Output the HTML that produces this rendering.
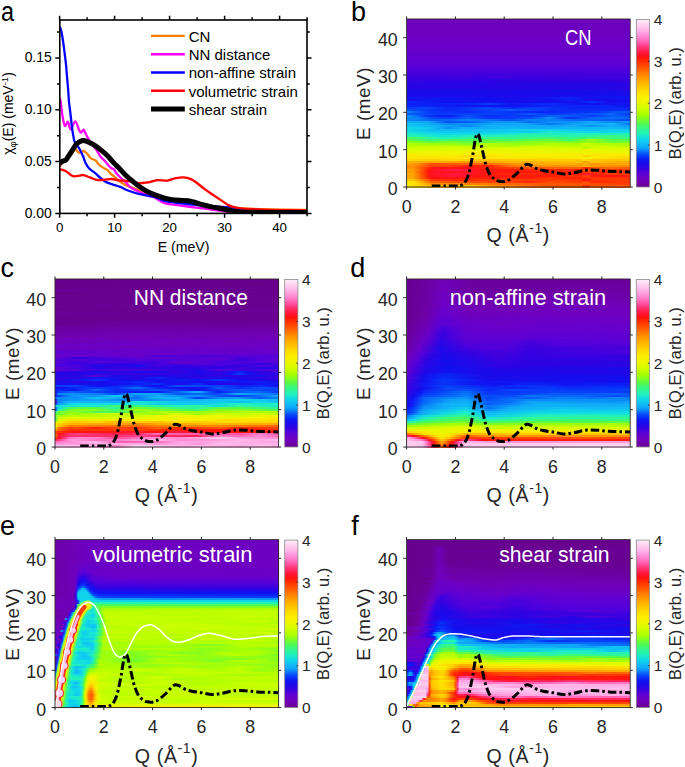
<!DOCTYPE html><html><head><meta charset="utf-8"><style>html,body{margin:0;padding:0;background:#fff;width:685px;height:767px;overflow:hidden}svg{display:block}text{font-family:"Liberation Sans",sans-serif}</style></head><body><svg width="685" height="767" viewBox="0 0 685 767" font-family='"Liberation Sans", sans-serif'><defs><linearGradient id="cbar" x1="0" y1="0" x2="0" y2="1"><stop offset="0.0000" stop-color="#ffecfa"/><stop offset="0.0125" stop-color="#ffe2f6"/><stop offset="0.0250" stop-color="#ffd8f3"/><stop offset="0.0375" stop-color="#ffceef"/><stop offset="0.0500" stop-color="#ffc1ec"/><stop offset="0.0625" stop-color="#ffb5e9"/><stop offset="0.0750" stop-color="#ffa7e4"/><stop offset="0.0875" stop-color="#ff99dc"/><stop offset="0.1000" stop-color="#ff8ad4"/><stop offset="0.1125" stop-color="#ff7cc9"/><stop offset="0.1250" stop-color="#ff6cbc"/><stop offset="0.1375" stop-color="#ff5bab"/><stop offset="0.1500" stop-color="#ff4a96"/><stop offset="0.1625" stop-color="#ff3a7e"/><stop offset="0.1750" stop-color="#ff2c67"/><stop offset="0.1875" stop-color="#ff2151"/><stop offset="0.2000" stop-color="#ff173c"/><stop offset="0.2125" stop-color="#ff1426"/><stop offset="0.2250" stop-color="#ff1010"/><stop offset="0.2375" stop-color="#ff1f09"/><stop offset="0.2500" stop-color="#ff2d01"/><stop offset="0.2625" stop-color="#ff3b00"/><stop offset="0.2750" stop-color="#ff4800"/><stop offset="0.2875" stop-color="#ff5600"/><stop offset="0.3000" stop-color="#ff6400"/><stop offset="0.3125" stop-color="#ff7300"/><stop offset="0.3250" stop-color="#ff8000"/><stop offset="0.3375" stop-color="#ff8d00"/><stop offset="0.3500" stop-color="#ff9a00"/><stop offset="0.3625" stop-color="#ffa600"/><stop offset="0.3750" stop-color="#ffb200"/><stop offset="0.3875" stop-color="#ffbc00"/><stop offset="0.4000" stop-color="#ffc600"/><stop offset="0.4125" stop-color="#ffd000"/><stop offset="0.4250" stop-color="#ffda00"/><stop offset="0.4375" stop-color="#fee200"/><stop offset="0.4500" stop-color="#fbe900"/><stop offset="0.4625" stop-color="#f9ef00"/><stop offset="0.4750" stop-color="#f4f200"/><stop offset="0.4875" stop-color="#eef500"/><stop offset="0.5000" stop-color="#e9f700"/><stop offset="0.5125" stop-color="#dffa00"/><stop offset="0.5250" stop-color="#d5fd00"/><stop offset="0.5375" stop-color="#c9ff00"/><stop offset="0.5500" stop-color="#bdff00"/><stop offset="0.5625" stop-color="#b0ff00"/><stop offset="0.5750" stop-color="#9cff0d"/><stop offset="0.5875" stop-color="#88ff1b"/><stop offset="0.6000" stop-color="#74fd2c"/><stop offset="0.6125" stop-color="#60fa40"/><stop offset="0.6250" stop-color="#4ef855"/><stop offset="0.6375" stop-color="#41f86e"/><stop offset="0.6500" stop-color="#35f886"/><stop offset="0.6625" stop-color="#2cf69c"/><stop offset="0.6750" stop-color="#25f3b0"/><stop offset="0.6875" stop-color="#1feec3"/><stop offset="0.7000" stop-color="#18e4d4"/><stop offset="0.7125" stop-color="#11dae5"/><stop offset="0.7250" stop-color="#10ceed"/><stop offset="0.7375" stop-color="#10c2f3"/><stop offset="0.7500" stop-color="#10b6f8"/><stop offset="0.7625" stop-color="#10aaf8"/><stop offset="0.7750" stop-color="#0c94f8"/><stop offset="0.7875" stop-color="#0879f8"/><stop offset="0.8000" stop-color="#0857f8"/><stop offset="0.8125" stop-color="#0840f8"/><stop offset="0.8250" stop-color="#092cf7"/><stop offset="0.8375" stop-color="#0e18f2"/><stop offset="0.8500" stop-color="#150eee"/><stop offset="0.8625" stop-color="#1d0aea"/><stop offset="0.8750" stop-color="#2706e6"/><stop offset="0.8875" stop-color="#3302e2"/><stop offset="0.9000" stop-color="#4300dd"/><stop offset="0.9125" stop-color="#5400d9"/><stop offset="0.9250" stop-color="#5f00d2"/><stop offset="0.9375" stop-color="#6800ca"/><stop offset="0.9500" stop-color="#6d00c1"/><stop offset="0.9625" stop-color="#7000b8"/><stop offset="0.9750" stop-color="#6e00ab"/><stop offset="0.9875" stop-color="#6b009d"/><stop offset="1.0000" stop-color="#68008c"/></linearGradient></defs><defs><clipPath id="clipa"><rect x="59.8" y="20.0" width="247.2" height="193.4"/></clipPath></defs><g clip-path="url(#clipa)" fill="none" stroke-linejoin="round" stroke-linecap="round"><path d="M60.10,165.70C60.72,164.97 62.57,162.67 63.80,161.30C65.03,159.93 66.40,158.48 67.50,157.50C68.60,156.52 69.40,156.40 70.40,155.40C71.40,154.40 72.63,152.52 73.50,151.50C74.37,150.48 74.67,149.08 75.60,149.30C76.53,149.52 77.78,152.52 79.10,152.80C80.42,153.08 82.18,150.87 83.50,151.00C84.82,151.13 85.83,152.43 87.00,153.60C88.17,154.77 89.42,157.02 90.50,158.00C91.58,158.98 92.62,159.07 93.50,159.50C94.38,159.93 94.83,159.68 95.80,160.60C96.77,161.52 97.85,163.68 99.30,165.00C100.75,166.32 103.13,167.67 104.50,168.50C105.87,169.33 106.62,169.27 107.50,170.00C108.38,170.73 108.55,171.68 109.80,172.90C111.05,174.12 113.25,175.83 115.00,177.30C116.75,178.77 118.47,180.38 120.30,181.70C122.13,183.02 123.98,184.18 126.00,185.20C128.02,186.22 130.12,186.95 132.40,187.80C134.68,188.65 137.03,189.37 139.70,190.30C142.37,191.23 145.85,192.38 148.40,193.40C150.95,194.42 151.40,195.22 155.00,196.40C158.60,197.58 164.17,199.32 170.00,200.50C175.83,201.68 183.33,202.62 190.00,203.50C196.67,204.38 203.33,205.13 210.00,205.80C216.67,206.47 223.33,207.00 230.00,207.50C236.67,208.00 241.67,208.45 250.00,208.80C258.33,209.15 270.67,209.40 280.00,209.60C289.33,209.80 301.67,209.93 306.00,210.00" stroke="#ff7f00" stroke-width="2.3"/><path d="M60.10,98.80C60.25,99.67 60.63,101.37 61.00,104.00C61.37,106.63 61.67,110.97 62.30,114.60C62.93,118.23 63.85,124.60 64.80,125.80C65.75,127.00 67.03,121.20 68.00,121.80C68.97,122.40 69.38,129.47 70.60,129.40C71.82,129.33 73.88,121.30 75.30,121.40C76.72,121.50 78.17,128.13 79.10,130.00C80.03,131.87 80.18,132.63 80.90,132.60C81.62,132.57 82.82,130.08 83.40,129.80C83.98,129.52 83.65,129.55 84.40,130.90C85.15,132.25 86.58,135.57 87.90,137.90C89.22,140.23 90.85,142.87 92.30,144.90C93.75,146.93 95.28,148.20 96.60,150.10C97.92,152.00 98.88,154.55 100.20,156.30C101.52,158.05 103.05,159.00 104.50,160.60C105.95,162.20 107.73,164.58 108.90,165.90C110.07,167.22 110.70,167.98 111.50,168.50C112.30,169.02 112.82,168.12 113.70,169.00C114.58,169.88 115.42,172.13 116.80,173.80C118.18,175.47 120.47,177.55 122.00,179.00C123.53,180.45 124.52,181.07 126.00,182.50C127.48,183.93 128.62,186.02 130.90,187.60C133.18,189.18 136.78,190.67 139.70,192.00C142.62,193.33 145.85,194.63 148.40,195.60C150.95,196.57 152.30,196.53 155.00,197.80C157.70,199.07 160.57,201.93 164.60,203.20C168.63,204.47 174.33,204.72 179.20,205.40C184.07,206.08 188.93,206.70 193.80,207.30C198.67,207.90 203.53,208.35 208.40,209.00C213.27,209.65 219.35,210.65 223.00,211.20C226.65,211.75 225.80,212.07 230.30,212.30C234.80,212.53 237.38,212.53 250.00,212.60C262.62,212.67 296.67,212.68 306.00,212.70" stroke="#ff00ff" stroke-width="2.3"/><path d="M60.20,27.70C60.42,28.42 60.98,29.48 61.50,32.00C62.02,34.52 62.78,39.30 63.30,42.80C63.82,46.30 64.17,49.52 64.60,53.00C65.03,56.48 65.53,60.20 65.90,63.70C66.27,67.20 66.50,70.53 66.80,74.00C67.10,77.47 67.43,81.33 67.70,84.50C67.97,87.67 68.18,90.08 68.40,93.00C68.62,95.92 68.63,98.33 69.00,102.00C69.37,105.67 70.15,111.17 70.60,115.00C71.05,118.83 71.33,122.00 71.70,125.00C72.07,128.00 72.28,130.12 72.80,133.00C73.32,135.88 73.75,139.73 74.80,142.30C75.85,144.87 77.72,146.07 79.10,148.40C80.48,150.73 82.00,153.82 83.10,156.30C84.20,158.78 84.68,161.27 85.70,163.30C86.72,165.33 87.67,166.90 89.20,168.50C90.73,170.10 93.07,171.37 94.90,172.90C96.73,174.43 98.45,176.23 100.20,177.70C101.95,179.17 103.37,180.60 105.40,181.70C107.43,182.80 109.92,183.43 112.40,184.30C114.88,185.17 117.70,185.87 120.30,186.90C122.90,187.93 124.77,189.28 128.00,190.50C131.23,191.72 135.20,193.10 139.70,194.20C144.20,195.30 150.85,195.97 155.00,197.10C159.15,198.23 160.57,199.98 164.60,201.00C168.63,202.02 174.33,202.58 179.20,203.20C184.07,203.82 188.93,204.22 193.80,204.70C198.67,205.18 203.53,205.73 208.40,206.10C213.27,206.47 219.10,206.65 223.00,206.90C226.90,207.15 228.88,207.20 231.80,207.60C234.72,208.00 237.47,208.93 240.50,209.30C243.53,209.67 244.25,209.52 250.00,209.80C255.75,210.08 265.67,210.70 275.00,211.00C284.33,211.30 300.83,211.50 306.00,211.60" stroke="#0000ff" stroke-width="2.3"/><path d="M60.10,169.30C61.08,169.62 64.17,170.22 66.00,171.20C67.83,172.18 69.63,174.33 71.10,175.20C72.57,176.07 73.40,176.33 74.80,176.40C76.20,176.47 78.05,175.82 79.50,175.60C80.95,175.38 81.67,174.75 83.50,175.10C85.33,175.45 88.32,176.90 90.50,177.70C92.68,178.50 94.40,179.53 96.60,179.90C98.80,180.27 101.22,180.05 103.70,179.90C106.18,179.75 109.03,178.92 111.50,179.00C113.97,179.08 116.08,180.10 118.50,180.40C120.92,180.70 123.93,180.62 126.00,180.80C128.07,180.98 128.62,181.10 130.90,181.50C133.18,181.90 137.02,183.03 139.70,183.20C142.38,183.37 145.28,182.70 147.00,182.50C148.72,182.30 148.28,182.40 150.00,182.00C151.72,181.60 154.38,180.33 157.30,180.10C160.22,179.87 164.58,180.88 167.50,180.60C170.42,180.32 172.12,178.93 174.80,178.40C177.48,177.87 180.92,177.28 183.60,177.40C186.28,177.52 188.72,178.20 190.90,179.10C193.08,180.00 194.52,181.22 196.70,182.80C198.88,184.38 201.57,186.78 204.00,188.60C206.43,190.42 208.62,191.87 211.30,193.70C213.98,195.53 217.18,197.65 220.10,199.60C223.02,201.55 226.13,204.07 228.80,205.40C231.47,206.73 233.67,207.07 236.10,207.60C238.53,208.13 241.08,208.37 243.40,208.60C245.72,208.83 245.57,208.80 250.00,209.00C254.43,209.20 260.67,209.58 270.00,209.80C279.33,210.02 300.00,210.22 306.00,210.30" stroke="#ff0000" stroke-width="2.3"/><path d="M60.20,162.80C60.75,162.47 62.53,161.30 63.50,160.80C64.47,160.30 64.70,161.28 66.00,159.80C67.30,158.32 69.55,154.53 71.30,151.90C73.05,149.27 74.62,145.90 76.50,144.00C78.38,142.10 80.70,140.87 82.60,140.50C84.50,140.13 86.00,141.07 87.90,141.80C89.80,142.53 91.82,143.52 94.00,144.90C96.18,146.28 98.80,148.35 101.00,150.10C103.20,151.85 105.15,153.35 107.20,155.40C109.25,157.45 111.27,160.22 113.30,162.40C115.33,164.58 117.28,166.32 119.40,168.50C121.52,170.68 123.83,173.42 126.00,175.50C128.17,177.58 130.12,179.12 132.40,181.00C134.68,182.88 137.27,185.07 139.70,186.80C142.13,188.53 144.45,190.05 147.00,191.40C149.55,192.75 152.07,193.78 155.00,194.90C157.93,196.02 161.78,197.32 164.60,198.10C167.42,198.88 169.47,199.23 171.90,199.60C174.33,199.97 176.52,200.12 179.20,200.30C181.88,200.48 185.57,200.42 188.00,200.70C190.43,200.98 191.62,201.38 193.80,202.00C195.98,202.62 198.67,203.72 201.10,204.40C203.53,205.08 205.97,205.57 208.40,206.10C210.83,206.63 213.27,207.12 215.70,207.60C218.13,208.08 220.57,208.52 223.00,209.00C225.43,209.48 227.87,210.05 230.30,210.50C232.73,210.95 234.32,211.40 237.60,211.70C240.88,212.00 238.60,212.18 250.00,212.30C261.40,212.42 296.67,212.38 306.00,212.40" stroke="#000000" stroke-width="5.0"/></g><rect x="59.8" y="20.0" width="247.2" height="193.4" fill="none" stroke="#000" stroke-width="1.6"/><path d="M59.6,213.4v4.3M59.6,20.0v-4.3M87.1,213.4v2.8M87.1,20.0v-2.8M114.6,213.4v4.3M114.6,20.0v-4.3M142.1,213.4v2.8M142.1,20.0v-2.8M169.6,213.4v4.3M169.6,20.0v-4.3M197.1,213.4v2.8M197.1,20.0v-2.8M224.6,213.4v4.3M224.6,20.0v-4.3M252.1,213.4v2.8M252.1,20.0v-2.8M279.6,213.4v4.3M279.6,20.0v-4.3M307.1,213.4v2.8M307.1,20.0v-2.8M59.8,213.4h-4.5M307.0,213.4h4.5M59.8,187.5h-2.8M307.0,187.5h2.8M59.8,161.6h-4.5M307.0,161.6h4.5M59.8,135.7h-2.8M307.0,135.7h2.8M59.8,109.8h-4.5M307.0,109.8h4.5M59.8,83.9h-2.8M307.0,83.9h2.8M59.8,58.0h-4.5M307.0,58.0h4.5M59.8,32.1h-2.8M307.0,32.1h2.8" stroke="#000" stroke-width="1.5" fill="none"/><text x="51.7" y="217.8" text-anchor="end" font-size="13.9">0.00</text><text x="51.7" y="166.0" text-anchor="end" font-size="13.9">0.05</text><text x="51.7" y="114.2" text-anchor="end" font-size="13.9">0.10</text><text x="51.7" y="62.4" text-anchor="end" font-size="13.9">0.15</text><text x="59.6" y="232.4" text-anchor="middle" font-size="13.3">0</text><text x="114.6" y="232.4" text-anchor="middle" font-size="13.3">10</text><text x="169.6" y="232.4" text-anchor="middle" font-size="13.3">20</text><text x="224.6" y="232.4" text-anchor="middle" font-size="13.3">30</text><text x="279.6" y="232.4" text-anchor="middle" font-size="13.3">40</text><text x="183.6" y="251.5" text-anchor="middle" font-size="14.1">E (meV)</text><text transform="translate(13.4,113.5) rotate(-90)" text-anchor="middle" font-size="14">&#967;<tspan font-size="9.5" dy="3">&#966;</tspan><tspan dy="-3">(E) (meV</tspan><tspan font-size="9.5" dy="-5">-1</tspan><tspan dy="5">)</tspan></text><path d="M151,35.9H184.8" stroke="#ff7f00" stroke-width="2.4"/><text x="188.7" y="41.6" font-size="15.0">CN</text><path d="M151,54.2H184.8" stroke="#ff00ff" stroke-width="2.4"/><text x="188.7" y="59.9" font-size="15.0">NN distance</text><path d="M151,72.5H184.8" stroke="#0000ff" stroke-width="2.4"/><text x="188.7" y="78.2" font-size="15.0">non-affine strain</text><path d="M151,90.8H184.8" stroke="#ff0000" stroke-width="2.4"/><text x="188.7" y="96.5" font-size="15.0">volumetric strain</text><path d="M151,109.1H184.8" stroke="#000000" stroke-width="5.0"/><text x="188.7" y="114.8" font-size="15.0">shear strain</text><defs><linearGradient id="gb24"><stop offset="0.004" stop-color="#5400d9"/><stop offset="0.621" stop-color="#5300d9"/><stop offset="0.996" stop-color="#5300d9"/></linearGradient><linearGradient id="gb27"><stop offset="0.004" stop-color="#4500dd"/><stop offset="0.496" stop-color="#4200de"/><stop offset="0.996" stop-color="#4300dd"/></linearGradient><linearGradient id="gb28"><stop offset="0.004" stop-color="#4000de"/><stop offset="0.969" stop-color="#4100de"/><stop offset="0.996" stop-color="#4400dd"/></linearGradient><linearGradient id="gb29"><stop offset="0.004" stop-color="#3900e0"/><stop offset="0.772" stop-color="#3c00df"/><stop offset="0.996" stop-color="#3e00de"/></linearGradient><linearGradient id="gb30"><stop offset="0.004" stop-color="#3501e1"/><stop offset="0.388" stop-color="#2e03e3"/><stop offset="0.701" stop-color="#3501e1"/><stop offset="0.996" stop-color="#3501e1"/></linearGradient><linearGradient id="gb31"><stop offset="0.004" stop-color="#2d04e4"/><stop offset="0.897" stop-color="#2e03e3"/><stop offset="0.996" stop-color="#3003e3"/></linearGradient><linearGradient id="gb32"><stop offset="0.004" stop-color="#2b04e4"/><stop offset="0.254" stop-color="#2506e6"/><stop offset="0.540" stop-color="#2706e6"/><stop offset="0.844" stop-color="#2706e6"/><stop offset="0.951" stop-color="#2506e6"/><stop offset="0.996" stop-color="#2d04e4"/></linearGradient><linearGradient id="gb33"><stop offset="0.004" stop-color="#2805e5"/><stop offset="0.138" stop-color="#2c04e4"/><stop offset="0.219" stop-color="#2e03e3"/><stop offset="0.433" stop-color="#2a05e5"/><stop offset="0.933" stop-color="#2407e7"/><stop offset="0.996" stop-color="#2b04e4"/></linearGradient><linearGradient id="gb34"><stop offset="0.004" stop-color="#2805e5"/><stop offset="0.638" stop-color="#2207e7"/><stop offset="0.915" stop-color="#2506e6"/><stop offset="0.996" stop-color="#2e03e3"/></linearGradient><linearGradient id="gb35"><stop offset="0.004" stop-color="#1e09e9"/><stop offset="0.371" stop-color="#1d09e9"/><stop offset="0.496" stop-color="#2207e7"/><stop offset="0.719" stop-color="#1a0beb"/><stop offset="0.996" stop-color="#2706e6"/></linearGradient><linearGradient id="gb36"><stop offset="0.004" stop-color="#1d0aea"/><stop offset="0.165" stop-color="#190cec"/><stop offset="0.888" stop-color="#170ded"/><stop offset="0.996" stop-color="#170ded"/></linearGradient><linearGradient id="gb37"><stop offset="0.004" stop-color="#170ded"/><stop offset="0.254" stop-color="#170cec"/><stop offset="0.629" stop-color="#1d09e9"/><stop offset="0.871" stop-color="#190beb"/><stop offset="0.996" stop-color="#1c0aea"/></linearGradient><linearGradient id="gb38"><stop offset="0.004" stop-color="#1c0aea"/><stop offset="0.603" stop-color="#1a0beb"/><stop offset="0.879" stop-color="#1012f0"/><stop offset="0.996" stop-color="#120fef"/></linearGradient><linearGradient id="gb39"><stop offset="0.004" stop-color="#0f15f1"/><stop offset="0.326" stop-color="#140eee"/><stop offset="0.522" stop-color="#1a0beb"/><stop offset="0.737" stop-color="#0c21f4"/><stop offset="0.808" stop-color="#160ded"/><stop offset="0.996" stop-color="#0f16f1"/></linearGradient><linearGradient id="gb40"><stop offset="0.004" stop-color="#160ded"/><stop offset="0.103" stop-color="#0e17f2"/><stop offset="0.237" stop-color="#120fef"/><stop offset="0.656" stop-color="#130eee"/><stop offset="0.737" stop-color="#0c1ff4"/><stop offset="0.817" stop-color="#190beb"/><stop offset="0.996" stop-color="#140eee"/></linearGradient><linearGradient id="gb41"><stop offset="0.004" stop-color="#092af7"/><stop offset="0.156" stop-color="#0f13f1"/><stop offset="0.379" stop-color="#1012f0"/><stop offset="0.487" stop-color="#180cec"/><stop offset="0.656" stop-color="#120fef"/><stop offset="0.754" stop-color="#130fef"/><stop offset="0.826" stop-color="#082ef8"/><stop offset="0.897" stop-color="#150eee"/><stop offset="0.996" stop-color="#170ded"/></linearGradient><linearGradient id="gb42"><stop offset="0.004" stop-color="#0c1ef4"/><stop offset="0.246" stop-color="#0c1ff4"/><stop offset="0.299" stop-color="#0b26f5"/><stop offset="0.371" stop-color="#083cf8"/><stop offset="0.469" stop-color="#0e16f2"/><stop offset="0.638" stop-color="#0a2af6"/><stop offset="0.790" stop-color="#120fef"/><stop offset="0.996" stop-color="#0f16f1"/></linearGradient><linearGradient id="gb43"><stop offset="0.004" stop-color="#0a26f6"/><stop offset="0.219" stop-color="#0e19f2"/><stop offset="0.317" stop-color="#0f13f1"/><stop offset="0.388" stop-color="#0f14f1"/><stop offset="0.513" stop-color="#0f14f1"/><stop offset="0.638" stop-color="#0b26f5"/><stop offset="0.888" stop-color="#0b24f5"/><stop offset="0.996" stop-color="#1012f0"/></linearGradient><linearGradient id="gb44"><stop offset="0.004" stop-color="#0839f8"/><stop offset="0.094" stop-color="#0847f8"/><stop offset="0.192" stop-color="#0a26f6"/><stop offset="0.362" stop-color="#0844f8"/><stop offset="0.469" stop-color="#092af7"/><stop offset="0.567" stop-color="#0840f8"/><stop offset="0.754" stop-color="#0b22f5"/><stop offset="0.915" stop-color="#0a27f6"/><stop offset="0.996" stop-color="#0b23f5"/></linearGradient><linearGradient id="gb45"><stop offset="0.004" stop-color="#0851f8"/><stop offset="0.183" stop-color="#0b24f5"/><stop offset="0.415" stop-color="#084df8"/><stop offset="0.469" stop-color="#0859f8"/><stop offset="0.656" stop-color="#082ff8"/><stop offset="0.826" stop-color="#0a2af6"/><stop offset="0.978" stop-color="#092df7"/><stop offset="0.996" stop-color="#082ff8"/></linearGradient><linearGradient id="gb46"><stop offset="0.004" stop-color="#0983f8"/><stop offset="0.103" stop-color="#0838f8"/><stop offset="0.290" stop-color="#092bf7"/><stop offset="0.388" stop-color="#083ff8"/><stop offset="0.594" stop-color="#0b24f5"/><stop offset="0.844" stop-color="#0836f8"/><stop offset="0.951" stop-color="#0854f8"/><stop offset="0.996" stop-color="#0859f8"/></linearGradient><linearGradient id="gb47"><stop offset="0.004" stop-color="#085cf8"/><stop offset="0.067" stop-color="#084bf8"/><stop offset="0.156" stop-color="#0839f8"/><stop offset="0.335" stop-color="#0844f8"/><stop offset="0.469" stop-color="#083bf8"/><stop offset="0.549" stop-color="#0857f8"/><stop offset="0.647" stop-color="#0837f8"/><stop offset="0.862" stop-color="#0855f8"/><stop offset="0.915" stop-color="#0867f8"/><stop offset="0.996" stop-color="#083bf8"/></linearGradient><linearGradient id="gb48"><stop offset="0.004" stop-color="#0c94f8"/><stop offset="0.040" stop-color="#0874f8"/><stop offset="0.085" stop-color="#083df8"/><stop offset="0.147" stop-color="#0c1ff4"/><stop offset="0.192" stop-color="#0d1cf3"/><stop offset="0.272" stop-color="#0852f8"/><stop offset="0.371" stop-color="#092ef7"/><stop offset="0.478" stop-color="#083cf8"/><stop offset="0.558" stop-color="#0835f8"/><stop offset="0.647" stop-color="#0866f8"/><stop offset="0.746" stop-color="#0857f8"/><stop offset="0.826" stop-color="#083bf8"/><stop offset="0.924" stop-color="#085ef8"/><stop offset="0.996" stop-color="#084cf8"/></linearGradient><linearGradient id="gb49"><stop offset="0.004" stop-color="#0b8ef8"/><stop offset="0.049" stop-color="#0881f8"/><stop offset="0.121" stop-color="#0848f8"/><stop offset="0.192" stop-color="#083df8"/><stop offset="0.272" stop-color="#0860f8"/><stop offset="0.371" stop-color="#0832f8"/><stop offset="0.558" stop-color="#084df8"/><stop offset="0.638" stop-color="#0b91f8"/><stop offset="0.710" stop-color="#0842f8"/><stop offset="0.737" stop-color="#0835f8"/><stop offset="0.844" stop-color="#086af8"/><stop offset="0.942" stop-color="#086df8"/><stop offset="0.996" stop-color="#0862f8"/></linearGradient><linearGradient id="gb50"><stop offset="0.004" stop-color="#0986f8"/><stop offset="0.049" stop-color="#0882f8"/><stop offset="0.121" stop-color="#085ef8"/><stop offset="0.201" stop-color="#0868f8"/><stop offset="0.281" stop-color="#0986f8"/><stop offset="0.388" stop-color="#086ef8"/><stop offset="0.460" stop-color="#0850f8"/><stop offset="0.558" stop-color="#0882f8"/><stop offset="0.665" stop-color="#087df8"/><stop offset="0.772" stop-color="#0865f8"/><stop offset="0.924" stop-color="#085ef8"/><stop offset="0.996" stop-color="#0841f8"/></linearGradient><linearGradient id="gb51"><stop offset="0.004" stop-color="#10aaf8"/><stop offset="0.094" stop-color="#10a9f8"/><stop offset="0.183" stop-color="#0853f8"/><stop offset="0.281" stop-color="#085df8"/><stop offset="0.379" stop-color="#0b91f8"/><stop offset="0.469" stop-color="#0c96f8"/><stop offset="0.549" stop-color="#086ef8"/><stop offset="0.647" stop-color="#0b90f8"/><stop offset="0.746" stop-color="#0a8cf8"/><stop offset="0.826" stop-color="#10a7f8"/><stop offset="0.924" stop-color="#0986f8"/><stop offset="0.996" stop-color="#0d9af8"/></linearGradient><linearGradient id="gb52"><stop offset="0.004" stop-color="#10c5f1"/><stop offset="0.103" stop-color="#10acf8"/><stop offset="0.192" stop-color="#0987f8"/><stop offset="0.406" stop-color="#0fa5f8"/><stop offset="0.531" stop-color="#10a9f8"/><stop offset="0.638" stop-color="#0874f8"/><stop offset="0.746" stop-color="#0fa2f8"/><stop offset="0.924" stop-color="#10b2f8"/><stop offset="0.978" stop-color="#0987f8"/><stop offset="0.996" stop-color="#0870f8"/></linearGradient><linearGradient id="gb53"><stop offset="0.004" stop-color="#10c4f2"/><stop offset="0.094" stop-color="#10baf7"/><stop offset="0.228" stop-color="#0d99f8"/><stop offset="0.272" stop-color="#0984f8"/><stop offset="0.362" stop-color="#10b3f8"/><stop offset="0.603" stop-color="#10aaf8"/><stop offset="0.656" stop-color="#0fa5f8"/><stop offset="0.746" stop-color="#10aef8"/><stop offset="0.826" stop-color="#0b90f8"/><stop offset="0.915" stop-color="#10aef8"/><stop offset="0.996" stop-color="#0e9ef8"/></linearGradient><linearGradient id="gb54"><stop offset="0.004" stop-color="#11dae5"/><stop offset="0.094" stop-color="#10ceed"/><stop offset="0.174" stop-color="#0c96f8"/><stop offset="0.183" stop-color="#0b8df8"/><stop offset="0.254" stop-color="#10b2f8"/><stop offset="0.353" stop-color="#10acf8"/><stop offset="0.478" stop-color="#10b9f8"/><stop offset="0.576" stop-color="#10acf8"/><stop offset="0.871" stop-color="#10bcf6"/><stop offset="0.996" stop-color="#10b0f8"/></linearGradient><linearGradient id="gb55"><stop offset="0.004" stop-color="#11d9e6"/><stop offset="0.129" stop-color="#10b7f8"/><stop offset="0.406" stop-color="#10c8f0"/><stop offset="0.567" stop-color="#10d6e9"/><stop offset="0.701" stop-color="#10d0ec"/><stop offset="0.835" stop-color="#10bff5"/><stop offset="0.942" stop-color="#10d1ec"/><stop offset="0.996" stop-color="#10ccee"/></linearGradient><linearGradient id="gb56"><stop offset="0.004" stop-color="#13dddf"/><stop offset="0.138" stop-color="#10c9f0"/><stop offset="0.326" stop-color="#10c7f0"/><stop offset="0.406" stop-color="#10ccee"/><stop offset="0.487" stop-color="#10d2eb"/><stop offset="0.558" stop-color="#10ccee"/><stop offset="0.647" stop-color="#1ce9cb"/><stop offset="0.808" stop-color="#10d7e9"/><stop offset="0.996" stop-color="#10d8e7"/></linearGradient><linearGradient id="gb57"><stop offset="0.004" stop-color="#1eedc4"/><stop offset="0.076" stop-color="#17e3d5"/><stop offset="0.147" stop-color="#10d9e7"/><stop offset="0.326" stop-color="#13dce2"/><stop offset="0.478" stop-color="#1ae7d0"/><stop offset="0.558" stop-color="#24f2b4"/><stop offset="0.665" stop-color="#1eecc6"/><stop offset="0.844" stop-color="#21f1bc"/><stop offset="0.924" stop-color="#1cebc9"/><stop offset="0.996" stop-color="#25f3b0"/></linearGradient><linearGradient id="gb58"><stop offset="0.004" stop-color="#24f2b4"/><stop offset="0.049" stop-color="#23f2b6"/><stop offset="0.147" stop-color="#18e4d4"/><stop offset="0.210" stop-color="#1ae7cf"/><stop offset="0.290" stop-color="#22f1ba"/><stop offset="0.388" stop-color="#23f1b8"/><stop offset="0.496" stop-color="#29f4a6"/><stop offset="0.665" stop-color="#29f5a4"/><stop offset="0.746" stop-color="#26f3ae"/><stop offset="0.915" stop-color="#3af87d"/><stop offset="0.996" stop-color="#29f4a5"/></linearGradient><linearGradient id="gb59"><stop offset="0.004" stop-color="#4bf85a"/><stop offset="0.049" stop-color="#3ff873"/><stop offset="0.129" stop-color="#26f3ae"/><stop offset="0.192" stop-color="#21f1bd"/><stop offset="0.290" stop-color="#30f890"/><stop offset="0.379" stop-color="#36f884"/><stop offset="0.478" stop-color="#30f890"/><stop offset="0.647" stop-color="#42f86b"/><stop offset="0.737" stop-color="#34f888"/><stop offset="0.835" stop-color="#43f86a"/><stop offset="0.996" stop-color="#37f883"/></linearGradient><linearGradient id="gb60"><stop offset="0.004" stop-color="#5efa42"/><stop offset="0.058" stop-color="#47f863"/><stop offset="0.103" stop-color="#37f883"/><stop offset="0.201" stop-color="#44f869"/><stop offset="0.299" stop-color="#47f861"/><stop offset="0.371" stop-color="#56f94a"/><stop offset="0.469" stop-color="#47f862"/><stop offset="0.638" stop-color="#6afc36"/><stop offset="0.728" stop-color="#3ef873"/><stop offset="0.772" stop-color="#65fb3b"/><stop offset="0.817" stop-color="#9cff0e"/><stop offset="0.853" stop-color="#87ff1b"/><stop offset="0.915" stop-color="#55f94b"/><stop offset="0.996" stop-color="#54f94c"/></linearGradient><linearGradient id="gb61"><stop offset="0.004" stop-color="#8aff19"/><stop offset="0.103" stop-color="#62fb3e"/><stop offset="0.192" stop-color="#76fe2a"/><stop offset="0.317" stop-color="#61fa3f"/><stop offset="0.415" stop-color="#71fd2f"/><stop offset="0.567" stop-color="#8dff17"/><stop offset="0.746" stop-color="#7eff22"/><stop offset="0.826" stop-color="#95ff12"/><stop offset="0.924" stop-color="#69fc37"/><stop offset="0.996" stop-color="#75fd2b"/></linearGradient><linearGradient id="gb62"><stop offset="0.004" stop-color="#afff01"/><stop offset="0.138" stop-color="#9bff0e"/><stop offset="0.201" stop-color="#97ff11"/><stop offset="0.272" stop-color="#7bfe25"/><stop offset="0.353" stop-color="#b6ff00"/><stop offset="0.406" stop-color="#b0ff00"/><stop offset="0.496" stop-color="#93ff13"/><stop offset="0.558" stop-color="#91ff14"/><stop offset="0.647" stop-color="#b5ff00"/><stop offset="0.754" stop-color="#aaff04"/><stop offset="0.781" stop-color="#aeff01"/><stop offset="0.790" stop-color="#d0fe00"/><stop offset="0.817" stop-color="#d2fd00"/><stop offset="0.826" stop-color="#b2ff00"/><stop offset="0.978" stop-color="#abff03"/><stop offset="0.996" stop-color="#acff03"/></linearGradient><linearGradient id="gb63"><stop offset="0.004" stop-color="#b7ff00"/><stop offset="0.165" stop-color="#bdff00"/><stop offset="0.379" stop-color="#b6ff00"/><stop offset="0.460" stop-color="#a4ff08"/><stop offset="0.567" stop-color="#c9ff00"/><stop offset="0.692" stop-color="#bcff00"/><stop offset="0.746" stop-color="#b8ff00"/><stop offset="0.844" stop-color="#cbff00"/><stop offset="0.996" stop-color="#b8ff00"/></linearGradient><linearGradient id="gb64"><stop offset="0.004" stop-color="#cefe00"/><stop offset="0.424" stop-color="#dafc00"/><stop offset="0.781" stop-color="#d4fd00"/><stop offset="0.790" stop-color="#b6ff00"/><stop offset="0.817" stop-color="#b7ff00"/><stop offset="0.826" stop-color="#d4fd00"/><stop offset="0.942" stop-color="#d3fd00"/><stop offset="0.996" stop-color="#defb00"/></linearGradient><linearGradient id="gb65"><stop offset="0.004" stop-color="#dbfb00"/><stop offset="0.531" stop-color="#e6f800"/><stop offset="0.781" stop-color="#e3f900"/><stop offset="0.790" stop-color="#f4f200"/><stop offset="0.817" stop-color="#f4f200"/><stop offset="0.826" stop-color="#e3f900"/><stop offset="0.942" stop-color="#e1fa00"/><stop offset="0.996" stop-color="#eaf700"/></linearGradient><linearGradient id="gb66"><stop offset="0.004" stop-color="#eaf700"/><stop offset="0.219" stop-color="#eef500"/><stop offset="0.299" stop-color="#f4f200"/><stop offset="0.442" stop-color="#ecf600"/><stop offset="0.996" stop-color="#e9f700"/></linearGradient><linearGradient id="gb67"><stop offset="0.004" stop-color="#f9ed00"/><stop offset="0.112" stop-color="#ebf700"/><stop offset="0.219" stop-color="#f3f300"/><stop offset="0.326" stop-color="#f5f100"/><stop offset="0.674" stop-color="#f6f100"/><stop offset="0.781" stop-color="#fce700"/><stop offset="0.799" stop-color="#f4f200"/><stop offset="0.844" stop-color="#faeb00"/><stop offset="0.969" stop-color="#f4f200"/><stop offset="0.996" stop-color="#f7f100"/></linearGradient><linearGradient id="gb68"><stop offset="0.004" stop-color="#fce600"/><stop offset="0.201" stop-color="#faeb00"/><stop offset="0.290" stop-color="#ffd700"/><stop offset="0.504" stop-color="#f8f000"/><stop offset="0.710" stop-color="#f7f100"/><stop offset="0.781" stop-color="#f9ee00"/><stop offset="0.790" stop-color="#ffd700"/><stop offset="0.817" stop-color="#ffd200"/><stop offset="0.826" stop-color="#fbe900"/><stop offset="0.996" stop-color="#fee300"/></linearGradient><linearGradient id="gb69"><stop offset="0.004" stop-color="#fde400"/><stop offset="0.513" stop-color="#fce700"/><stop offset="0.621" stop-color="#ffde00"/><stop offset="0.817" stop-color="#f9ee00"/><stop offset="0.996" stop-color="#ffd500"/></linearGradient><linearGradient id="gb70"><stop offset="0.004" stop-color="#ffda00"/><stop offset="0.112" stop-color="#ffcb00"/><stop offset="0.201" stop-color="#ffd900"/><stop offset="0.371" stop-color="#ffc100"/><stop offset="0.594" stop-color="#ffd100"/><stop offset="0.781" stop-color="#ffc800"/><stop offset="0.790" stop-color="#ffdb00"/><stop offset="0.817" stop-color="#ffdb00"/><stop offset="0.826" stop-color="#ffc800"/><stop offset="0.942" stop-color="#ffc100"/><stop offset="0.996" stop-color="#ffcc00"/></linearGradient><linearGradient id="gb71"><stop offset="0.004" stop-color="#ffb500"/><stop offset="0.281" stop-color="#ff9a00"/><stop offset="0.478" stop-color="#ffb800"/><stop offset="0.567" stop-color="#ffb200"/><stop offset="0.754" stop-color="#ffc400"/><stop offset="0.781" stop-color="#ffc400"/><stop offset="0.790" stop-color="#ffa300"/><stop offset="0.817" stop-color="#ffa300"/><stop offset="0.826" stop-color="#ffc300"/><stop offset="0.987" stop-color="#ffad00"/><stop offset="0.996" stop-color="#ffaa00"/></linearGradient><linearGradient id="gb72"><stop offset="0.004" stop-color="#ffa600"/><stop offset="0.040" stop-color="#ff9700"/><stop offset="0.112" stop-color="#ff4f00"/><stop offset="0.362" stop-color="#ff6d00"/><stop offset="0.496" stop-color="#ff9300"/><stop offset="0.594" stop-color="#ffab00"/><stop offset="0.746" stop-color="#ffae00"/><stop offset="0.781" stop-color="#ffa200"/><stop offset="0.790" stop-color="#ffb000"/><stop offset="0.817" stop-color="#ffa700"/><stop offset="0.826" stop-color="#ff9500"/><stop offset="0.969" stop-color="#ffa700"/><stop offset="0.996" stop-color="#ffa700"/></linearGradient><linearGradient id="gb73"><stop offset="0.004" stop-color="#ff8d00"/><stop offset="0.031" stop-color="#ff9300"/><stop offset="0.112" stop-color="#ff3f00"/><stop offset="0.192" stop-color="#ff4400"/><stop offset="0.290" stop-color="#ff1c0a"/><stop offset="0.371" stop-color="#ff2506"/><stop offset="0.469" stop-color="#ff7500"/><stop offset="0.576" stop-color="#ff9300"/><stop offset="0.665" stop-color="#ff9000"/><stop offset="0.781" stop-color="#ff9a00"/><stop offset="0.790" stop-color="#ffac00"/><stop offset="0.817" stop-color="#ffab00"/><stop offset="0.826" stop-color="#ff9800"/><stop offset="0.996" stop-color="#ff8c00"/></linearGradient><linearGradient id="gb74"><stop offset="0.004" stop-color="#ff8f00"/><stop offset="0.031" stop-color="#ff8f00"/><stop offset="0.103" stop-color="#ff2207"/><stop offset="0.121" stop-color="#ff160d"/><stop offset="0.272" stop-color="#ff1117"/><stop offset="0.415" stop-color="#ff3100"/><stop offset="0.531" stop-color="#ff4d00"/><stop offset="0.656" stop-color="#ff6200"/><stop offset="0.763" stop-color="#ff6400"/><stop offset="0.781" stop-color="#ff6100"/><stop offset="0.790" stop-color="#ff3600"/><stop offset="0.817" stop-color="#ff3100"/><stop offset="0.826" stop-color="#ff5a00"/><stop offset="0.924" stop-color="#ff6c00"/><stop offset="0.996" stop-color="#ff5900"/></linearGradient><linearGradient id="gb75"><stop offset="0.004" stop-color="#ffa800"/><stop offset="0.031" stop-color="#ffa000"/><stop offset="0.094" stop-color="#ff2505"/><stop offset="0.103" stop-color="#ff130e"/><stop offset="0.112" stop-color="#ff1320"/><stop offset="0.228" stop-color="#ff1e4c"/><stop offset="0.281" stop-color="#ff1738"/><stop offset="0.335" stop-color="#ff130e"/><stop offset="0.397" stop-color="#ff1b0b"/><stop offset="0.478" stop-color="#ff1a0b"/><stop offset="0.585" stop-color="#ff2d01"/><stop offset="0.763" stop-color="#ff2406"/><stop offset="0.781" stop-color="#ff2705"/><stop offset="0.790" stop-color="#ff4000"/><stop offset="0.817" stop-color="#ff4400"/><stop offset="0.826" stop-color="#ff2d01"/><stop offset="0.996" stop-color="#ff4500"/></linearGradient><linearGradient id="gb76"><stop offset="0.004" stop-color="#ff9b00"/><stop offset="0.031" stop-color="#ff9500"/><stop offset="0.094" stop-color="#ff2008"/><stop offset="0.103" stop-color="#ff1011"/><stop offset="0.112" stop-color="#ff1323"/><stop offset="0.210" stop-color="#ff1320"/><stop offset="0.567" stop-color="#ff1b0b"/><stop offset="0.781" stop-color="#ff2b02"/><stop offset="0.790" stop-color="#ff3a00"/><stop offset="0.817" stop-color="#ff3b00"/><stop offset="0.835" stop-color="#ff2903"/><stop offset="0.924" stop-color="#ff1f08"/><stop offset="0.996" stop-color="#ff4300"/></linearGradient><linearGradient id="gb77"><stop offset="0.004" stop-color="#ffaf00"/><stop offset="0.031" stop-color="#ffa300"/><stop offset="0.085" stop-color="#ff3300"/><stop offset="0.103" stop-color="#ff1114"/><stop offset="0.112" stop-color="#ff1428"/><stop offset="0.237" stop-color="#ff183e"/><stop offset="0.299" stop-color="#ff1426"/><stop offset="0.362" stop-color="#ff170c"/><stop offset="0.478" stop-color="#ff2c02"/><stop offset="0.585" stop-color="#ff2605"/><stop offset="0.683" stop-color="#ff2107"/><stop offset="0.781" stop-color="#ff1d0a"/><stop offset="0.790" stop-color="#ff173c"/><stop offset="0.817" stop-color="#ff1738"/><stop offset="0.826" stop-color="#ff2207"/><stop offset="0.933" stop-color="#ff3900"/><stop offset="0.996" stop-color="#ff3500"/></linearGradient><linearGradient id="gb78"><stop offset="0.004" stop-color="#ffa700"/><stop offset="0.031" stop-color="#ff9f00"/><stop offset="0.094" stop-color="#ff2705"/><stop offset="0.103" stop-color="#ff150e"/><stop offset="0.121" stop-color="#ff121f"/><stop offset="0.210" stop-color="#ff173d"/><stop offset="0.299" stop-color="#ff120f"/><stop offset="0.522" stop-color="#ff1b0a"/><stop offset="0.656" stop-color="#ff1b0a"/><stop offset="0.737" stop-color="#ff3500"/><stop offset="0.781" stop-color="#ff2804"/><stop offset="0.790" stop-color="#ff4200"/><stop offset="0.817" stop-color="#ff3b00"/><stop offset="0.826" stop-color="#ff1b0a"/><stop offset="0.933" stop-color="#ff130f"/><stop offset="0.996" stop-color="#ff2207"/></linearGradient><linearGradient id="gb79"><stop offset="0.004" stop-color="#ffad00"/><stop offset="0.031" stop-color="#ffa500"/><stop offset="0.094" stop-color="#ff2e01"/><stop offset="0.112" stop-color="#ff1010"/><stop offset="0.219" stop-color="#ff1110"/><stop offset="0.299" stop-color="#ff2108"/><stop offset="0.388" stop-color="#ff1c0a"/><stop offset="0.478" stop-color="#ff2804"/><stop offset="0.558" stop-color="#ff1f09"/><stop offset="0.647" stop-color="#ff3600"/><stop offset="0.746" stop-color="#ff1f09"/><stop offset="0.781" stop-color="#ff2406"/><stop offset="0.808" stop-color="#ff3200"/><stop offset="0.871" stop-color="#ff3400"/><stop offset="0.960" stop-color="#ff3500"/><stop offset="0.996" stop-color="#ff3000"/></linearGradient><linearGradient id="gb80"><stop offset="0.004" stop-color="#ffc700"/><stop offset="0.031" stop-color="#ffc400"/><stop offset="0.094" stop-color="#ff5f00"/><stop offset="0.112" stop-color="#ff3c00"/><stop offset="0.219" stop-color="#ff2804"/><stop offset="0.406" stop-color="#ff3c00"/><stop offset="0.585" stop-color="#ff3900"/><stop offset="0.692" stop-color="#ff3a00"/><stop offset="0.781" stop-color="#ff3400"/><stop offset="0.790" stop-color="#ff1117"/><stop offset="0.817" stop-color="#ff1119"/><stop offset="0.826" stop-color="#ff3300"/><stop offset="0.996" stop-color="#ff3a00"/></linearGradient><linearGradient id="gb81"><stop offset="0.004" stop-color="#faeb00"/><stop offset="0.040" stop-color="#ffdc00"/><stop offset="0.112" stop-color="#ff6200"/><stop offset="0.210" stop-color="#ff4f00"/><stop offset="0.469" stop-color="#ff3e00"/><stop offset="0.558" stop-color="#ff2904"/><stop offset="0.647" stop-color="#ff4d00"/><stop offset="0.772" stop-color="#ff3500"/><stop offset="0.781" stop-color="#ff3200"/><stop offset="0.790" stop-color="#ff4f00"/><stop offset="0.817" stop-color="#ff4500"/><stop offset="0.826" stop-color="#ff2406"/><stop offset="0.960" stop-color="#ff3600"/><stop offset="0.996" stop-color="#ff3600"/></linearGradient><linearGradient id="gb82"><stop offset="0.004" stop-color="#fbe900"/><stop offset="0.040" stop-color="#ffdf00"/><stop offset="0.112" stop-color="#ff9000"/><stop offset="0.246" stop-color="#ff8900"/><stop offset="0.594" stop-color="#ff5600"/><stop offset="0.799" stop-color="#ff5300"/><stop offset="0.951" stop-color="#ff3e00"/><stop offset="0.996" stop-color="#ff3f00"/></linearGradient><linearGradient id="gb83"><stop offset="0.004" stop-color="#fbe900"/><stop offset="0.058" stop-color="#ffd600"/><stop offset="0.121" stop-color="#ffb200"/><stop offset="0.290" stop-color="#ffc000"/><stop offset="0.397" stop-color="#ff9200"/><stop offset="0.576" stop-color="#ff6700"/><stop offset="0.656" stop-color="#ff5500"/><stop offset="0.781" stop-color="#ff5800"/><stop offset="0.790" stop-color="#ff3400"/><stop offset="0.817" stop-color="#ff3400"/><stop offset="0.826" stop-color="#ff5800"/><stop offset="0.996" stop-color="#ff5500"/></linearGradient><clipPath id="clb"><rect x="406.6" y="19.0" width="223.6" height="168.0"/></clipPath></defs><g shape-rendering="crispEdges"><rect x="406.6" y="19.00" width="223.6" height="2.60" fill="#6e00be"/><rect x="406.6" y="21.00" width="223.6" height="2.60" fill="#6e00be"/><rect x="406.6" y="23.00" width="223.6" height="2.60" fill="#6d00bf"/><rect x="406.6" y="25.00" width="223.6" height="2.60" fill="#6d00c0"/><rect x="406.6" y="27.00" width="223.6" height="2.60" fill="#6d00c0"/><rect x="406.6" y="29.00" width="223.6" height="2.60" fill="#6d00c1"/><rect x="406.6" y="31.00" width="223.6" height="2.60" fill="#6d00c1"/><rect x="406.6" y="33.00" width="223.6" height="2.60" fill="#6c00c2"/><rect x="406.6" y="35.00" width="223.6" height="2.60" fill="#6c00c3"/><rect x="406.6" y="37.00" width="223.6" height="2.60" fill="#6c00c4"/><rect x="406.6" y="39.00" width="223.6" height="2.60" fill="#6b00c5"/><rect x="406.6" y="41.00" width="223.6" height="2.60" fill="#6b00c6"/><rect x="406.6" y="43.00" width="223.6" height="2.60" fill="#6a00c7"/><rect x="406.6" y="45.00" width="223.6" height="2.60" fill="#6a00c8"/><rect x="406.6" y="47.00" width="223.6" height="2.60" fill="#6800ca"/><rect x="406.6" y="49.00" width="223.6" height="2.60" fill="#6700ca"/><rect x="406.6" y="51.00" width="223.6" height="2.60" fill="#6600cc"/><rect x="406.6" y="53.00" width="223.6" height="2.60" fill="#6500cc"/><rect x="406.6" y="55.00" width="223.6" height="2.60" fill="#6300ce"/><rect x="406.6" y="57.00" width="223.6" height="2.60" fill="#6100d0"/><rect x="406.6" y="59.00" width="223.6" height="2.60" fill="#6100d0"/><rect x="406.6" y="61.00" width="223.6" height="2.60" fill="#5e00d3"/><rect x="406.6" y="63.00" width="223.6" height="2.60" fill="#5b00d5"/><rect x="406.6" y="65.00" width="223.6" height="2.60" fill="#5a00d6"/><rect x="406.6" y="67.00" width="223.6" height="2.60" fill="url(#gb24)"/><rect x="406.6" y="69.00" width="223.6" height="2.60" fill="#4f00da"/><rect x="406.6" y="71.00" width="223.6" height="2.60" fill="#4a00dc"/><rect x="406.6" y="73.00" width="223.6" height="2.60" fill="url(#gb27)"/><rect x="406.6" y="75.00" width="223.6" height="2.60" fill="url(#gb28)"/><rect x="406.6" y="77.00" width="223.6" height="2.60" fill="url(#gb29)"/><rect x="406.6" y="79.00" width="223.6" height="2.60" fill="url(#gb30)"/><rect x="406.6" y="81.00" width="223.6" height="2.60" fill="url(#gb31)"/><rect x="406.6" y="83.00" width="223.6" height="2.60" fill="url(#gb32)"/><rect x="406.6" y="85.00" width="223.6" height="2.60" fill="url(#gb33)"/><rect x="406.6" y="87.00" width="223.6" height="2.60" fill="url(#gb34)"/><rect x="406.6" y="89.00" width="223.6" height="2.60" fill="url(#gb35)"/><rect x="406.6" y="91.00" width="223.6" height="2.60" fill="url(#gb36)"/><rect x="406.6" y="93.00" width="223.6" height="2.60" fill="url(#gb37)"/><rect x="406.6" y="95.00" width="223.6" height="2.60" fill="url(#gb38)"/><rect x="406.6" y="97.00" width="223.6" height="2.60" fill="url(#gb39)"/><rect x="406.6" y="99.00" width="223.6" height="2.60" fill="url(#gb40)"/><rect x="406.6" y="101.00" width="223.6" height="2.60" fill="url(#gb41)"/><rect x="406.6" y="103.00" width="223.6" height="2.60" fill="url(#gb42)"/><rect x="406.6" y="105.00" width="223.6" height="2.60" fill="url(#gb43)"/><rect x="406.6" y="107.00" width="223.6" height="2.60" fill="url(#gb44)"/><rect x="406.6" y="109.00" width="223.6" height="2.60" fill="url(#gb45)"/><rect x="406.6" y="111.00" width="223.6" height="2.60" fill="url(#gb46)"/><rect x="406.6" y="113.00" width="223.6" height="2.60" fill="url(#gb47)"/><rect x="406.6" y="115.00" width="223.6" height="2.60" fill="url(#gb48)"/><rect x="406.6" y="117.00" width="223.6" height="2.60" fill="url(#gb49)"/><rect x="406.6" y="119.00" width="223.6" height="2.60" fill="url(#gb50)"/><rect x="406.6" y="121.00" width="223.6" height="2.60" fill="url(#gb51)"/><rect x="406.6" y="123.00" width="223.6" height="2.60" fill="url(#gb52)"/><rect x="406.6" y="125.00" width="223.6" height="2.60" fill="url(#gb53)"/><rect x="406.6" y="127.00" width="223.6" height="2.60" fill="url(#gb54)"/><rect x="406.6" y="129.00" width="223.6" height="2.60" fill="url(#gb55)"/><rect x="406.6" y="131.00" width="223.6" height="2.60" fill="url(#gb56)"/><rect x="406.6" y="133.00" width="223.6" height="2.60" fill="url(#gb57)"/><rect x="406.6" y="135.00" width="223.6" height="2.60" fill="url(#gb58)"/><rect x="406.6" y="137.00" width="223.6" height="2.60" fill="url(#gb59)"/><rect x="406.6" y="139.00" width="223.6" height="2.60" fill="url(#gb60)"/><rect x="406.6" y="141.00" width="223.6" height="2.60" fill="url(#gb61)"/><rect x="406.6" y="143.00" width="223.6" height="2.60" fill="url(#gb62)"/><rect x="406.6" y="145.00" width="223.6" height="2.60" fill="url(#gb63)"/><rect x="406.6" y="147.00" width="223.6" height="2.60" fill="url(#gb64)"/><rect x="406.6" y="149.00" width="223.6" height="2.60" fill="url(#gb65)"/><rect x="406.6" y="151.00" width="223.6" height="2.60" fill="url(#gb66)"/><rect x="406.6" y="153.00" width="223.6" height="2.60" fill="url(#gb67)"/><rect x="406.6" y="155.00" width="223.6" height="2.60" fill="url(#gb68)"/><rect x="406.6" y="157.00" width="223.6" height="2.60" fill="url(#gb69)"/><rect x="406.6" y="159.00" width="223.6" height="2.60" fill="url(#gb70)"/><rect x="406.6" y="161.00" width="223.6" height="2.60" fill="url(#gb71)"/><rect x="406.6" y="163.00" width="223.6" height="2.60" fill="url(#gb72)"/><rect x="406.6" y="165.00" width="223.6" height="2.60" fill="url(#gb73)"/><rect x="406.6" y="167.00" width="223.6" height="2.60" fill="url(#gb74)"/><rect x="406.6" y="169.00" width="223.6" height="2.60" fill="url(#gb75)"/><rect x="406.6" y="171.00" width="223.6" height="2.60" fill="url(#gb76)"/><rect x="406.6" y="173.00" width="223.6" height="2.60" fill="url(#gb77)"/><rect x="406.6" y="175.00" width="223.6" height="2.60" fill="url(#gb78)"/><rect x="406.6" y="177.00" width="223.6" height="2.60" fill="url(#gb79)"/><rect x="406.6" y="179.00" width="223.6" height="2.60" fill="url(#gb80)"/><rect x="406.6" y="181.00" width="223.6" height="2.60" fill="url(#gb81)"/><rect x="406.6" y="183.00" width="223.6" height="2.60" fill="url(#gb82)"/><rect x="406.6" y="185.00" width="223.6" height="2.60" fill="url(#gb83)"/></g><g clip-path="url(#clb)" fill="none"><path d="M431.73,185.99C434.05,185.99 441.49,186.01 445.64,185.99C449.79,185.97 454.18,185.96 456.62,185.88C459.06,185.80 459.18,185.82 460.28,185.51C461.38,185.20 462.35,184.68 463.21,184.01C464.06,183.35 464.67,182.69 465.40,181.51C466.14,180.33 466.91,178.74 467.60,176.92C468.29,175.10 468.94,173.04 469.55,170.61C470.16,168.18 470.69,165.15 471.26,162.36C471.83,159.57 472.48,156.59 472.97,153.85C473.46,151.11 473.78,148.43 474.19,145.93C474.59,143.43 475.00,140.71 475.41,138.84C475.81,136.97 476.26,135.57 476.63,134.73C476.99,133.89 477.28,133.80 477.60,133.80C477.93,133.80 478.21,133.89 478.58,134.73C478.95,135.57 479.31,136.91 479.80,138.84C480.29,140.77 480.94,143.81 481.51,146.31C482.08,148.81 482.61,151.17 483.22,153.85C483.83,156.52 484.48,159.85 485.17,162.36C485.86,164.87 486.63,167.00 487.36,168.93C488.10,170.86 488.75,172.54 489.56,173.93C490.37,175.33 491.23,176.30 492.24,177.29C493.26,178.29 494.52,179.25 495.66,179.91C496.80,180.56 497.94,180.93 499.08,181.21C500.21,181.49 501.39,181.59 502.49,181.59C503.59,181.59 504.57,181.52 505.66,181.21C506.76,180.90 507.94,180.37 509.08,179.72C510.22,179.07 511.28,178.26 512.50,177.29C513.72,176.33 515.14,175.12 516.40,173.93C517.66,172.75 518.84,171.51 520.06,170.20C521.28,168.89 522.58,167.09 523.72,166.09C524.86,165.10 525.67,164.35 526.89,164.23C528.11,164.10 529.37,164.60 531.04,165.35C532.71,166.09 534.86,167.84 536.90,168.71C538.93,169.58 540.56,170.01 543.24,170.57C545.92,171.13 549.58,171.51 553.00,172.07C556.42,172.63 560.08,173.87 563.74,173.93C567.40,174.00 571.34,173.06 574.96,172.44C578.58,171.82 581.79,170.57 585.45,170.20C589.11,169.83 592.98,170.01 596.92,170.20C600.86,170.39 605.05,171.07 609.12,171.32C613.19,171.57 617.82,171.57 621.32,171.69C624.82,171.82 628.64,172.00 630.10,172.07" stroke="#000" stroke-width="3" stroke-dasharray="8.5 3 2.6 3"/></g><rect x="406.6" y="19.0" width="223.6" height="168.0" fill="none" stroke="#262626" stroke-width="0.9"/><path d="M406.6,187.0v2.6M406.6,19.0v-2.6M455.4,187.0v2.6M455.4,19.0v-2.6M504.2,187.0v2.6M504.2,19.0v-2.6M553.0,187.0v2.6M553.0,19.0v-2.6M601.8,187.0v2.6M601.8,19.0v-2.6M406.6,187.0h-3.4M630.2,187.0h2.6M406.6,149.7h-3.4M630.2,149.7h2.6M406.6,112.3h-3.4M630.2,112.3h2.6M406.6,75.0h-3.4M630.2,75.0h2.6M406.6,37.7h-3.4M630.2,37.7h2.6" stroke="#262626" stroke-width="1" fill="none"/><text x="397.7" y="195.0" text-anchor="end" font-size="17.8" fill="#262626">0</text><text x="397.7" y="157.7" text-anchor="end" font-size="17.8" fill="#262626">10</text><text x="397.7" y="120.3" text-anchor="end" font-size="17.8" fill="#262626">20</text><text x="397.7" y="83.0" text-anchor="end" font-size="17.8" fill="#262626">30</text><text x="397.7" y="45.7" text-anchor="end" font-size="17.8" fill="#262626">40</text><text x="406.6" y="212.7" text-anchor="middle" font-size="17.8" fill="#262626">0</text><text x="455.4" y="212.7" text-anchor="middle" font-size="17.8" fill="#262626">2</text><text x="504.2" y="212.7" text-anchor="middle" font-size="17.8" fill="#262626">4</text><text x="553.0" y="212.7" text-anchor="middle" font-size="17.8" fill="#262626">6</text><text x="601.8" y="212.7" text-anchor="middle" font-size="17.8" fill="#262626">8</text><text x="517.9" y="242.2" text-anchor="middle" font-size="19.6" fill="#262626" textLength="63" lengthAdjust="spacing">Q (&#197;<tspan font-size="14" dy="-9.5">-1</tspan><tspan dy="9.5">)</tspan></text><text transform="translate(370.4,103.8) rotate(-90)" text-anchor="middle" font-size="18.8" fill="#262626" textLength="72.5" lengthAdjust="spacing">E (meV)</text><rect x="636.3" y="19.5" width="13.2" height="167.5" fill="url(#cbar)" stroke="#8a8a8a" stroke-width="0.8"/><path d="M649.5,145.1h-1.6M649.5,103.2h-1.6M649.5,61.4h-1.6" stroke="#262626" stroke-width="0.9"/><text x="653.7" y="192.6" font-size="15.5" fill="#262626">0</text><text x="653.7" y="150.7" font-size="15.5" fill="#262626">1</text><text x="653.7" y="108.8" font-size="15.5" fill="#262626">2</text><text x="653.7" y="67.0" font-size="15.5" fill="#262626">3</text><text x="653.7" y="25.1" font-size="15.5" fill="#262626">4</text><text transform="translate(680.6,103.3) rotate(-90)" text-anchor="middle" font-size="16.4" fill="#262626">B(Q,E) (arb. u.)</text><text x="565.1" y="45.1" font-size="22" fill="#fff" textLength="26.5" lengthAdjust="spacingAndGlyphs">CN</text><defs><linearGradient id="gc0"><stop offset="0.004" stop-color="#68008d"/><stop offset="0.308" stop-color="#690093"/><stop offset="0.996" stop-color="#68008c"/></linearGradient><linearGradient id="gc2"><stop offset="0.004" stop-color="#690090"/><stop offset="0.415" stop-color="#69008f"/><stop offset="0.996" stop-color="#68008c"/></linearGradient><linearGradient id="gc3"><stop offset="0.004" stop-color="#68008c"/><stop offset="0.478" stop-color="#68008d"/><stop offset="0.996" stop-color="#68008c"/></linearGradient><linearGradient id="gc4"><stop offset="0.004" stop-color="#68008c"/><stop offset="0.888" stop-color="#6a0095"/><stop offset="0.996" stop-color="#690091"/></linearGradient><linearGradient id="gc5"><stop offset="0.004" stop-color="#6a0098"/><stop offset="0.237" stop-color="#69008f"/><stop offset="0.996" stop-color="#68008e"/></linearGradient><linearGradient id="gc7"><stop offset="0.004" stop-color="#68008c"/><stop offset="0.665" stop-color="#68008d"/><stop offset="0.996" stop-color="#68008e"/></linearGradient><linearGradient id="gc8"><stop offset="0.004" stop-color="#69008f"/><stop offset="0.129" stop-color="#690092"/><stop offset="0.237" stop-color="#690093"/><stop offset="0.996" stop-color="#68008c"/></linearGradient><linearGradient id="gc10"><stop offset="0.004" stop-color="#690092"/><stop offset="0.433" stop-color="#6a0094"/><stop offset="0.969" stop-color="#690090"/><stop offset="0.996" stop-color="#690091"/></linearGradient><linearGradient id="gc12"><stop offset="0.004" stop-color="#68008c"/><stop offset="0.210" stop-color="#6a0098"/><stop offset="0.335" stop-color="#690093"/><stop offset="0.772" stop-color="#6a0094"/><stop offset="0.996" stop-color="#68008c"/></linearGradient><linearGradient id="gc15"><stop offset="0.004" stop-color="#68008c"/><stop offset="0.237" stop-color="#68008d"/><stop offset="0.996" stop-color="#6a0097"/></linearGradient><linearGradient id="gc16"><stop offset="0.004" stop-color="#6a0094"/><stop offset="0.594" stop-color="#690092"/><stop offset="0.996" stop-color="#6a0096"/></linearGradient><linearGradient id="gc17"><stop offset="0.004" stop-color="#6b0099"/><stop offset="0.772" stop-color="#690092"/><stop offset="0.987" stop-color="#6a0094"/><stop offset="0.996" stop-color="#6a0095"/></linearGradient><linearGradient id="gc18"><stop offset="0.004" stop-color="#690090"/><stop offset="0.665" stop-color="#690091"/><stop offset="0.996" stop-color="#690092"/></linearGradient><linearGradient id="gc19"><stop offset="0.004" stop-color="#690091"/><stop offset="0.424" stop-color="#690091"/><stop offset="0.844" stop-color="#690093"/><stop offset="0.996" stop-color="#6a0096"/></linearGradient><linearGradient id="gc20"><stop offset="0.004" stop-color="#690090"/><stop offset="0.335" stop-color="#690092"/><stop offset="0.888" stop-color="#690093"/><stop offset="0.996" stop-color="#68008d"/></linearGradient><linearGradient id="gc21"><stop offset="0.004" stop-color="#6a0094"/><stop offset="0.397" stop-color="#6b009c"/><stop offset="0.496" stop-color="#690093"/><stop offset="0.996" stop-color="#6a0097"/></linearGradient><linearGradient id="gc22"><stop offset="0.004" stop-color="#690092"/><stop offset="0.397" stop-color="#6c00a0"/><stop offset="0.996" stop-color="#6b009a"/></linearGradient><linearGradient id="gc23"><stop offset="0.004" stop-color="#6a0098"/><stop offset="0.335" stop-color="#6c00a0"/><stop offset="0.594" stop-color="#6c00a0"/><stop offset="0.701" stop-color="#6c009f"/><stop offset="0.960" stop-color="#6c009e"/><stop offset="0.996" stop-color="#6c00a2"/></linearGradient><linearGradient id="gc24"><stop offset="0.004" stop-color="#6c00a3"/><stop offset="0.335" stop-color="#6d00a7"/><stop offset="0.996" stop-color="#6c00a1"/></linearGradient><linearGradient id="gc25"><stop offset="0.004" stop-color="#6d00a5"/><stop offset="0.728" stop-color="#6d00a9"/><stop offset="0.996" stop-color="#6d00a8"/></linearGradient><linearGradient id="gc26"><stop offset="0.004" stop-color="#6d00a9"/><stop offset="0.728" stop-color="#6e00ad"/><stop offset="0.996" stop-color="#6e00ad"/></linearGradient><linearGradient id="gc27"><stop offset="0.004" stop-color="#6d00a9"/><stop offset="0.272" stop-color="#6f00b5"/><stop offset="0.531" stop-color="#7000b6"/><stop offset="0.996" stop-color="#6f00b1"/></linearGradient><linearGradient id="gc28"><stop offset="0.004" stop-color="#6f00af"/><stop offset="0.719" stop-color="#6f00b3"/><stop offset="0.996" stop-color="#7000b6"/></linearGradient><linearGradient id="gc29"><stop offset="0.004" stop-color="#6e00ae"/><stop offset="0.165" stop-color="#7000b8"/><stop offset="0.996" stop-color="#6f00bc"/></linearGradient><linearGradient id="gc30"><stop offset="0.004" stop-color="#6e00bf"/><stop offset="0.138" stop-color="#6d00c1"/><stop offset="0.326" stop-color="#6f00bc"/><stop offset="0.701" stop-color="#6d00bf"/><stop offset="0.996" stop-color="#6f00ba"/></linearGradient><linearGradient id="gc31"><stop offset="0.004" stop-color="#6f00af"/><stop offset="0.281" stop-color="#6d00c0"/><stop offset="0.478" stop-color="#6e00be"/><stop offset="0.799" stop-color="#7000b8"/><stop offset="0.960" stop-color="#6c00c3"/><stop offset="0.996" stop-color="#6d00c0"/></linearGradient><linearGradient id="gc32"><stop offset="0.004" stop-color="#6d00c0"/><stop offset="0.335" stop-color="#6800ca"/><stop offset="0.442" stop-color="#6e00be"/><stop offset="0.862" stop-color="#6d00c1"/><stop offset="0.978" stop-color="#6b00c4"/><stop offset="0.996" stop-color="#6c00c3"/></linearGradient><linearGradient id="gc33"><stop offset="0.004" stop-color="#6b00c6"/><stop offset="0.165" stop-color="#6c00c3"/><stop offset="0.335" stop-color="#6e00bf"/><stop offset="0.567" stop-color="#6b00c4"/><stop offset="0.674" stop-color="#6b00c6"/><stop offset="0.835" stop-color="#6d00c1"/><stop offset="0.933" stop-color="#6a00c8"/><stop offset="0.996" stop-color="#6f00ba"/></linearGradient><linearGradient id="gc34"><stop offset="0.004" stop-color="#6c00c2"/><stop offset="0.165" stop-color="#6c00c2"/><stop offset="0.915" stop-color="#6c00c2"/><stop offset="0.996" stop-color="#6e00be"/></linearGradient><linearGradient id="gc35"><stop offset="0.004" stop-color="#6b00c5"/><stop offset="0.129" stop-color="#6400ce"/><stop offset="0.469" stop-color="#6300ce"/><stop offset="0.647" stop-color="#6400cd"/><stop offset="0.951" stop-color="#6300ce"/><stop offset="0.996" stop-color="#6a00c8"/></linearGradient><linearGradient id="gc36"><stop offset="0.004" stop-color="#5c00d4"/><stop offset="0.219" stop-color="#6a00c8"/><stop offset="0.522" stop-color="#6700cb"/><stop offset="0.978" stop-color="#6b00c6"/><stop offset="0.996" stop-color="#6a00c8"/></linearGradient><linearGradient id="gc37"><stop offset="0.004" stop-color="#6100d0"/><stop offset="0.522" stop-color="#6b00c4"/><stop offset="0.683" stop-color="#6400cd"/><stop offset="0.996" stop-color="#5e00d3"/></linearGradient><linearGradient id="gc38"><stop offset="0.004" stop-color="#6800ca"/><stop offset="0.272" stop-color="#5d00d3"/><stop offset="0.379" stop-color="#6600cb"/><stop offset="0.469" stop-color="#4800dc"/><stop offset="0.567" stop-color="#5600d8"/><stop offset="0.710" stop-color="#4900dc"/><stop offset="0.853" stop-color="#5c00d4"/><stop offset="0.996" stop-color="#5300d9"/></linearGradient><linearGradient id="gc39"><stop offset="0.004" stop-color="#6800c9"/><stop offset="0.094" stop-color="#3601e1"/><stop offset="0.335" stop-color="#5d00d4"/><stop offset="0.487" stop-color="#6100d0"/><stop offset="0.603" stop-color="#5200da"/><stop offset="0.746" stop-color="#6100d0"/><stop offset="0.835" stop-color="#4200de"/><stop offset="0.951" stop-color="#5600d8"/><stop offset="0.996" stop-color="#6000d1"/></linearGradient><linearGradient id="gc40"><stop offset="0.004" stop-color="#4200dd"/><stop offset="0.103" stop-color="#5500d9"/><stop offset="0.219" stop-color="#4000de"/><stop offset="0.308" stop-color="#4800dc"/><stop offset="0.379" stop-color="#5500d9"/><stop offset="0.478" stop-color="#4a00db"/><stop offset="0.629" stop-color="#5a00d7"/><stop offset="0.754" stop-color="#5a00d7"/><stop offset="0.826" stop-color="#3e00de"/><stop offset="0.951" stop-color="#5800d8"/><stop offset="0.996" stop-color="#5900d7"/></linearGradient><linearGradient id="gc41"><stop offset="0.004" stop-color="#6300ce"/><stop offset="0.094" stop-color="#3a00e0"/><stop offset="0.201" stop-color="#5800d8"/><stop offset="0.442" stop-color="#3f00de"/><stop offset="0.478" stop-color="#4b00db"/><stop offset="0.558" stop-color="#6800c9"/><stop offset="0.746" stop-color="#4500dd"/><stop offset="0.960" stop-color="#5600d8"/><stop offset="0.996" stop-color="#5300d9"/></linearGradient><linearGradient id="gc42"><stop offset="0.004" stop-color="#4900dc"/><stop offset="0.299" stop-color="#2e03e3"/><stop offset="0.585" stop-color="#4f00da"/><stop offset="0.683" stop-color="#5500d9"/><stop offset="0.853" stop-color="#4200de"/><stop offset="0.933" stop-color="#3601e1"/><stop offset="0.996" stop-color="#4500dd"/></linearGradient><linearGradient id="gc43"><stop offset="0.004" stop-color="#4f00da"/><stop offset="0.103" stop-color="#4e00db"/><stop offset="0.183" stop-color="#1f08e8"/><stop offset="0.281" stop-color="#3302e2"/><stop offset="0.371" stop-color="#1110f0"/><stop offset="0.460" stop-color="#4700dc"/><stop offset="0.558" stop-color="#2c04e4"/><stop offset="0.656" stop-color="#4000de"/><stop offset="0.835" stop-color="#2e03e3"/><stop offset="0.924" stop-color="#4a00dc"/><stop offset="0.996" stop-color="#3c00df"/></linearGradient><linearGradient id="gc44"><stop offset="0.004" stop-color="#5b00d6"/><stop offset="0.192" stop-color="#2905e5"/><stop offset="0.379" stop-color="#3a00df"/><stop offset="0.487" stop-color="#2b04e4"/><stop offset="0.683" stop-color="#3202e2"/><stop offset="0.763" stop-color="#3401e1"/><stop offset="0.826" stop-color="#4500dd"/><stop offset="0.933" stop-color="#2905e5"/><stop offset="0.996" stop-color="#2b04e4"/></linearGradient><linearGradient id="gc45"><stop offset="0.004" stop-color="#6000d1"/><stop offset="0.201" stop-color="#3c00df"/><stop offset="0.397" stop-color="#4600dc"/><stop offset="0.594" stop-color="#2307e7"/><stop offset="0.647" stop-color="#1c0aea"/><stop offset="0.737" stop-color="#5600d9"/><stop offset="0.835" stop-color="#3b00df"/><stop offset="0.996" stop-color="#5200da"/></linearGradient><linearGradient id="gc46"><stop offset="0.004" stop-color="#3601e1"/><stop offset="0.121" stop-color="#2706e6"/><stop offset="0.192" stop-color="#180cec"/><stop offset="0.281" stop-color="#3003e3"/><stop offset="0.388" stop-color="#160ded"/><stop offset="0.487" stop-color="#2207e7"/><stop offset="0.549" stop-color="#4000de"/><stop offset="0.647" stop-color="#1c0aea"/><stop offset="0.737" stop-color="#3202e2"/><stop offset="0.799" stop-color="#0f13f1"/><stop offset="0.826" stop-color="#0a28f6"/><stop offset="0.862" stop-color="#160ded"/><stop offset="0.933" stop-color="#3401e1"/><stop offset="0.996" stop-color="#3d00df"/></linearGradient><linearGradient id="gc47"><stop offset="0.004" stop-color="#2905e5"/><stop offset="0.121" stop-color="#2706e6"/><stop offset="0.237" stop-color="#2f03e3"/><stop offset="0.344" stop-color="#3d00df"/><stop offset="0.424" stop-color="#3a00e0"/><stop offset="0.638" stop-color="#2008e8"/><stop offset="0.737" stop-color="#3202e2"/><stop offset="0.790" stop-color="#0f14f1"/><stop offset="0.817" stop-color="#0839f8"/><stop offset="0.835" stop-color="#092ef7"/><stop offset="0.871" stop-color="#160ded"/><stop offset="0.924" stop-color="#3003e3"/><stop offset="0.996" stop-color="#2506e6"/></linearGradient><linearGradient id="gc48"><stop offset="0.004" stop-color="#2706e6"/><stop offset="0.103" stop-color="#2108e8"/><stop offset="0.183" stop-color="#5b00d6"/><stop offset="0.272" stop-color="#1a0beb"/><stop offset="0.424" stop-color="#2207e7"/><stop offset="0.513" stop-color="#2307e7"/><stop offset="0.781" stop-color="#2d04e4"/><stop offset="0.924" stop-color="#150eee"/><stop offset="0.996" stop-color="#3a00df"/></linearGradient><linearGradient id="gc49"><stop offset="0.004" stop-color="#3601e1"/><stop offset="0.103" stop-color="#2d04e4"/><stop offset="0.192" stop-color="#0e17f2"/><stop offset="0.317" stop-color="#1f09e9"/><stop offset="0.371" stop-color="#2f03e3"/><stop offset="0.442" stop-color="#0d1bf3"/><stop offset="0.460" stop-color="#0a28f6"/><stop offset="0.522" stop-color="#140eee"/><stop offset="0.647" stop-color="#2a05e5"/><stop offset="0.763" stop-color="#190beb"/><stop offset="0.978" stop-color="#3900e0"/><stop offset="0.996" stop-color="#4000de"/></linearGradient><linearGradient id="gc50"><stop offset="0.004" stop-color="#2d04e4"/><stop offset="0.129" stop-color="#0d1df3"/><stop offset="0.192" stop-color="#082ff8"/><stop offset="0.272" stop-color="#140eee"/><stop offset="0.487" stop-color="#160ded"/><stop offset="0.567" stop-color="#0d1df3"/><stop offset="0.647" stop-color="#0f14f1"/><stop offset="0.737" stop-color="#0834f8"/><stop offset="0.826" stop-color="#130fef"/><stop offset="0.951" stop-color="#2108e8"/><stop offset="0.996" stop-color="#1e09e9"/></linearGradient><linearGradient id="gc51"><stop offset="0.004" stop-color="#170cec"/><stop offset="0.103" stop-color="#2b04e4"/><stop offset="0.228" stop-color="#150eee"/><stop offset="0.317" stop-color="#0e19f2"/><stop offset="0.371" stop-color="#092af7"/><stop offset="0.460" stop-color="#150eee"/><stop offset="0.558" stop-color="#0f15f1"/><stop offset="0.665" stop-color="#1b0beb"/><stop offset="0.879" stop-color="#0e17f2"/><stop offset="0.924" stop-color="#0d1ef3"/><stop offset="0.996" stop-color="#1b0aea"/></linearGradient><linearGradient id="gc52"><stop offset="0.004" stop-color="#170cec"/><stop offset="0.263" stop-color="#170ded"/><stop offset="0.379" stop-color="#0d1df3"/><stop offset="0.460" stop-color="#0834f8"/><stop offset="0.513" stop-color="#130eee"/><stop offset="0.558" stop-color="#1c0aea"/><stop offset="0.603" stop-color="#0e18f2"/><stop offset="0.638" stop-color="#0835f8"/><stop offset="0.683" stop-color="#130fef"/><stop offset="0.754" stop-color="#2905e5"/><stop offset="0.835" stop-color="#2606e6"/><stop offset="0.942" stop-color="#0e17f2"/><stop offset="0.996" stop-color="#0e1af2"/></linearGradient><linearGradient id="gc53"><stop offset="0.004" stop-color="#083af8"/><stop offset="0.094" stop-color="#0840f8"/><stop offset="0.192" stop-color="#1010f0"/><stop offset="0.371" stop-color="#0839f8"/><stop offset="0.433" stop-color="#130eee"/><stop offset="0.478" stop-color="#120fef"/><stop offset="0.549" stop-color="#084ff8"/><stop offset="0.746" stop-color="#083ff8"/><stop offset="0.835" stop-color="#0c22f4"/><stop offset="0.924" stop-color="#0a2af6"/><stop offset="0.996" stop-color="#140eee"/></linearGradient><linearGradient id="gc54"><stop offset="0.004" stop-color="#1d0aea"/><stop offset="0.058" stop-color="#0d1cf3"/><stop offset="0.156" stop-color="#083bf8"/><stop offset="0.219" stop-color="#0838f8"/><stop offset="0.281" stop-color="#082ff8"/><stop offset="0.353" stop-color="#086af8"/><stop offset="0.371" stop-color="#0871f8"/><stop offset="0.424" stop-color="#083df8"/><stop offset="0.487" stop-color="#0d1df3"/><stop offset="0.621" stop-color="#170ded"/><stop offset="0.665" stop-color="#0e17f2"/><stop offset="0.728" stop-color="#0857f8"/><stop offset="0.826" stop-color="#0831f8"/><stop offset="0.924" stop-color="#0850f8"/><stop offset="0.996" stop-color="#0842f8"/></linearGradient><linearGradient id="gc55"><stop offset="0.004" stop-color="#0b23f5"/><stop offset="0.094" stop-color="#0e19f2"/><stop offset="0.174" stop-color="#0860f8"/><stop offset="0.183" stop-color="#086bf8"/><stop offset="0.246" stop-color="#0839f8"/><stop offset="0.281" stop-color="#0a29f6"/><stop offset="0.460" stop-color="#0852f8"/><stop offset="0.638" stop-color="#140eee"/><stop offset="0.808" stop-color="#0857f8"/><stop offset="0.835" stop-color="#085af8"/><stop offset="0.924" stop-color="#0840f8"/><stop offset="0.996" stop-color="#0848f8"/></linearGradient><linearGradient id="gc56"><stop offset="0.004" stop-color="#130fef"/><stop offset="0.013" stop-color="#083ef8"/><stop offset="0.076" stop-color="#0861f8"/><stop offset="0.299" stop-color="#0b24f5"/><stop offset="0.460" stop-color="#0e19f2"/><stop offset="0.540" stop-color="#085ff8"/><stop offset="0.621" stop-color="#10a8f8"/><stop offset="0.647" stop-color="#10a9f8"/><stop offset="0.701" stop-color="#0844f8"/><stop offset="0.728" stop-color="#0c20f4"/><stop offset="0.844" stop-color="#0860f8"/><stop offset="0.915" stop-color="#0869f8"/><stop offset="0.996" stop-color="#0837f8"/></linearGradient><linearGradient id="gc57"><stop offset="0.004" stop-color="#1c0aea"/><stop offset="0.013" stop-color="#0985f8"/><stop offset="0.076" stop-color="#0b8ef8"/><stop offset="0.192" stop-color="#087cf8"/><stop offset="0.272" stop-color="#0844f8"/><stop offset="0.308" stop-color="#086cf8"/><stop offset="0.362" stop-color="#10a9f8"/><stop offset="0.460" stop-color="#0fa4f8"/><stop offset="0.549" stop-color="#0851f8"/><stop offset="0.647" stop-color="#0869f8"/><stop offset="0.728" stop-color="#0844f8"/><stop offset="0.763" stop-color="#086cf8"/><stop offset="0.817" stop-color="#10a9f8"/><stop offset="0.996" stop-color="#086ff8"/></linearGradient><linearGradient id="gc58"><stop offset="0.004" stop-color="#0d1bf3"/><stop offset="0.013" stop-color="#083df8"/><stop offset="0.049" stop-color="#0871f8"/><stop offset="0.076" stop-color="#0b91f8"/><stop offset="0.121" stop-color="#0d99f8"/><stop offset="0.183" stop-color="#0c93f8"/><stop offset="0.254" stop-color="#10c1f4"/><stop offset="0.281" stop-color="#10c5f1"/><stop offset="0.335" stop-color="#0e9ff8"/><stop offset="0.362" stop-color="#087bf8"/><stop offset="0.460" stop-color="#10aef8"/><stop offset="0.567" stop-color="#0b90f8"/><stop offset="0.647" stop-color="#0c92f8"/><stop offset="0.746" stop-color="#084ef8"/><stop offset="0.826" stop-color="#083cf8"/><stop offset="0.915" stop-color="#086bf8"/><stop offset="0.996" stop-color="#10a7f8"/></linearGradient><linearGradient id="gc59"><stop offset="0.004" stop-color="#086ff8"/><stop offset="0.013" stop-color="#0b8ff8"/><stop offset="0.076" stop-color="#0b90f8"/><stop offset="0.094" stop-color="#0a89f8"/><stop offset="0.147" stop-color="#10b1f8"/><stop offset="0.192" stop-color="#10bef5"/><stop offset="0.299" stop-color="#0fa3f8"/><stop offset="0.362" stop-color="#086af8"/><stop offset="0.442" stop-color="#10aff8"/><stop offset="0.549" stop-color="#10b7f8"/><stop offset="0.585" stop-color="#0c93f8"/><stop offset="0.629" stop-color="#0846f8"/><stop offset="0.638" stop-color="#083bf8"/><stop offset="0.692" stop-color="#086cf8"/><stop offset="0.737" stop-color="#0c93f8"/><stop offset="0.826" stop-color="#0d9bf8"/><stop offset="0.915" stop-color="#085af8"/><stop offset="0.996" stop-color="#0983f8"/></linearGradient><linearGradient id="gc60"><stop offset="0.004" stop-color="#2d04e4"/><stop offset="0.013" stop-color="#0881f8"/><stop offset="0.076" stop-color="#0d98f8"/><stop offset="0.192" stop-color="#10a6f8"/><stop offset="0.308" stop-color="#0984f8"/><stop offset="0.388" stop-color="#0987f8"/><stop offset="0.549" stop-color="#10abf8"/><stop offset="0.763" stop-color="#10c8f0"/><stop offset="0.844" stop-color="#10d6e9"/><stop offset="0.996" stop-color="#10b9f8"/></linearGradient><linearGradient id="gc61"><stop offset="0.004" stop-color="#4b00db"/><stop offset="0.013" stop-color="#0984f8"/><stop offset="0.058" stop-color="#10b1f8"/><stop offset="0.174" stop-color="#10b4f8"/><stop offset="0.281" stop-color="#10b0f8"/><stop offset="0.353" stop-color="#14dfdd"/><stop offset="0.379" stop-color="#18e4d5"/><stop offset="0.576" stop-color="#10bef5"/><stop offset="0.746" stop-color="#10cdee"/><stop offset="0.826" stop-color="#10b8f8"/><stop offset="0.915" stop-color="#11dae5"/><stop offset="0.996" stop-color="#10bcf6"/></linearGradient><linearGradient id="gc62"><stop offset="0.004" stop-color="#082ff8"/><stop offset="0.013" stop-color="#0d98f8"/><stop offset="0.058" stop-color="#10ceed"/><stop offset="0.103" stop-color="#14dfdd"/><stop offset="0.272" stop-color="#11dae5"/><stop offset="0.371" stop-color="#19e5d3"/><stop offset="0.460" stop-color="#10cded"/><stop offset="0.656" stop-color="#10cbee"/><stop offset="0.826" stop-color="#22f1b9"/><stop offset="0.924" stop-color="#1ae7cf"/><stop offset="0.996" stop-color="#21f0be"/></linearGradient><linearGradient id="gc63"><stop offset="0.004" stop-color="#12dce2"/><stop offset="0.076" stop-color="#1ae7cf"/><stop offset="0.183" stop-color="#18e5d3"/><stop offset="0.272" stop-color="#44f867"/><stop offset="0.496" stop-color="#26f3ad"/><stop offset="0.558" stop-color="#21f1bc"/><stop offset="0.638" stop-color="#2ef795"/><stop offset="0.719" stop-color="#15e0db"/><stop offset="0.737" stop-color="#13dde0"/><stop offset="0.826" stop-color="#2bf5a0"/><stop offset="0.996" stop-color="#1debc8"/></linearGradient><linearGradient id="gc64"><stop offset="0.004" stop-color="#0868f8"/><stop offset="0.013" stop-color="#10d5e9"/><stop offset="0.049" stop-color="#2df798"/><stop offset="0.067" stop-color="#45f865"/><stop offset="0.103" stop-color="#52f84e"/><stop offset="0.183" stop-color="#56f94a"/><stop offset="0.272" stop-color="#28f4a9"/><stop offset="0.335" stop-color="#4ff851"/><stop offset="0.362" stop-color="#73fd2d"/><stop offset="0.513" stop-color="#41f86e"/><stop offset="0.638" stop-color="#28f4a7"/><stop offset="0.728" stop-color="#5af946"/><stop offset="0.844" stop-color="#50f851"/><stop offset="0.996" stop-color="#2cf69b"/></linearGradient><linearGradient id="gc65"><stop offset="0.004" stop-color="#0837f8"/><stop offset="0.013" stop-color="#20f0bf"/><stop offset="0.049" stop-color="#4bf85a"/><stop offset="0.067" stop-color="#72fd2e"/><stop offset="0.112" stop-color="#86ff1c"/><stop offset="0.183" stop-color="#8aff1a"/><stop offset="0.272" stop-color="#40f870"/><stop offset="0.326" stop-color="#77fe29"/><stop offset="0.362" stop-color="#a6ff07"/><stop offset="0.594" stop-color="#4bf859"/><stop offset="0.638" stop-color="#3ff871"/><stop offset="0.728" stop-color="#89ff1a"/><stop offset="0.844" stop-color="#7fff21"/><stop offset="0.996" stop-color="#46f863"/></linearGradient><linearGradient id="gc66"><stop offset="0.004" stop-color="#23f1b7"/><stop offset="0.013" stop-color="#6dfc33"/><stop offset="0.067" stop-color="#93ff13"/><stop offset="0.138" stop-color="#69fc37"/><stop offset="0.192" stop-color="#4cf859"/><stop offset="0.281" stop-color="#4af85c"/><stop offset="0.424" stop-color="#a1ff0a"/><stop offset="0.469" stop-color="#b1ff00"/><stop offset="0.567" stop-color="#9aff0e"/><stop offset="0.754" stop-color="#a5ff08"/><stop offset="0.844" stop-color="#b6ff00"/><stop offset="0.996" stop-color="#adff02"/></linearGradient><linearGradient id="gc67"><stop offset="0.004" stop-color="#5efa42"/><stop offset="0.067" stop-color="#98ff10"/><stop offset="0.112" stop-color="#9cff0d"/><stop offset="0.201" stop-color="#bdff00"/><stop offset="0.281" stop-color="#d0fe00"/><stop offset="0.424" stop-color="#a1ff0a"/><stop offset="0.460" stop-color="#9aff0f"/><stop offset="0.504" stop-color="#bfff00"/><stop offset="0.549" stop-color="#d8fc00"/><stop offset="0.621" stop-color="#a8ff06"/><stop offset="0.638" stop-color="#95ff12"/><stop offset="0.683" stop-color="#baff00"/><stop offset="0.737" stop-color="#d2fe00"/><stop offset="0.835" stop-color="#c3ff00"/><stop offset="0.924" stop-color="#d7fc00"/><stop offset="0.996" stop-color="#bcff00"/></linearGradient><linearGradient id="gc68"><stop offset="0.004" stop-color="#68fc38"/><stop offset="0.013" stop-color="#a3ff09"/><stop offset="0.067" stop-color="#bcff00"/><stop offset="0.129" stop-color="#b4ff00"/><stop offset="0.308" stop-color="#c8ff00"/><stop offset="0.379" stop-color="#cffe00"/><stop offset="0.469" stop-color="#ecf600"/><stop offset="0.665" stop-color="#e9f800"/><stop offset="0.754" stop-color="#eaf700"/><stop offset="0.826" stop-color="#cdff00"/><stop offset="0.924" stop-color="#eef500"/><stop offset="0.996" stop-color="#f2f300"/></linearGradient><linearGradient id="gc69"><stop offset="0.004" stop-color="#2df798"/><stop offset="0.013" stop-color="#c5ff00"/><stop offset="0.076" stop-color="#e7f800"/><stop offset="0.201" stop-color="#d5fd00"/><stop offset="0.317" stop-color="#e8f800"/><stop offset="0.469" stop-color="#e4f900"/><stop offset="0.585" stop-color="#f8f000"/><stop offset="0.719" stop-color="#e8f800"/><stop offset="0.853" stop-color="#f4f200"/><stop offset="0.942" stop-color="#f2f300"/><stop offset="0.996" stop-color="#fbe900"/></linearGradient><linearGradient id="gc70"><stop offset="0.004" stop-color="#4df856"/><stop offset="0.013" stop-color="#dbfb00"/><stop offset="0.067" stop-color="#fce600"/><stop offset="0.442" stop-color="#f6f100"/><stop offset="0.585" stop-color="#f7f000"/><stop offset="0.656" stop-color="#f4f200"/><stop offset="0.746" stop-color="#ffde00"/><stop offset="0.942" stop-color="#fee300"/><stop offset="0.996" stop-color="#ffda00"/></linearGradient><linearGradient id="gc71"><stop offset="0.004" stop-color="#c6ff00"/><stop offset="0.013" stop-color="#e1fa00"/><stop offset="0.058" stop-color="#ffd900"/><stop offset="0.094" stop-color="#ffc400"/><stop offset="0.192" stop-color="#ffd800"/><stop offset="0.281" stop-color="#ffb500"/><stop offset="0.379" stop-color="#ffcf00"/><stop offset="0.469" stop-color="#ffc300"/><stop offset="0.558" stop-color="#fee200"/><stop offset="0.647" stop-color="#ffcc00"/><stop offset="0.754" stop-color="#ffde00"/><stop offset="0.987" stop-color="#ffd600"/><stop offset="0.996" stop-color="#ffd600"/></linearGradient><linearGradient id="gc72"><stop offset="0.004" stop-color="#ffdd00"/><stop offset="0.067" stop-color="#ffb200"/><stop offset="0.112" stop-color="#ffb600"/><stop offset="0.201" stop-color="#ffa600"/><stop offset="0.281" stop-color="#ffb100"/><stop offset="0.371" stop-color="#ff8600"/><stop offset="0.469" stop-color="#ffad00"/><stop offset="0.567" stop-color="#ffaa00"/><stop offset="0.674" stop-color="#ffbc00"/><stop offset="0.853" stop-color="#ffae00"/><stop offset="0.960" stop-color="#ffae00"/><stop offset="0.996" stop-color="#ffa800"/></linearGradient><linearGradient id="gc73"><stop offset="0.004" stop-color="#e6f800"/><stop offset="0.013" stop-color="#ffc900"/><stop offset="0.067" stop-color="#ff7f00"/><stop offset="0.228" stop-color="#ff7400"/><stop offset="0.371" stop-color="#ff6900"/><stop offset="0.478" stop-color="#ff8400"/><stop offset="0.674" stop-color="#ff8400"/><stop offset="0.754" stop-color="#ff8900"/><stop offset="0.996" stop-color="#ff6300"/></linearGradient><linearGradient id="gc74"><stop offset="0.004" stop-color="#fde500"/><stop offset="0.013" stop-color="#ff7b00"/><stop offset="0.067" stop-color="#ff3e00"/><stop offset="0.094" stop-color="#ff4d00"/><stop offset="0.183" stop-color="#ff2207"/><stop offset="0.281" stop-color="#ff4a00"/><stop offset="0.371" stop-color="#ff3500"/><stop offset="0.460" stop-color="#ff6600"/><stop offset="0.549" stop-color="#ff2d02"/><stop offset="0.737" stop-color="#ff5700"/><stop offset="0.826" stop-color="#ff2207"/><stop offset="0.996" stop-color="#ff4300"/></linearGradient><linearGradient id="gc75"><stop offset="0.004" stop-color="#ff9f00"/><stop offset="0.013" stop-color="#ff6a00"/><stop offset="0.067" stop-color="#ff3000"/><stop offset="0.326" stop-color="#ff3d00"/><stop offset="0.388" stop-color="#ff3e00"/><stop offset="0.585" stop-color="#ff190b"/><stop offset="0.746" stop-color="#ff140e"/><stop offset="0.826" stop-color="#ff173b"/><stop offset="0.888" stop-color="#ff160d"/><stop offset="0.996" stop-color="#ff3300"/></linearGradient><linearGradient id="gc76"><stop offset="0.004" stop-color="#ff3b00"/><stop offset="0.085" stop-color="#ff1110"/><stop offset="0.201" stop-color="#ff1c0a"/><stop offset="0.281" stop-color="#ff121f"/><stop offset="0.371" stop-color="#ff1739"/><stop offset="0.433" stop-color="#ff140e"/><stop offset="0.469" stop-color="#ff180c"/><stop offset="0.522" stop-color="#ff1633"/><stop offset="0.549" stop-color="#ff1c48"/><stop offset="0.629" stop-color="#ff150d"/><stop offset="0.746" stop-color="#ff1118"/><stop offset="0.853" stop-color="#ff190b"/><stop offset="0.996" stop-color="#ff1119"/></linearGradient><linearGradient id="gc77"><stop offset="0.004" stop-color="#ff7000"/><stop offset="0.013" stop-color="#ff1d0a"/><stop offset="0.022" stop-color="#ff1012"/><stop offset="0.058" stop-color="#ff2b67"/><stop offset="0.067" stop-color="#ff377a"/><stop offset="0.103" stop-color="#ff3d84"/><stop offset="0.237" stop-color="#ff2559"/><stop offset="0.290" stop-color="#ff1d4b"/><stop offset="0.371" stop-color="#ff2962"/><stop offset="0.451" stop-color="#ff6ebe"/><stop offset="0.567" stop-color="#ff5bab"/><stop offset="0.683" stop-color="#ff63b3"/><stop offset="0.826" stop-color="#ff53a3"/><stop offset="0.915" stop-color="#ff7bc8"/><stop offset="0.996" stop-color="#ff64b4"/></linearGradient><linearGradient id="gc78"><stop offset="0.004" stop-color="#ff8300"/><stop offset="0.013" stop-color="#ff1531"/><stop offset="0.067" stop-color="#ff3071"/><stop offset="0.237" stop-color="#ff2d6b"/><stop offset="0.335" stop-color="#ff3b81"/><stop offset="0.371" stop-color="#ff448d"/><stop offset="0.469" stop-color="#ff2963"/><stop offset="0.638" stop-color="#ff2255"/><stop offset="0.710" stop-color="#ff71c1"/><stop offset="0.737" stop-color="#ff82ce"/><stop offset="0.826" stop-color="#ff6aba"/><stop offset="0.915" stop-color="#ff8ad4"/><stop offset="0.996" stop-color="#ff6aba"/></linearGradient><linearGradient id="gc79"><stop offset="0.004" stop-color="#ff4000"/><stop offset="0.013" stop-color="#ff1116"/><stop offset="0.040" stop-color="#ff3171"/><stop offset="0.058" stop-color="#ff5eae"/><stop offset="0.067" stop-color="#ff74c3"/><stop offset="0.103" stop-color="#ff86d0"/><stop offset="0.192" stop-color="#ff7ecb"/><stop offset="0.272" stop-color="#ff4590"/><stop offset="0.397" stop-color="#ff81cd"/><stop offset="0.469" stop-color="#ff96db"/><stop offset="0.558" stop-color="#ff8dd6"/><stop offset="0.737" stop-color="#ffcbef"/><stop offset="0.844" stop-color="#ff9fdf"/><stop offset="0.996" stop-color="#ff8bd4"/></linearGradient><linearGradient id="gc80"><stop offset="0.004" stop-color="#ff255a"/><stop offset="0.031" stop-color="#ff51a1"/><stop offset="0.058" stop-color="#ff87d1"/><stop offset="0.076" stop-color="#ff97dc"/><stop offset="0.112" stop-color="#ff91d8"/><stop offset="0.192" stop-color="#ff6ebe"/><stop offset="0.388" stop-color="#ff9cde"/><stop offset="0.460" stop-color="#ffb9ea"/><stop offset="0.558" stop-color="#ff89d3"/><stop offset="0.692" stop-color="#ff96db"/><stop offset="0.835" stop-color="#ffbaeb"/><stop offset="0.924" stop-color="#ffa9e4"/><stop offset="0.996" stop-color="#ffc2ec"/></linearGradient><linearGradient id="gc81"><stop offset="0.004" stop-color="#ff72c1"/><stop offset="0.147" stop-color="#ffaee7"/><stop offset="0.183" stop-color="#ffb8ea"/><stop offset="0.263" stop-color="#ff6dbd"/><stop offset="0.290" stop-color="#ff60b0"/><stop offset="0.460" stop-color="#ff6fbf"/><stop offset="0.558" stop-color="#ffa7e4"/><stop offset="0.656" stop-color="#ffa2e1"/><stop offset="0.754" stop-color="#ffb4e9"/><stop offset="0.996" stop-color="#ffa4e2"/></linearGradient><linearGradient id="gc82"><stop offset="0.004" stop-color="#ff9cde"/><stop offset="0.112" stop-color="#ff98dc"/><stop offset="0.201" stop-color="#fface6"/><stop offset="0.308" stop-color="#ffa7e4"/><stop offset="0.388" stop-color="#ffabe5"/><stop offset="0.469" stop-color="#ff9add"/><stop offset="0.567" stop-color="#ffa6e3"/><stop offset="0.647" stop-color="#ff98dc"/><stop offset="0.737" stop-color="#ffbbeb"/><stop offset="0.897" stop-color="#ffb1e8"/><stop offset="0.996" stop-color="#ffb3e9"/></linearGradient><linearGradient id="gc83"><stop offset="0.004" stop-color="#ffc1ec"/><stop offset="0.165" stop-color="#ffb6e9"/><stop offset="0.237" stop-color="#ff9bde"/><stop offset="0.272" stop-color="#ff89d2"/><stop offset="0.362" stop-color="#ffdbf4"/><stop offset="0.496" stop-color="#ffc3ed"/><stop offset="0.558" stop-color="#ffb3e9"/><stop offset="0.665" stop-color="#ffc0ec"/><stop offset="0.835" stop-color="#ffaae5"/><stop offset="0.924" stop-color="#ffc2ec"/><stop offset="0.996" stop-color="#ffade7"/></linearGradient><clipPath id="clc"><rect x="55.0" y="279.0" width="223.6" height="168.0"/></clipPath></defs><g shape-rendering="crispEdges"><rect x="55.0" y="279.00" width="223.6" height="2.60" fill="url(#gc0)"/><rect x="55.0" y="281.00" width="223.6" height="2.60" fill="#68008e"/><rect x="55.0" y="283.00" width="223.6" height="2.60" fill="url(#gc2)"/><rect x="55.0" y="285.00" width="223.6" height="2.60" fill="url(#gc3)"/><rect x="55.0" y="287.00" width="223.6" height="2.60" fill="url(#gc4)"/><rect x="55.0" y="289.00" width="223.6" height="2.60" fill="url(#gc5)"/><rect x="55.0" y="291.00" width="223.6" height="2.60" fill="#690090"/><rect x="55.0" y="293.00" width="223.6" height="2.60" fill="url(#gc7)"/><rect x="55.0" y="295.00" width="223.6" height="2.60" fill="url(#gc8)"/><rect x="55.0" y="297.00" width="223.6" height="2.60" fill="#69008f"/><rect x="55.0" y="299.00" width="223.6" height="2.60" fill="url(#gc10)"/><rect x="55.0" y="301.00" width="223.6" height="2.60" fill="#690090"/><rect x="55.0" y="303.00" width="223.6" height="2.60" fill="url(#gc12)"/><rect x="55.0" y="305.00" width="223.6" height="2.60" fill="#690090"/><rect x="55.0" y="307.00" width="223.6" height="2.60" fill="#690091"/><rect x="55.0" y="309.00" width="223.6" height="2.60" fill="url(#gc15)"/><rect x="55.0" y="311.00" width="223.6" height="2.60" fill="url(#gc16)"/><rect x="55.0" y="313.00" width="223.6" height="2.60" fill="url(#gc17)"/><rect x="55.0" y="315.00" width="223.6" height="2.60" fill="url(#gc18)"/><rect x="55.0" y="317.00" width="223.6" height="2.60" fill="url(#gc19)"/><rect x="55.0" y="319.00" width="223.6" height="2.60" fill="url(#gc20)"/><rect x="55.0" y="321.00" width="223.6" height="2.60" fill="url(#gc21)"/><rect x="55.0" y="323.00" width="223.6" height="2.60" fill="url(#gc22)"/><rect x="55.0" y="325.00" width="223.6" height="2.60" fill="url(#gc23)"/><rect x="55.0" y="327.00" width="223.6" height="2.60" fill="url(#gc24)"/><rect x="55.0" y="329.00" width="223.6" height="2.60" fill="url(#gc25)"/><rect x="55.0" y="331.00" width="223.6" height="2.60" fill="url(#gc26)"/><rect x="55.0" y="333.00" width="223.6" height="2.60" fill="url(#gc27)"/><rect x="55.0" y="335.00" width="223.6" height="2.60" fill="url(#gc28)"/><rect x="55.0" y="337.00" width="223.6" height="2.60" fill="url(#gc29)"/><rect x="55.0" y="339.00" width="223.6" height="2.60" fill="url(#gc30)"/><rect x="55.0" y="341.00" width="223.6" height="2.60" fill="url(#gc31)"/><rect x="55.0" y="343.00" width="223.6" height="2.60" fill="url(#gc32)"/><rect x="55.0" y="345.00" width="223.6" height="2.60" fill="url(#gc33)"/><rect x="55.0" y="347.00" width="223.6" height="2.60" fill="url(#gc34)"/><rect x="55.0" y="349.00" width="223.6" height="2.60" fill="url(#gc35)"/><rect x="55.0" y="351.00" width="223.6" height="2.60" fill="url(#gc36)"/><rect x="55.0" y="353.00" width="223.6" height="2.60" fill="url(#gc37)"/><rect x="55.0" y="355.00" width="223.6" height="2.60" fill="url(#gc38)"/><rect x="55.0" y="357.00" width="223.6" height="2.60" fill="url(#gc39)"/><rect x="55.0" y="359.00" width="223.6" height="2.60" fill="url(#gc40)"/><rect x="55.0" y="361.00" width="223.6" height="2.60" fill="url(#gc41)"/><rect x="55.0" y="363.00" width="223.6" height="2.60" fill="url(#gc42)"/><rect x="55.0" y="365.00" width="223.6" height="2.60" fill="url(#gc43)"/><rect x="55.0" y="367.00" width="223.6" height="2.60" fill="url(#gc44)"/><rect x="55.0" y="369.00" width="223.6" height="2.60" fill="url(#gc45)"/><rect x="55.0" y="371.00" width="223.6" height="2.60" fill="url(#gc46)"/><rect x="55.0" y="373.00" width="223.6" height="2.60" fill="url(#gc47)"/><rect x="55.0" y="375.00" width="223.6" height="2.60" fill="url(#gc48)"/><rect x="55.0" y="377.00" width="223.6" height="2.60" fill="url(#gc49)"/><rect x="55.0" y="379.00" width="223.6" height="2.60" fill="url(#gc50)"/><rect x="55.0" y="381.00" width="223.6" height="2.60" fill="url(#gc51)"/><rect x="55.0" y="383.00" width="223.6" height="2.60" fill="url(#gc52)"/><rect x="55.0" y="385.00" width="223.6" height="2.60" fill="url(#gc53)"/><rect x="55.0" y="387.00" width="223.6" height="2.60" fill="url(#gc54)"/><rect x="55.0" y="389.00" width="223.6" height="2.60" fill="url(#gc55)"/><rect x="55.0" y="391.00" width="223.6" height="2.60" fill="url(#gc56)"/><rect x="55.0" y="393.00" width="223.6" height="2.60" fill="url(#gc57)"/><rect x="55.0" y="395.00" width="223.6" height="2.60" fill="url(#gc58)"/><rect x="55.0" y="397.00" width="223.6" height="2.60" fill="url(#gc59)"/><rect x="55.0" y="399.00" width="223.6" height="2.60" fill="url(#gc60)"/><rect x="55.0" y="401.00" width="223.6" height="2.60" fill="url(#gc61)"/><rect x="55.0" y="403.00" width="223.6" height="2.60" fill="url(#gc62)"/><rect x="55.0" y="405.00" width="223.6" height="2.60" fill="url(#gc63)"/><rect x="55.0" y="407.00" width="223.6" height="2.60" fill="url(#gc64)"/><rect x="55.0" y="409.00" width="223.6" height="2.60" fill="url(#gc65)"/><rect x="55.0" y="411.00" width="223.6" height="2.60" fill="url(#gc66)"/><rect x="55.0" y="413.00" width="223.6" height="2.60" fill="url(#gc67)"/><rect x="55.0" y="415.00" width="223.6" height="2.60" fill="url(#gc68)"/><rect x="55.0" y="417.00" width="223.6" height="2.60" fill="url(#gc69)"/><rect x="55.0" y="419.00" width="223.6" height="2.60" fill="url(#gc70)"/><rect x="55.0" y="421.00" width="223.6" height="2.60" fill="url(#gc71)"/><rect x="55.0" y="423.00" width="223.6" height="2.60" fill="url(#gc72)"/><rect x="55.0" y="425.00" width="223.6" height="2.60" fill="url(#gc73)"/><rect x="55.0" y="427.00" width="223.6" height="2.60" fill="url(#gc74)"/><rect x="55.0" y="429.00" width="223.6" height="2.60" fill="url(#gc75)"/><rect x="55.0" y="431.00" width="223.6" height="2.60" fill="url(#gc76)"/><rect x="55.0" y="433.00" width="223.6" height="2.60" fill="url(#gc77)"/><rect x="55.0" y="435.00" width="223.6" height="2.60" fill="url(#gc78)"/><rect x="55.0" y="437.00" width="223.6" height="2.60" fill="url(#gc79)"/><rect x="55.0" y="439.00" width="223.6" height="2.60" fill="url(#gc80)"/><rect x="55.0" y="441.00" width="223.6" height="2.60" fill="url(#gc81)"/><rect x="55.0" y="443.00" width="223.6" height="2.60" fill="url(#gc82)"/><rect x="55.0" y="445.00" width="223.6" height="2.60" fill="url(#gc83)"/></g><g clip-path="url(#clc)" fill="none"><path d="M80.13,445.99C82.45,445.99 89.89,446.01 94.04,445.99C98.19,445.97 102.58,445.96 105.02,445.88C107.46,445.80 107.58,445.82 108.68,445.51C109.78,445.20 110.75,444.68 111.61,444.01C112.46,443.35 113.07,442.69 113.80,441.51C114.54,440.33 115.31,438.74 116.00,436.92C116.69,435.10 117.34,433.04 117.95,430.61C118.56,428.18 119.09,425.15 119.66,422.36C120.23,419.57 120.88,416.59 121.37,413.85C121.86,411.11 122.18,408.43 122.59,405.93C122.99,403.43 123.40,400.71 123.81,398.84C124.21,396.97 124.66,395.57 125.03,394.73C125.39,393.89 125.68,393.80 126.00,393.80C126.33,393.80 126.61,393.89 126.98,394.73C127.35,395.57 127.71,396.91 128.20,398.84C128.69,400.77 129.34,403.81 129.91,406.31C130.48,408.81 131.01,411.17 131.62,413.85C132.23,416.52 132.88,419.85 133.57,422.36C134.26,424.87 135.03,427.00 135.76,428.93C136.50,430.86 137.15,432.54 137.96,433.93C138.77,435.33 139.63,436.30 140.64,437.29C141.66,438.29 142.92,439.25 144.06,439.91C145.20,440.56 146.34,440.93 147.48,441.21C148.61,441.49 149.79,441.59 150.89,441.59C151.99,441.59 152.97,441.52 154.06,441.21C155.16,440.90 156.34,440.37 157.48,439.72C158.62,439.07 159.68,438.26 160.90,437.29C162.12,436.33 163.54,435.12 164.80,433.93C166.06,432.75 167.24,431.51 168.46,430.20C169.68,428.89 170.98,427.09 172.12,426.09C173.26,425.10 174.07,424.35 175.29,424.23C176.51,424.10 177.77,424.60 179.44,425.35C181.11,426.09 183.26,427.84 185.30,428.71C187.33,429.58 188.96,430.01 191.64,430.57C194.32,431.13 197.98,431.51 201.40,432.07C204.82,432.63 208.48,433.87 212.14,433.93C215.80,434.00 219.74,433.06 223.36,432.44C226.98,431.82 230.19,430.57 233.85,430.20C237.51,429.83 241.38,430.01 245.32,430.20C249.26,430.39 253.45,431.07 257.52,431.32C261.59,431.57 266.22,431.57 269.72,431.69C273.22,431.82 277.04,432.00 278.50,432.07" stroke="#000" stroke-width="3" stroke-dasharray="8.5 3 2.6 3"/></g><rect x="55.0" y="279.0" width="223.6" height="168.0" fill="none" stroke="#262626" stroke-width="0.9"/><path d="M55.0,447.0v2.6M55.0,279.0v-2.6M103.8,447.0v2.6M103.8,279.0v-2.6M152.6,447.0v2.6M152.6,279.0v-2.6M201.4,447.0v2.6M201.4,279.0v-2.6M250.2,447.0v2.6M250.2,279.0v-2.6M55.0,447.0h-3.4M278.6,447.0h2.6M55.0,409.7h-3.4M278.6,409.7h2.6M55.0,372.3h-3.4M278.6,372.3h2.6M55.0,335.0h-3.4M278.6,335.0h2.6M55.0,297.7h-3.4M278.6,297.7h2.6" stroke="#262626" stroke-width="1" fill="none"/><text x="46.1" y="455.0" text-anchor="end" font-size="17.8" fill="#262626">0</text><text x="46.1" y="417.7" text-anchor="end" font-size="17.8" fill="#262626">10</text><text x="46.1" y="380.3" text-anchor="end" font-size="17.8" fill="#262626">20</text><text x="46.1" y="343.0" text-anchor="end" font-size="17.8" fill="#262626">30</text><text x="46.1" y="305.7" text-anchor="end" font-size="17.8" fill="#262626">40</text><text x="55.0" y="472.7" text-anchor="middle" font-size="17.8" fill="#262626">0</text><text x="103.8" y="472.7" text-anchor="middle" font-size="17.8" fill="#262626">2</text><text x="152.6" y="472.7" text-anchor="middle" font-size="17.8" fill="#262626">4</text><text x="201.4" y="472.7" text-anchor="middle" font-size="17.8" fill="#262626">6</text><text x="250.2" y="472.7" text-anchor="middle" font-size="17.8" fill="#262626">8</text><text x="166.3" y="502.2" text-anchor="middle" font-size="19.6" fill="#262626" textLength="63" lengthAdjust="spacing">Q (&#197;<tspan font-size="14" dy="-9.5">-1</tspan><tspan dy="9.5">)</tspan></text><text transform="translate(18.8,363.8) rotate(-90)" text-anchor="middle" font-size="18.8" fill="#262626" textLength="72.5" lengthAdjust="spacing">E (meV)</text><rect x="284.7" y="279.5" width="13.2" height="167.5" fill="url(#cbar)" stroke="#8a8a8a" stroke-width="0.8"/><path d="M297.9,405.1h-1.6M297.9,363.2h-1.6M297.9,321.4h-1.6" stroke="#262626" stroke-width="0.9"/><text x="302.1" y="452.6" font-size="15.5" fill="#262626">0</text><text x="302.1" y="410.7" font-size="15.5" fill="#262626">1</text><text x="302.1" y="368.9" font-size="15.5" fill="#262626">2</text><text x="302.1" y="327.0" font-size="15.5" fill="#262626">3</text><text x="302.1" y="285.1" font-size="15.5" fill="#262626">4</text><text transform="translate(329.0,363.3) rotate(-90)" text-anchor="middle" font-size="16.4" fill="#262626">B(Q,E) (arb. u.)</text><text x="133.8" y="304.5" font-size="22" fill="#fff" textLength="114.1" lengthAdjust="spacingAndGlyphs">NN distance</text><defs><linearGradient id="gd0"><stop offset="0.004" stop-color="#690093"/><stop offset="0.094" stop-color="#6c00a2"/><stop offset="0.165" stop-color="#7000b9"/><stop offset="0.299" stop-color="#6b009c"/><stop offset="0.996" stop-color="#6b009b"/></linearGradient><linearGradient id="gd1"><stop offset="0.004" stop-color="#690093"/><stop offset="0.085" stop-color="#6b009d"/><stop offset="0.165" stop-color="#6f00ba"/><stop offset="0.299" stop-color="#6c009e"/><stop offset="0.996" stop-color="#6b009d"/></linearGradient><linearGradient id="gd2"><stop offset="0.004" stop-color="#690093"/><stop offset="0.085" stop-color="#6b009d"/><stop offset="0.165" stop-color="#6f00ba"/><stop offset="0.299" stop-color="#6c009f"/><stop offset="0.996" stop-color="#6c009e"/></linearGradient><linearGradient id="gd3"><stop offset="0.004" stop-color="#690093"/><stop offset="0.094" stop-color="#6d00a4"/><stop offset="0.165" stop-color="#6e00bc"/><stop offset="0.290" stop-color="#6c009e"/><stop offset="0.996" stop-color="#6c00a1"/></linearGradient><linearGradient id="gd4"><stop offset="0.004" stop-color="#690092"/><stop offset="0.085" stop-color="#6c009e"/><stop offset="0.165" stop-color="#6e00bd"/><stop offset="0.290" stop-color="#6c00a0"/><stop offset="0.996" stop-color="#6c00a2"/></linearGradient><linearGradient id="gd5"><stop offset="0.004" stop-color="#690092"/><stop offset="0.085" stop-color="#6c00a0"/><stop offset="0.165" stop-color="#6e00be"/><stop offset="0.290" stop-color="#6c00a1"/><stop offset="0.996" stop-color="#6c00a1"/></linearGradient><linearGradient id="gd6"><stop offset="0.004" stop-color="#690093"/><stop offset="0.085" stop-color="#6c00a2"/><stop offset="0.165" stop-color="#6e00bf"/><stop offset="0.290" stop-color="#6d00a3"/><stop offset="0.996" stop-color="#6d00a5"/></linearGradient><linearGradient id="gd7"><stop offset="0.004" stop-color="#690092"/><stop offset="0.085" stop-color="#6c00a2"/><stop offset="0.165" stop-color="#6d00c0"/><stop offset="0.281" stop-color="#6d00a4"/><stop offset="0.996" stop-color="#6d00a9"/></linearGradient><linearGradient id="gd8"><stop offset="0.004" stop-color="#690093"/><stop offset="0.085" stop-color="#6c00a1"/><stop offset="0.165" stop-color="#6c00c2"/><stop offset="0.281" stop-color="#6d00a6"/><stop offset="0.996" stop-color="#6e00aa"/></linearGradient><linearGradient id="gd9"><stop offset="0.004" stop-color="#6a0094"/><stop offset="0.085" stop-color="#6c00a3"/><stop offset="0.165" stop-color="#6c00c2"/><stop offset="0.281" stop-color="#6d00a7"/><stop offset="0.656" stop-color="#6e00ae"/><stop offset="0.996" stop-color="#6e00ae"/></linearGradient><linearGradient id="gd10"><stop offset="0.004" stop-color="#690093"/><stop offset="0.085" stop-color="#6c00a2"/><stop offset="0.165" stop-color="#6c00c4"/><stop offset="0.272" stop-color="#6d00a9"/><stop offset="0.629" stop-color="#6f00b1"/><stop offset="0.996" stop-color="#6f00b0"/></linearGradient><linearGradient id="gd11"><stop offset="0.004" stop-color="#690093"/><stop offset="0.085" stop-color="#6d00a4"/><stop offset="0.165" stop-color="#6b00c5"/><stop offset="0.272" stop-color="#6e00aa"/><stop offset="0.594" stop-color="#7000b7"/><stop offset="0.996" stop-color="#6f00b3"/></linearGradient><linearGradient id="gd12"><stop offset="0.004" stop-color="#690092"/><stop offset="0.085" stop-color="#6d00a3"/><stop offset="0.165" stop-color="#6a00c7"/><stop offset="0.272" stop-color="#6e00ab"/><stop offset="0.397" stop-color="#6f00b1"/><stop offset="0.603" stop-color="#7000b9"/><stop offset="0.996" stop-color="#6f00b5"/></linearGradient><linearGradient id="gd13"><stop offset="0.004" stop-color="#690092"/><stop offset="0.085" stop-color="#6d00a5"/><stop offset="0.165" stop-color="#6a00c8"/><stop offset="0.272" stop-color="#6f00b1"/><stop offset="0.397" stop-color="#6f00b4"/><stop offset="0.603" stop-color="#6f00bb"/><stop offset="0.996" stop-color="#7000b9"/></linearGradient><linearGradient id="gd14"><stop offset="0.004" stop-color="#6a0094"/><stop offset="0.085" stop-color="#6d00a5"/><stop offset="0.165" stop-color="#6800ca"/><stop offset="0.272" stop-color="#6f00b4"/><stop offset="0.603" stop-color="#6e00bd"/><stop offset="0.996" stop-color="#6f00bb"/></linearGradient><linearGradient id="gd15"><stop offset="0.004" stop-color="#690093"/><stop offset="0.085" stop-color="#6d00a6"/><stop offset="0.165" stop-color="#6600cb"/><stop offset="0.272" stop-color="#7000b5"/><stop offset="0.603" stop-color="#6e00be"/><stop offset="0.996" stop-color="#6e00bc"/></linearGradient><linearGradient id="gd16"><stop offset="0.004" stop-color="#690093"/><stop offset="0.085" stop-color="#6d00a7"/><stop offset="0.165" stop-color="#6500cc"/><stop offset="0.281" stop-color="#6f00ba"/><stop offset="0.612" stop-color="#6d00c0"/><stop offset="0.996" stop-color="#6e00be"/></linearGradient><linearGradient id="gd17"><stop offset="0.004" stop-color="#690092"/><stop offset="0.076" stop-color="#6c00a0"/><stop offset="0.147" stop-color="#6700cb"/><stop offset="0.281" stop-color="#6e00bc"/><stop offset="0.612" stop-color="#6d00c1"/><stop offset="0.996" stop-color="#6d00c0"/></linearGradient><linearGradient id="gd18"><stop offset="0.004" stop-color="#690093"/><stop offset="0.076" stop-color="#6c00a2"/><stop offset="0.147" stop-color="#6500cd"/><stop offset="0.290" stop-color="#6d00bf"/><stop offset="0.487" stop-color="#6b00c4"/><stop offset="0.996" stop-color="#6d00c1"/></linearGradient><linearGradient id="gd19"><stop offset="0.004" stop-color="#690092"/><stop offset="0.085" stop-color="#6e00aa"/><stop offset="0.165" stop-color="#5f00d2"/><stop offset="0.281" stop-color="#6d00c0"/><stop offset="0.496" stop-color="#6a00c7"/><stop offset="0.996" stop-color="#6c00c4"/></linearGradient><linearGradient id="gd20"><stop offset="0.004" stop-color="#690093"/><stop offset="0.085" stop-color="#6e00ad"/><stop offset="0.165" stop-color="#5d00d3"/><stop offset="0.290" stop-color="#6c00c4"/><stop offset="0.469" stop-color="#6b00c5"/><stop offset="0.996" stop-color="#6b00c5"/></linearGradient><linearGradient id="gd21"><stop offset="0.004" stop-color="#690093"/><stop offset="0.085" stop-color="#6e00ae"/><stop offset="0.147" stop-color="#5e00d2"/><stop offset="0.308" stop-color="#6a00c7"/><stop offset="0.469" stop-color="#6a00c7"/><stop offset="0.996" stop-color="#6b00c6"/></linearGradient><linearGradient id="gd22"><stop offset="0.004" stop-color="#690093"/><stop offset="0.085" stop-color="#6f00b1"/><stop offset="0.147" stop-color="#5d00d4"/><stop offset="0.415" stop-color="#6c00c2"/><stop offset="0.603" stop-color="#6700cb"/><stop offset="0.996" stop-color="#6a00c8"/></linearGradient><linearGradient id="gd23"><stop offset="0.004" stop-color="#6a0094"/><stop offset="0.085" stop-color="#6f00b4"/><stop offset="0.147" stop-color="#5900d7"/><stop offset="0.165" stop-color="#5100da"/><stop offset="0.281" stop-color="#6700ca"/><stop offset="0.460" stop-color="#6a00c8"/><stop offset="0.612" stop-color="#6600cc"/><stop offset="0.996" stop-color="#6800ca"/></linearGradient><linearGradient id="gd24"><stop offset="0.004" stop-color="#6a0094"/><stop offset="0.094" stop-color="#6e00bd"/><stop offset="0.147" stop-color="#5400d9"/><stop offset="0.165" stop-color="#4b00db"/><stop offset="0.272" stop-color="#6400cd"/><stop offset="0.460" stop-color="#6900c9"/><stop offset="0.603" stop-color="#6300ce"/><stop offset="0.996" stop-color="#6500cc"/></linearGradient><linearGradient id="gd25"><stop offset="0.004" stop-color="#6a0097"/><stop offset="0.103" stop-color="#6b00c5"/><stop offset="0.147" stop-color="#4d00db"/><stop offset="0.165" stop-color="#4400dd"/><stop offset="0.263" stop-color="#6200cf"/><stop offset="0.460" stop-color="#6500cc"/><stop offset="0.612" stop-color="#6300ce"/><stop offset="0.996" stop-color="#6500cd"/></linearGradient><linearGradient id="gd26"><stop offset="0.004" stop-color="#6a0098"/><stop offset="0.103" stop-color="#6900c9"/><stop offset="0.156" stop-color="#3c00df"/><stop offset="0.263" stop-color="#6100d0"/><stop offset="0.451" stop-color="#6500cd"/><stop offset="0.603" stop-color="#6100d0"/><stop offset="0.996" stop-color="#6300ce"/></linearGradient><linearGradient id="gd27"><stop offset="0.004" stop-color="#6b0099"/><stop offset="0.094" stop-color="#6b00c6"/><stop offset="0.147" stop-color="#4100de"/><stop offset="0.165" stop-color="#3800e0"/><stop offset="0.254" stop-color="#5f00d1"/><stop offset="0.451" stop-color="#6500cd"/><stop offset="0.594" stop-color="#5d00d3"/><stop offset="0.996" stop-color="#6200cf"/></linearGradient><linearGradient id="gd28"><stop offset="0.004" stop-color="#6b009b"/><stop offset="0.094" stop-color="#6900c9"/><stop offset="0.147" stop-color="#3c00df"/><stop offset="0.165" stop-color="#3501e1"/><stop offset="0.254" stop-color="#5e00d3"/><stop offset="0.451" stop-color="#6300ce"/><stop offset="0.594" stop-color="#5c00d4"/><stop offset="0.996" stop-color="#5f00d2"/></linearGradient><linearGradient id="gd29"><stop offset="0.004" stop-color="#6b009c"/><stop offset="0.085" stop-color="#6900c9"/><stop offset="0.156" stop-color="#3003e3"/><stop offset="0.263" stop-color="#5d00d4"/><stop offset="0.460" stop-color="#5e00d2"/><stop offset="0.594" stop-color="#5b00d5"/><stop offset="0.996" stop-color="#5e00d3"/></linearGradient><linearGradient id="gd30"><stop offset="0.004" stop-color="#6c00a0"/><stop offset="0.085" stop-color="#6700ca"/><stop offset="0.129" stop-color="#4500dd"/><stop offset="0.156" stop-color="#2d04e4"/><stop offset="0.263" stop-color="#5c00d4"/><stop offset="0.478" stop-color="#5900d7"/><stop offset="0.576" stop-color="#5400d9"/><stop offset="0.996" stop-color="#5a00d6"/></linearGradient><linearGradient id="gd31"><stop offset="0.004" stop-color="#6c009e"/><stop offset="0.076" stop-color="#6700cb"/><stop offset="0.156" stop-color="#2706e6"/><stop offset="0.272" stop-color="#5800d8"/><stop offset="0.451" stop-color="#5800d8"/><stop offset="0.549" stop-color="#4700dc"/><stop offset="0.692" stop-color="#5800d8"/><stop offset="0.996" stop-color="#5b00d6"/></linearGradient><linearGradient id="gd32"><stop offset="0.004" stop-color="#6c00a3"/><stop offset="0.076" stop-color="#6400cd"/><stop offset="0.156" stop-color="#2706e6"/><stop offset="0.272" stop-color="#5400d9"/><stop offset="0.344" stop-color="#5400d9"/><stop offset="0.460" stop-color="#5700d8"/><stop offset="0.558" stop-color="#4300dd"/><stop offset="0.754" stop-color="#5400d9"/><stop offset="0.996" stop-color="#5100da"/></linearGradient><linearGradient id="gd33"><stop offset="0.004" stop-color="#6c00a3"/><stop offset="0.058" stop-color="#6a00c8"/><stop offset="0.156" stop-color="#2207e7"/><stop offset="0.272" stop-color="#4a00db"/><stop offset="0.344" stop-color="#4d00db"/><stop offset="0.433" stop-color="#5300d9"/><stop offset="0.549" stop-color="#3d00df"/><stop offset="0.683" stop-color="#4f00da"/><stop offset="0.996" stop-color="#4a00db"/></linearGradient><linearGradient id="gd34"><stop offset="0.004" stop-color="#6d00a8"/><stop offset="0.058" stop-color="#6500cc"/><stop offset="0.156" stop-color="#1c0aea"/><stop offset="0.272" stop-color="#4800dc"/><stop offset="0.344" stop-color="#4f00da"/><stop offset="0.424" stop-color="#5500d9"/><stop offset="0.549" stop-color="#3a00df"/><stop offset="0.924" stop-color="#4b00db"/><stop offset="0.996" stop-color="#4600dc"/></linearGradient><linearGradient id="gd35"><stop offset="0.004" stop-color="#6e00aa"/><stop offset="0.058" stop-color="#6200cf"/><stop offset="0.147" stop-color="#2108e8"/><stop offset="0.219" stop-color="#3202e2"/><stop offset="0.281" stop-color="#3f00de"/><stop offset="0.353" stop-color="#4600dd"/><stop offset="0.451" stop-color="#4a00db"/><stop offset="0.558" stop-color="#3800e0"/><stop offset="0.924" stop-color="#4700dc"/><stop offset="0.996" stop-color="#4400dd"/></linearGradient><linearGradient id="gd36"><stop offset="0.004" stop-color="#6e00af"/><stop offset="0.058" stop-color="#6200cf"/><stop offset="0.156" stop-color="#1b0beb"/><stop offset="0.281" stop-color="#3700e0"/><stop offset="0.353" stop-color="#4300dd"/><stop offset="0.442" stop-color="#4200de"/><stop offset="0.558" stop-color="#3800e0"/><stop offset="0.710" stop-color="#3d00df"/><stop offset="0.996" stop-color="#4e00da"/></linearGradient><linearGradient id="gd37"><stop offset="0.004" stop-color="#7000b5"/><stop offset="0.058" stop-color="#5b00d5"/><stop offset="0.121" stop-color="#2b04e4"/><stop offset="0.165" stop-color="#1d0aea"/><stop offset="0.290" stop-color="#3003e3"/><stop offset="0.397" stop-color="#4600dc"/><stop offset="0.549" stop-color="#3202e2"/><stop offset="0.746" stop-color="#3e00df"/><stop offset="0.996" stop-color="#4000de"/></linearGradient><linearGradient id="gd38"><stop offset="0.004" stop-color="#7000b8"/><stop offset="0.058" stop-color="#5900d7"/><stop offset="0.112" stop-color="#2d04e4"/><stop offset="0.165" stop-color="#1a0beb"/><stop offset="0.299" stop-color="#3102e2"/><stop offset="0.406" stop-color="#4300dd"/><stop offset="0.558" stop-color="#3202e2"/><stop offset="0.674" stop-color="#3b00df"/><stop offset="0.996" stop-color="#3800e0"/></linearGradient><linearGradient id="gd39"><stop offset="0.004" stop-color="#6f00ba"/><stop offset="0.049" stop-color="#5c00d4"/><stop offset="0.094" stop-color="#3202e2"/><stop offset="0.165" stop-color="#190beb"/><stop offset="0.406" stop-color="#3d00df"/><stop offset="0.576" stop-color="#3102e2"/><stop offset="0.879" stop-color="#3202e2"/><stop offset="0.996" stop-color="#3401e1"/></linearGradient><linearGradient id="gd40"><stop offset="0.004" stop-color="#6d00bf"/><stop offset="0.049" stop-color="#5700d8"/><stop offset="0.085" stop-color="#3003e3"/><stop offset="0.165" stop-color="#150eee"/><stop offset="0.415" stop-color="#3900e0"/><stop offset="0.594" stop-color="#2e03e3"/><stop offset="0.996" stop-color="#3202e2"/></linearGradient><linearGradient id="gd41"><stop offset="0.004" stop-color="#6b00c6"/><stop offset="0.049" stop-color="#4d00db"/><stop offset="0.085" stop-color="#2c04e4"/><stop offset="0.165" stop-color="#120fef"/><stop offset="0.415" stop-color="#3202e2"/><stop offset="0.996" stop-color="#2c04e4"/></linearGradient><linearGradient id="gd42"><stop offset="0.004" stop-color="#6a00c7"/><stop offset="0.049" stop-color="#4a00dc"/><stop offset="0.085" stop-color="#2a05e5"/><stop offset="0.174" stop-color="#170ded"/><stop offset="0.424" stop-color="#3102e2"/><stop offset="0.996" stop-color="#2805e5"/></linearGradient><linearGradient id="gd43"><stop offset="0.004" stop-color="#6200cf"/><stop offset="0.040" stop-color="#4c00db"/><stop offset="0.085" stop-color="#2905e5"/><stop offset="0.174" stop-color="#120fef"/><stop offset="0.406" stop-color="#2e03e3"/><stop offset="0.692" stop-color="#2805e5"/><stop offset="0.996" stop-color="#2b04e4"/></linearGradient><linearGradient id="gd44"><stop offset="0.004" stop-color="#6300ce"/><stop offset="0.040" stop-color="#4700dc"/><stop offset="0.085" stop-color="#2008e8"/><stop offset="0.174" stop-color="#1010f0"/><stop offset="0.451" stop-color="#2805e5"/><stop offset="0.665" stop-color="#2008e8"/><stop offset="0.996" stop-color="#1d0aea"/></linearGradient><linearGradient id="gd45"><stop offset="0.004" stop-color="#6100d0"/><stop offset="0.040" stop-color="#4600dc"/><stop offset="0.085" stop-color="#2307e7"/><stop offset="0.183" stop-color="#110fef"/><stop offset="0.433" stop-color="#2307e7"/><stop offset="0.996" stop-color="#1b0aea"/></linearGradient><linearGradient id="gd46"><stop offset="0.004" stop-color="#6400cd"/><stop offset="0.040" stop-color="#4600dc"/><stop offset="0.085" stop-color="#1f09e9"/><stop offset="0.192" stop-color="#110fef"/><stop offset="0.424" stop-color="#1f08e8"/><stop offset="0.710" stop-color="#2108e8"/><stop offset="0.996" stop-color="#2207e7"/></linearGradient><linearGradient id="gd47"><stop offset="0.004" stop-color="#5b00d5"/><stop offset="0.031" stop-color="#4300dd"/><stop offset="0.076" stop-color="#1c0aea"/><stop offset="0.138" stop-color="#0e19f2"/><stop offset="0.174" stop-color="#0b22f5"/><stop offset="0.317" stop-color="#1a0beb"/><stop offset="0.996" stop-color="#1e09e9"/></linearGradient><linearGradient id="gd48"><stop offset="0.004" stop-color="#5500d9"/><stop offset="0.076" stop-color="#180cec"/><stop offset="0.138" stop-color="#0c20f4"/><stop offset="0.174" stop-color="#0a27f6"/><stop offset="0.379" stop-color="#1d09e9"/><stop offset="0.683" stop-color="#190beb"/><stop offset="0.817" stop-color="#180cec"/><stop offset="0.996" stop-color="#1a0beb"/></linearGradient><linearGradient id="gd49"><stop offset="0.004" stop-color="#5900d7"/><stop offset="0.076" stop-color="#160ded"/><stop offset="0.165" stop-color="#092cf7"/><stop offset="0.326" stop-color="#180cec"/><stop offset="0.996" stop-color="#130eee"/></linearGradient><linearGradient id="gd50"><stop offset="0.004" stop-color="#4700dc"/><stop offset="0.076" stop-color="#140eee"/><stop offset="0.147" stop-color="#0831f8"/><stop offset="0.210" stop-color="#082ff8"/><stop offset="0.362" stop-color="#160ded"/><stop offset="0.996" stop-color="#150eee"/></linearGradient><linearGradient id="gd51"><stop offset="0.004" stop-color="#5000da"/><stop offset="0.076" stop-color="#120fef"/><stop offset="0.165" stop-color="#0835f8"/><stop offset="0.317" stop-color="#0f14f1"/><stop offset="0.442" stop-color="#0f16f1"/><stop offset="0.996" stop-color="#110fef"/></linearGradient><linearGradient id="gd52"><stop offset="0.004" stop-color="#4000de"/><stop offset="0.076" stop-color="#0e18f2"/><stop offset="0.165" stop-color="#0834f8"/><stop offset="0.299" stop-color="#0e18f2"/><stop offset="0.415" stop-color="#140eee"/><stop offset="0.567" stop-color="#0c22f4"/><stop offset="0.710" stop-color="#0f14f1"/><stop offset="0.879" stop-color="#0e19f2"/><stop offset="0.996" stop-color="#0d1bf3"/></linearGradient><linearGradient id="gd53"><stop offset="0.004" stop-color="#3b00df"/><stop offset="0.076" stop-color="#0e19f2"/><stop offset="0.174" stop-color="#0842f8"/><stop offset="0.379" stop-color="#0d1df3"/><stop offset="0.567" stop-color="#0833f8"/><stop offset="0.719" stop-color="#0d1ef3"/><stop offset="0.871" stop-color="#0b26f5"/><stop offset="0.996" stop-color="#0a26f6"/></linearGradient><linearGradient id="gd54"><stop offset="0.004" stop-color="#3a00df"/><stop offset="0.085" stop-color="#1110f0"/><stop offset="0.183" stop-color="#0849f8"/><stop offset="0.469" stop-color="#0b22f5"/><stop offset="0.594" stop-color="#0832f8"/><stop offset="0.656" stop-color="#0838f8"/><stop offset="0.754" stop-color="#092af7"/><stop offset="0.951" stop-color="#0837f8"/><stop offset="0.996" stop-color="#0832f8"/></linearGradient><linearGradient id="gd55"><stop offset="0.004" stop-color="#3302e2"/><stop offset="0.058" stop-color="#110fef"/><stop offset="0.094" stop-color="#0a28f6"/><stop offset="0.201" stop-color="#0847f8"/><stop offset="0.272" stop-color="#0851f8"/><stop offset="0.371" stop-color="#092af7"/><stop offset="0.469" stop-color="#0847f8"/><stop offset="0.674" stop-color="#083af8"/><stop offset="0.871" stop-color="#0839f8"/><stop offset="0.996" stop-color="#0842f8"/></linearGradient><linearGradient id="gd56"><stop offset="0.004" stop-color="#3202e2"/><stop offset="0.058" stop-color="#0f12f1"/><stop offset="0.085" stop-color="#092bf7"/><stop offset="0.263" stop-color="#086ef8"/><stop offset="0.362" stop-color="#0834f8"/><stop offset="0.701" stop-color="#0844f8"/><stop offset="0.996" stop-color="#0839f8"/></linearGradient><linearGradient id="gd57"><stop offset="0.004" stop-color="#2805e5"/><stop offset="0.049" stop-color="#0f12f1"/><stop offset="0.076" stop-color="#0833f8"/><stop offset="0.219" stop-color="#0864f8"/><stop offset="0.263" stop-color="#087af8"/><stop offset="0.353" stop-color="#0838f8"/><stop offset="0.496" stop-color="#083ef8"/><stop offset="0.656" stop-color="#0858f8"/><stop offset="0.763" stop-color="#0851f8"/><stop offset="0.933" stop-color="#0860f8"/><stop offset="0.996" stop-color="#0852f8"/></linearGradient><linearGradient id="gd58"><stop offset="0.004" stop-color="#2706e6"/><stop offset="0.040" stop-color="#1110f0"/><stop offset="0.076" stop-color="#0844f8"/><stop offset="0.228" stop-color="#0874f8"/><stop offset="0.263" stop-color="#0882f8"/><stop offset="0.362" stop-color="#084df8"/><stop offset="0.469" stop-color="#0849f8"/><stop offset="0.558" stop-color="#0877f8"/><stop offset="0.656" stop-color="#0864f8"/><stop offset="0.763" stop-color="#086bf8"/><stop offset="0.933" stop-color="#084cf8"/><stop offset="0.996" stop-color="#0859f8"/></linearGradient><linearGradient id="gd59"><stop offset="0.004" stop-color="#1e09e9"/><stop offset="0.031" stop-color="#1012f0"/><stop offset="0.076" stop-color="#0860f8"/><stop offset="0.165" stop-color="#0881f8"/><stop offset="0.263" stop-color="#0d97f8"/><stop offset="0.362" stop-color="#0844f8"/><stop offset="0.469" stop-color="#0866f8"/><stop offset="0.558" stop-color="#085df8"/><stop offset="0.683" stop-color="#0880f8"/><stop offset="0.763" stop-color="#087cf8"/><stop offset="0.835" stop-color="#086ff8"/><stop offset="0.933" stop-color="#0985f8"/><stop offset="0.996" stop-color="#087ef8"/></linearGradient><linearGradient id="gd60"><stop offset="0.004" stop-color="#1b0beb"/><stop offset="0.031" stop-color="#0e17f2"/><stop offset="0.076" stop-color="#0862f8"/><stop offset="0.192" stop-color="#0e9ef8"/><stop offset="0.272" stop-color="#10a6f8"/><stop offset="0.362" stop-color="#084cf8"/><stop offset="0.540" stop-color="#0a88f8"/><stop offset="0.871" stop-color="#0b90f8"/><stop offset="0.996" stop-color="#0986f8"/></linearGradient><linearGradient id="gd61"><stop offset="0.004" stop-color="#130eee"/><stop offset="0.031" stop-color="#0b24f5"/><stop offset="0.076" stop-color="#0866f8"/><stop offset="0.201" stop-color="#10a9f8"/><stop offset="0.272" stop-color="#10adf8"/><stop offset="0.353" stop-color="#0865f8"/><stop offset="0.379" stop-color="#0860f8"/><stop offset="0.460" stop-color="#086bf8"/><stop offset="0.558" stop-color="#10a6f8"/><stop offset="0.701" stop-color="#0d99f8"/><stop offset="0.933" stop-color="#0c95f8"/><stop offset="0.996" stop-color="#0e9ef8"/></linearGradient><linearGradient id="gd62"><stop offset="0.004" stop-color="#160ded"/><stop offset="0.022" stop-color="#0f14f1"/><stop offset="0.076" stop-color="#0870f8"/><stop offset="0.165" stop-color="#10adf8"/><stop offset="0.272" stop-color="#10b7f8"/><stop offset="0.317" stop-color="#0c95f8"/><stop offset="0.362" stop-color="#0857f8"/><stop offset="0.585" stop-color="#10aef8"/><stop offset="0.701" stop-color="#10adf8"/><stop offset="0.996" stop-color="#10aaf8"/></linearGradient><linearGradient id="gd63"><stop offset="0.004" stop-color="#140eee"/><stop offset="0.022" stop-color="#0d1bf3"/><stop offset="0.058" stop-color="#0860f8"/><stop offset="0.076" stop-color="#0a88f8"/><stop offset="0.183" stop-color="#10b0f8"/><stop offset="0.272" stop-color="#10b8f8"/><stop offset="0.326" stop-color="#0d97f8"/><stop offset="0.362" stop-color="#0873f8"/><stop offset="0.531" stop-color="#10aef8"/><stop offset="0.888" stop-color="#10b1f8"/><stop offset="0.996" stop-color="#10b1f8"/></linearGradient><linearGradient id="gd64"><stop offset="0.004" stop-color="#0e18f2"/><stop offset="0.031" stop-color="#0838f8"/><stop offset="0.058" stop-color="#086ff8"/><stop offset="0.076" stop-color="#0b8ff8"/><stop offset="0.201" stop-color="#10bcf6"/><stop offset="0.263" stop-color="#10cfec"/><stop offset="0.335" stop-color="#0d97f8"/><stop offset="0.362" stop-color="#086ef8"/><stop offset="0.469" stop-color="#10abf8"/><stop offset="0.710" stop-color="#10c4f2"/><stop offset="0.862" stop-color="#10b9f7"/><stop offset="0.996" stop-color="#10bef5"/></linearGradient><linearGradient id="gd65"><stop offset="0.004" stop-color="#0a27f6"/><stop offset="0.031" stop-color="#0846f8"/><stop offset="0.067" stop-color="#0c95f8"/><stop offset="0.103" stop-color="#10adf8"/><stop offset="0.263" stop-color="#12dbe3"/><stop offset="0.344" stop-color="#0fa1f8"/><stop offset="0.362" stop-color="#0a8af8"/><stop offset="0.451" stop-color="#10b3f8"/><stop offset="0.701" stop-color="#10d0ec"/><stop offset="0.862" stop-color="#10c5f1"/><stop offset="0.996" stop-color="#10caef"/></linearGradient><linearGradient id="gd66"><stop offset="0.004" stop-color="#092af7"/><stop offset="0.031" stop-color="#084ff8"/><stop offset="0.058" stop-color="#0d97f8"/><stop offset="0.076" stop-color="#10b0f8"/><stop offset="0.210" stop-color="#12dbe3"/><stop offset="0.263" stop-color="#1eedc5"/><stop offset="0.317" stop-color="#10cdee"/><stop offset="0.371" stop-color="#10b0f8"/><stop offset="0.576" stop-color="#10d5ea"/><stop offset="0.996" stop-color="#10d7e9"/></linearGradient><linearGradient id="gd67"><stop offset="0.004" stop-color="#0843f8"/><stop offset="0.022" stop-color="#0857f8"/><stop offset="0.058" stop-color="#0fa4f8"/><stop offset="0.165" stop-color="#14dddf"/><stop offset="0.263" stop-color="#24f2b3"/><stop offset="0.326" stop-color="#10d2eb"/><stop offset="0.371" stop-color="#10bef5"/><stop offset="0.585" stop-color="#19e5d2"/><stop offset="0.790" stop-color="#1ae7cf"/><stop offset="0.996" stop-color="#17e3d6"/></linearGradient><linearGradient id="gd68"><stop offset="0.004" stop-color="#0882f8"/><stop offset="0.013" stop-color="#0a89f8"/><stop offset="0.040" stop-color="#10b7f8"/><stop offset="0.085" stop-color="#15e0da"/><stop offset="0.237" stop-color="#2ef797"/><stop offset="0.263" stop-color="#32f88c"/><stop offset="0.335" stop-color="#13dce1"/><stop offset="0.371" stop-color="#10ccee"/><stop offset="0.603" stop-color="#22f1bb"/><stop offset="0.808" stop-color="#25f3b0"/><stop offset="0.942" stop-color="#21f1bc"/><stop offset="0.996" stop-color="#24f2b4"/></linearGradient><linearGradient id="gd69"><stop offset="0.004" stop-color="#0d97f8"/><stop offset="0.049" stop-color="#10d2eb"/><stop offset="0.085" stop-color="#21f0be"/><stop offset="0.183" stop-color="#3bf87a"/><stop offset="0.263" stop-color="#49f85e"/><stop offset="0.353" stop-color="#1ae8ce"/><stop offset="0.388" stop-color="#1ae7cf"/><stop offset="0.504" stop-color="#27f3ab"/><stop offset="0.576" stop-color="#2ef796"/><stop offset="0.737" stop-color="#2bf69e"/><stop offset="0.879" stop-color="#2bf69e"/><stop offset="0.960" stop-color="#2ef797"/><stop offset="0.996" stop-color="#31f88e"/></linearGradient><linearGradient id="gd70"><stop offset="0.004" stop-color="#10c2f3"/><stop offset="0.031" stop-color="#12dbe3"/><stop offset="0.076" stop-color="#2ef797"/><stop offset="0.174" stop-color="#49f85e"/><stop offset="0.263" stop-color="#54f94c"/><stop offset="0.362" stop-color="#27f4aa"/><stop offset="0.549" stop-color="#36f884"/><stop offset="0.701" stop-color="#3df876"/><stop offset="0.835" stop-color="#3ff872"/><stop offset="0.924" stop-color="#31f88e"/><stop offset="0.996" stop-color="#3cf877"/></linearGradient><linearGradient id="gd71"><stop offset="0.004" stop-color="#24f2b4"/><stop offset="0.040" stop-color="#31f88f"/><stop offset="0.076" stop-color="#4af85d"/><stop offset="0.263" stop-color="#74fd2c"/><stop offset="0.362" stop-color="#44f867"/><stop offset="0.603" stop-color="#5dfa43"/><stop offset="0.808" stop-color="#51f84f"/><stop offset="0.996" stop-color="#5bfa45"/></linearGradient><linearGradient id="gd72"><stop offset="0.004" stop-color="#5af946"/><stop offset="0.112" stop-color="#88ff1b"/><stop offset="0.210" stop-color="#a5ff07"/><stop offset="0.272" stop-color="#a2ff09"/><stop offset="0.371" stop-color="#77fe29"/><stop offset="0.585" stop-color="#97ff10"/><stop offset="0.781" stop-color="#96ff11"/><stop offset="0.933" stop-color="#a6ff07"/><stop offset="0.996" stop-color="#97ff10"/></linearGradient><linearGradient id="gd73"><stop offset="0.004" stop-color="#a4ff08"/><stop offset="0.272" stop-color="#ccff00"/><stop offset="0.433" stop-color="#b6ff00"/><stop offset="0.808" stop-color="#c2ff00"/><stop offset="0.987" stop-color="#baff00"/><stop offset="0.996" stop-color="#b9ff00"/></linearGradient><linearGradient id="gd74"><stop offset="0.004" stop-color="#cefe00"/><stop offset="0.281" stop-color="#e8f800"/><stop offset="0.379" stop-color="#caff00"/><stop offset="0.674" stop-color="#d6fc00"/><stop offset="0.772" stop-color="#d6fd00"/><stop offset="0.951" stop-color="#d9fc00"/><stop offset="0.996" stop-color="#d4fd00"/></linearGradient><linearGradient id="gd75"><stop offset="0.004" stop-color="#e8f800"/><stop offset="0.192" stop-color="#eaf700"/><stop offset="0.317" stop-color="#eff400"/><stop offset="0.996" stop-color="#eef500"/></linearGradient><linearGradient id="gd76"><stop offset="0.004" stop-color="#ffd900"/><stop offset="0.121" stop-color="#edf600"/><stop offset="0.174" stop-color="#e9f800"/><stop offset="0.326" stop-color="#fce800"/><stop offset="0.996" stop-color="#f9ed00"/></linearGradient><linearGradient id="gd77"><stop offset="0.004" stop-color="#ff6d00"/><stop offset="0.022" stop-color="#ff8600"/><stop offset="0.076" stop-color="#ffdd00"/><stop offset="0.156" stop-color="#ebf700"/><stop offset="0.219" stop-color="#ffda00"/><stop offset="0.263" stop-color="#ffb300"/><stop offset="0.504" stop-color="#ffc900"/><stop offset="0.683" stop-color="#ffc800"/><stop offset="0.996" stop-color="#ffc300"/></linearGradient><linearGradient id="gd78"><stop offset="0.004" stop-color="#ff265b"/><stop offset="0.013" stop-color="#ff2253"/><stop offset="0.031" stop-color="#ff1011"/><stop offset="0.058" stop-color="#ff4e00"/><stop offset="0.121" stop-color="#ffcf00"/><stop offset="0.156" stop-color="#eef500"/><stop offset="0.192" stop-color="#ffe000"/><stop offset="0.263" stop-color="#ff6200"/><stop offset="0.371" stop-color="#ff9900"/><stop offset="0.656" stop-color="#ff8d00"/><stop offset="0.763" stop-color="#ff9700"/><stop offset="0.996" stop-color="#ff9200"/></linearGradient><linearGradient id="gd79"><stop offset="0.004" stop-color="#ffabe6"/><stop offset="0.013" stop-color="#ffa5e3"/><stop offset="0.040" stop-color="#ff5cac"/><stop offset="0.067" stop-color="#ff1941"/><stop offset="0.076" stop-color="#ff121a"/><stop offset="0.085" stop-color="#ff2505"/><stop offset="0.138" stop-color="#ffc100"/><stop offset="0.156" stop-color="#fce600"/><stop offset="0.192" stop-color="#ffbe00"/><stop offset="0.263" stop-color="#ff3b00"/><stop offset="0.674" stop-color="#ff4b00"/><stop offset="0.808" stop-color="#ff5400"/><stop offset="0.987" stop-color="#ff4600"/><stop offset="0.996" stop-color="#ff4600"/></linearGradient><linearGradient id="gd80"><stop offset="0.004" stop-color="#ffc1ec"/><stop offset="0.040" stop-color="#ff9fe0"/><stop offset="0.067" stop-color="#ff7dc9"/><stop offset="0.076" stop-color="#ff63b3"/><stop offset="0.094" stop-color="#ff2151"/><stop offset="0.103" stop-color="#ff121c"/><stop offset="0.112" stop-color="#ff2c02"/><stop offset="0.147" stop-color="#ffaf00"/><stop offset="0.156" stop-color="#ffc700"/><stop offset="0.174" stop-color="#ffac00"/><stop offset="0.219" stop-color="#ff3000"/><stop offset="0.228" stop-color="#ff150d"/><stop offset="0.237" stop-color="#ff1531"/><stop offset="0.263" stop-color="#ff54a4"/><stop offset="0.317" stop-color="#ff1840"/><stop offset="0.344" stop-color="#ff1010"/><stop offset="0.371" stop-color="#ff2207"/><stop offset="0.817" stop-color="#ff2406"/><stop offset="0.996" stop-color="#ff1f08"/></linearGradient><linearGradient id="gd81"><stop offset="0.004" stop-color="#ffcdef"/><stop offset="0.067" stop-color="#ffc5ed"/><stop offset="0.076" stop-color="#ffb2e9"/><stop offset="0.085" stop-color="#ff8cd5"/><stop offset="0.094" stop-color="#ff63b3"/><stop offset="0.112" stop-color="#ff1840"/><stop offset="0.121" stop-color="#ff160d"/><stop offset="0.138" stop-color="#ff6000"/><stop offset="0.156" stop-color="#ffa600"/><stop offset="0.165" stop-color="#ff9800"/><stop offset="0.201" stop-color="#ff1f08"/><stop offset="0.210" stop-color="#ff1427"/><stop offset="0.228" stop-color="#ff3f86"/><stop offset="0.237" stop-color="#ff62b2"/><stop offset="0.254" stop-color="#ffa3e1"/><stop offset="0.263" stop-color="#ffbaea"/><stop offset="0.379" stop-color="#ff96db"/><stop offset="0.522" stop-color="#ff94da"/><stop offset="0.996" stop-color="#ff9add"/></linearGradient><linearGradient id="gd82"><stop offset="0.004" stop-color="#ffccef"/><stop offset="0.067" stop-color="#ffc5ed"/><stop offset="0.076" stop-color="#ffb3e9"/><stop offset="0.094" stop-color="#ff6bbb"/><stop offset="0.112" stop-color="#ff2152"/><stop offset="0.121" stop-color="#ff121c"/><stop offset="0.129" stop-color="#ff2c02"/><stop offset="0.156" stop-color="#ff9100"/><stop offset="0.165" stop-color="#ff8300"/><stop offset="0.192" stop-color="#ff2c02"/><stop offset="0.201" stop-color="#ff1115"/><stop offset="0.210" stop-color="#ff1a44"/><stop offset="0.228" stop-color="#ff54a4"/><stop offset="0.246" stop-color="#ff97dc"/><stop offset="0.263" stop-color="#ffcbef"/><stop offset="0.960" stop-color="#ffd0f0"/><stop offset="0.996" stop-color="#ffceef"/></linearGradient><linearGradient id="gd83"><stop offset="0.004" stop-color="#ffd5f2"/><stop offset="0.067" stop-color="#ffc5ed"/><stop offset="0.076" stop-color="#ffb4e9"/><stop offset="0.094" stop-color="#ff71c1"/><stop offset="0.112" stop-color="#ff2d6a"/><stop offset="0.121" stop-color="#ff183d"/><stop offset="0.129" stop-color="#ff1010"/><stop offset="0.138" stop-color="#ff2e01"/><stop offset="0.156" stop-color="#ff6700"/><stop offset="0.174" stop-color="#ff3d00"/><stop offset="0.183" stop-color="#ff2107"/><stop offset="0.192" stop-color="#ff121e"/><stop offset="0.210" stop-color="#ff2e6d"/><stop offset="0.228" stop-color="#ff6aba"/><stop offset="0.254" stop-color="#ffb9ea"/><stop offset="0.263" stop-color="#ffcbef"/><stop offset="0.531" stop-color="#ffcbef"/><stop offset="0.781" stop-color="#ffd9f3"/><stop offset="0.879" stop-color="#ffd8f3"/><stop offset="0.996" stop-color="#ffd1f1"/></linearGradient><clipPath id="cld"><rect x="406.6" y="279.0" width="223.6" height="168.0"/></clipPath></defs><g shape-rendering="crispEdges"><rect x="406.6" y="279.00" width="223.6" height="2.60" fill="url(#gd0)"/><rect x="406.6" y="281.00" width="223.6" height="2.60" fill="url(#gd1)"/><rect x="406.6" y="283.00" width="223.6" height="2.60" fill="url(#gd2)"/><rect x="406.6" y="285.00" width="223.6" height="2.60" fill="url(#gd3)"/><rect x="406.6" y="287.00" width="223.6" height="2.60" fill="url(#gd4)"/><rect x="406.6" y="289.00" width="223.6" height="2.60" fill="url(#gd5)"/><rect x="406.6" y="291.00" width="223.6" height="2.60" fill="url(#gd6)"/><rect x="406.6" y="293.00" width="223.6" height="2.60" fill="url(#gd7)"/><rect x="406.6" y="295.00" width="223.6" height="2.60" fill="url(#gd8)"/><rect x="406.6" y="297.00" width="223.6" height="2.60" fill="url(#gd9)"/><rect x="406.6" y="299.00" width="223.6" height="2.60" fill="url(#gd10)"/><rect x="406.6" y="301.00" width="223.6" height="2.60" fill="url(#gd11)"/><rect x="406.6" y="303.00" width="223.6" height="2.60" fill="url(#gd12)"/><rect x="406.6" y="305.00" width="223.6" height="2.60" fill="url(#gd13)"/><rect x="406.6" y="307.00" width="223.6" height="2.60" fill="url(#gd14)"/><rect x="406.6" y="309.00" width="223.6" height="2.60" fill="url(#gd15)"/><rect x="406.6" y="311.00" width="223.6" height="2.60" fill="url(#gd16)"/><rect x="406.6" y="313.00" width="223.6" height="2.60" fill="url(#gd17)"/><rect x="406.6" y="315.00" width="223.6" height="2.60" fill="url(#gd18)"/><rect x="406.6" y="317.00" width="223.6" height="2.60" fill="url(#gd19)"/><rect x="406.6" y="319.00" width="223.6" height="2.60" fill="url(#gd20)"/><rect x="406.6" y="321.00" width="223.6" height="2.60" fill="url(#gd21)"/><rect x="406.6" y="323.00" width="223.6" height="2.60" fill="url(#gd22)"/><rect x="406.6" y="325.00" width="223.6" height="2.60" fill="url(#gd23)"/><rect x="406.6" y="327.00" width="223.6" height="2.60" fill="url(#gd24)"/><rect x="406.6" y="329.00" width="223.6" height="2.60" fill="url(#gd25)"/><rect x="406.6" y="331.00" width="223.6" height="2.60" fill="url(#gd26)"/><rect x="406.6" y="333.00" width="223.6" height="2.60" fill="url(#gd27)"/><rect x="406.6" y="335.00" width="223.6" height="2.60" fill="url(#gd28)"/><rect x="406.6" y="337.00" width="223.6" height="2.60" fill="url(#gd29)"/><rect x="406.6" y="339.00" width="223.6" height="2.60" fill="url(#gd30)"/><rect x="406.6" y="341.00" width="223.6" height="2.60" fill="url(#gd31)"/><rect x="406.6" y="343.00" width="223.6" height="2.60" fill="url(#gd32)"/><rect x="406.6" y="345.00" width="223.6" height="2.60" fill="url(#gd33)"/><rect x="406.6" y="347.00" width="223.6" height="2.60" fill="url(#gd34)"/><rect x="406.6" y="349.00" width="223.6" height="2.60" fill="url(#gd35)"/><rect x="406.6" y="351.00" width="223.6" height="2.60" fill="url(#gd36)"/><rect x="406.6" y="353.00" width="223.6" height="2.60" fill="url(#gd37)"/><rect x="406.6" y="355.00" width="223.6" height="2.60" fill="url(#gd38)"/><rect x="406.6" y="357.00" width="223.6" height="2.60" fill="url(#gd39)"/><rect x="406.6" y="359.00" width="223.6" height="2.60" fill="url(#gd40)"/><rect x="406.6" y="361.00" width="223.6" height="2.60" fill="url(#gd41)"/><rect x="406.6" y="363.00" width="223.6" height="2.60" fill="url(#gd42)"/><rect x="406.6" y="365.00" width="223.6" height="2.60" fill="url(#gd43)"/><rect x="406.6" y="367.00" width="223.6" height="2.60" fill="url(#gd44)"/><rect x="406.6" y="369.00" width="223.6" height="2.60" fill="url(#gd45)"/><rect x="406.6" y="371.00" width="223.6" height="2.60" fill="url(#gd46)"/><rect x="406.6" y="373.00" width="223.6" height="2.60" fill="url(#gd47)"/><rect x="406.6" y="375.00" width="223.6" height="2.60" fill="url(#gd48)"/><rect x="406.6" y="377.00" width="223.6" height="2.60" fill="url(#gd49)"/><rect x="406.6" y="379.00" width="223.6" height="2.60" fill="url(#gd50)"/><rect x="406.6" y="381.00" width="223.6" height="2.60" fill="url(#gd51)"/><rect x="406.6" y="383.00" width="223.6" height="2.60" fill="url(#gd52)"/><rect x="406.6" y="385.00" width="223.6" height="2.60" fill="url(#gd53)"/><rect x="406.6" y="387.00" width="223.6" height="2.60" fill="url(#gd54)"/><rect x="406.6" y="389.00" width="223.6" height="2.60" fill="url(#gd55)"/><rect x="406.6" y="391.00" width="223.6" height="2.60" fill="url(#gd56)"/><rect x="406.6" y="393.00" width="223.6" height="2.60" fill="url(#gd57)"/><rect x="406.6" y="395.00" width="223.6" height="2.60" fill="url(#gd58)"/><rect x="406.6" y="397.00" width="223.6" height="2.60" fill="url(#gd59)"/><rect x="406.6" y="399.00" width="223.6" height="2.60" fill="url(#gd60)"/><rect x="406.6" y="401.00" width="223.6" height="2.60" fill="url(#gd61)"/><rect x="406.6" y="403.00" width="223.6" height="2.60" fill="url(#gd62)"/><rect x="406.6" y="405.00" width="223.6" height="2.60" fill="url(#gd63)"/><rect x="406.6" y="407.00" width="223.6" height="2.60" fill="url(#gd64)"/><rect x="406.6" y="409.00" width="223.6" height="2.60" fill="url(#gd65)"/><rect x="406.6" y="411.00" width="223.6" height="2.60" fill="url(#gd66)"/><rect x="406.6" y="413.00" width="223.6" height="2.60" fill="url(#gd67)"/><rect x="406.6" y="415.00" width="223.6" height="2.60" fill="url(#gd68)"/><rect x="406.6" y="417.00" width="223.6" height="2.60" fill="url(#gd69)"/><rect x="406.6" y="419.00" width="223.6" height="2.60" fill="url(#gd70)"/><rect x="406.6" y="421.00" width="223.6" height="2.60" fill="url(#gd71)"/><rect x="406.6" y="423.00" width="223.6" height="2.60" fill="url(#gd72)"/><rect x="406.6" y="425.00" width="223.6" height="2.60" fill="url(#gd73)"/><rect x="406.6" y="427.00" width="223.6" height="2.60" fill="url(#gd74)"/><rect x="406.6" y="429.00" width="223.6" height="2.60" fill="url(#gd75)"/><rect x="406.6" y="431.00" width="223.6" height="2.60" fill="url(#gd76)"/><rect x="406.6" y="433.00" width="223.6" height="2.60" fill="url(#gd77)"/><rect x="406.6" y="435.00" width="223.6" height="2.60" fill="url(#gd78)"/><rect x="406.6" y="437.00" width="223.6" height="2.60" fill="url(#gd79)"/><rect x="406.6" y="439.00" width="223.6" height="2.60" fill="url(#gd80)"/><rect x="406.6" y="441.00" width="223.6" height="2.60" fill="url(#gd81)"/><rect x="406.6" y="443.00" width="223.6" height="2.60" fill="url(#gd82)"/><rect x="406.6" y="445.00" width="223.6" height="2.60" fill="url(#gd83)"/></g><g clip-path="url(#cld)" fill="none"><path d="M431.73,445.99C434.05,445.99 441.49,446.01 445.64,445.99C449.79,445.97 454.18,445.96 456.62,445.88C459.06,445.80 459.18,445.82 460.28,445.51C461.38,445.20 462.35,444.68 463.21,444.01C464.06,443.35 464.67,442.69 465.40,441.51C466.14,440.33 466.91,438.74 467.60,436.92C468.29,435.10 468.94,433.04 469.55,430.61C470.16,428.18 470.69,425.15 471.26,422.36C471.83,419.57 472.48,416.59 472.97,413.85C473.46,411.11 473.78,408.43 474.19,405.93C474.59,403.43 475.00,400.71 475.41,398.84C475.81,396.97 476.26,395.57 476.63,394.73C476.99,393.89 477.28,393.80 477.60,393.80C477.93,393.80 478.21,393.89 478.58,394.73C478.95,395.57 479.31,396.91 479.80,398.84C480.29,400.77 480.94,403.81 481.51,406.31C482.08,408.81 482.61,411.17 483.22,413.85C483.83,416.52 484.48,419.85 485.17,422.36C485.86,424.87 486.63,427.00 487.36,428.93C488.10,430.86 488.75,432.54 489.56,433.93C490.37,435.33 491.23,436.30 492.24,437.29C493.26,438.29 494.52,439.25 495.66,439.91C496.80,440.56 497.94,440.93 499.08,441.21C500.21,441.49 501.39,441.59 502.49,441.59C503.59,441.59 504.57,441.52 505.66,441.21C506.76,440.90 507.94,440.37 509.08,439.72C510.22,439.07 511.28,438.26 512.50,437.29C513.72,436.33 515.14,435.12 516.40,433.93C517.66,432.75 518.84,431.51 520.06,430.20C521.28,428.89 522.58,427.09 523.72,426.09C524.86,425.10 525.67,424.35 526.89,424.23C528.11,424.10 529.37,424.60 531.04,425.35C532.71,426.09 534.86,427.84 536.90,428.71C538.93,429.58 540.56,430.01 543.24,430.57C545.92,431.13 549.58,431.51 553.00,432.07C556.42,432.63 560.08,433.87 563.74,433.93C567.40,434.00 571.34,433.06 574.96,432.44C578.58,431.82 581.79,430.57 585.45,430.20C589.11,429.83 592.98,430.01 596.92,430.20C600.86,430.39 605.05,431.07 609.12,431.32C613.19,431.57 617.82,431.57 621.32,431.69C624.82,431.82 628.64,432.00 630.10,432.07" stroke="#000" stroke-width="3" stroke-dasharray="8.5 3 2.6 3"/></g><rect x="406.6" y="279.0" width="223.6" height="168.0" fill="none" stroke="#262626" stroke-width="0.9"/><path d="M406.6,447.0v2.6M406.6,279.0v-2.6M455.4,447.0v2.6M455.4,279.0v-2.6M504.2,447.0v2.6M504.2,279.0v-2.6M553.0,447.0v2.6M553.0,279.0v-2.6M601.8,447.0v2.6M601.8,279.0v-2.6M406.6,447.0h-3.4M630.2,447.0h2.6M406.6,409.7h-3.4M630.2,409.7h2.6M406.6,372.3h-3.4M630.2,372.3h2.6M406.6,335.0h-3.4M630.2,335.0h2.6M406.6,297.7h-3.4M630.2,297.7h2.6" stroke="#262626" stroke-width="1" fill="none"/><text x="397.7" y="455.0" text-anchor="end" font-size="17.8" fill="#262626">0</text><text x="397.7" y="417.7" text-anchor="end" font-size="17.8" fill="#262626">10</text><text x="397.7" y="380.3" text-anchor="end" font-size="17.8" fill="#262626">20</text><text x="397.7" y="343.0" text-anchor="end" font-size="17.8" fill="#262626">30</text><text x="397.7" y="305.7" text-anchor="end" font-size="17.8" fill="#262626">40</text><text x="406.6" y="472.7" text-anchor="middle" font-size="17.8" fill="#262626">0</text><text x="455.4" y="472.7" text-anchor="middle" font-size="17.8" fill="#262626">2</text><text x="504.2" y="472.7" text-anchor="middle" font-size="17.8" fill="#262626">4</text><text x="553.0" y="472.7" text-anchor="middle" font-size="17.8" fill="#262626">6</text><text x="601.8" y="472.7" text-anchor="middle" font-size="17.8" fill="#262626">8</text><text x="517.9" y="502.2" text-anchor="middle" font-size="19.6" fill="#262626" textLength="63" lengthAdjust="spacing">Q (&#197;<tspan font-size="14" dy="-9.5">-1</tspan><tspan dy="9.5">)</tspan></text><text transform="translate(370.4,363.8) rotate(-90)" text-anchor="middle" font-size="18.8" fill="#262626" textLength="72.5" lengthAdjust="spacing">E (meV)</text><rect x="636.3" y="279.5" width="13.2" height="167.5" fill="url(#cbar)" stroke="#8a8a8a" stroke-width="0.8"/><path d="M649.5,405.1h-1.6M649.5,363.2h-1.6M649.5,321.4h-1.6" stroke="#262626" stroke-width="0.9"/><text x="653.7" y="452.6" font-size="15.5" fill="#262626">0</text><text x="653.7" y="410.7" font-size="15.5" fill="#262626">1</text><text x="653.7" y="368.9" font-size="15.5" fill="#262626">2</text><text x="653.7" y="327.0" font-size="15.5" fill="#262626">3</text><text x="653.7" y="285.1" font-size="15.5" fill="#262626">4</text><text transform="translate(680.6,363.3) rotate(-90)" text-anchor="middle" font-size="16.4" fill="#262626">B(Q,E) (arb. u.)</text><text x="449.7" y="305.0" font-size="22" fill="#fff" textLength="156.5" lengthAdjust="spacingAndGlyphs">non-affine strain</text><defs><linearGradient id="ge0"><stop offset="0.004" stop-color="#6e00ac"/><stop offset="0.058" stop-color="#6f00b3"/><stop offset="0.147" stop-color="#6d00c1"/><stop offset="0.996" stop-color="#6d00c0"/></linearGradient><linearGradient id="ge1"><stop offset="0.004" stop-color="#6e00aa"/><stop offset="0.058" stop-color="#6f00b1"/><stop offset="0.147" stop-color="#6d00c0"/><stop offset="0.996" stop-color="#6d00bf"/></linearGradient><linearGradient id="ge2"><stop offset="0.004" stop-color="#6e00aa"/><stop offset="0.058" stop-color="#6f00b2"/><stop offset="0.138" stop-color="#6d00c0"/><stop offset="0.996" stop-color="#6d00c0"/></linearGradient><linearGradient id="ge3"><stop offset="0.004" stop-color="#6e00ab"/><stop offset="0.058" stop-color="#6f00b1"/><stop offset="0.156" stop-color="#6d00c0"/><stop offset="0.996" stop-color="#6d00c0"/></linearGradient><linearGradient id="ge4"><stop offset="0.004" stop-color="#6e00ad"/><stop offset="0.058" stop-color="#6f00b2"/><stop offset="0.138" stop-color="#6e00be"/><stop offset="0.996" stop-color="#6d00c0"/></linearGradient><linearGradient id="ge5"><stop offset="0.004" stop-color="#6e00aa"/><stop offset="0.058" stop-color="#6f00b2"/><stop offset="0.138" stop-color="#6d00bf"/><stop offset="0.996" stop-color="#6c00c2"/></linearGradient><linearGradient id="ge6"><stop offset="0.004" stop-color="#6e00ab"/><stop offset="0.058" stop-color="#6f00b2"/><stop offset="0.147" stop-color="#6c00c1"/><stop offset="0.996" stop-color="#6d00c1"/></linearGradient><linearGradient id="ge7"><stop offset="0.004" stop-color="#6e00ac"/><stop offset="0.058" stop-color="#6f00b3"/><stop offset="0.138" stop-color="#6d00c1"/><stop offset="0.996" stop-color="#6d00bf"/></linearGradient><linearGradient id="ge8"><stop offset="0.004" stop-color="#6e00a9"/><stop offset="0.058" stop-color="#6f00b1"/><stop offset="0.138" stop-color="#6c00c2"/><stop offset="0.996" stop-color="#6d00c0"/></linearGradient><linearGradient id="ge9"><stop offset="0.004" stop-color="#6d00a7"/><stop offset="0.058" stop-color="#6f00b0"/><stop offset="0.138" stop-color="#6c00c1"/><stop offset="0.996" stop-color="#6d00c0"/></linearGradient><linearGradient id="ge10"><stop offset="0.004" stop-color="#6e00ac"/><stop offset="0.058" stop-color="#6f00b3"/><stop offset="0.138" stop-color="#6c00c4"/><stop offset="0.996" stop-color="#6d00c0"/></linearGradient><linearGradient id="ge11"><stop offset="0.004" stop-color="#6e00ab"/><stop offset="0.058" stop-color="#6f00b1"/><stop offset="0.138" stop-color="#6b00c5"/><stop offset="0.996" stop-color="#6d00c1"/></linearGradient><linearGradient id="ge12"><stop offset="0.004" stop-color="#6e00a9"/><stop offset="0.058" stop-color="#6f00b1"/><stop offset="0.129" stop-color="#6a00c8"/><stop offset="0.996" stop-color="#6d00c1"/></linearGradient><linearGradient id="ge13"><stop offset="0.004" stop-color="#6e00ae"/><stop offset="0.058" stop-color="#6f00b3"/><stop offset="0.129" stop-color="#6500cc"/><stop offset="0.344" stop-color="#6c00c2"/><stop offset="0.996" stop-color="#6c00c3"/></linearGradient><linearGradient id="ge14"><stop offset="0.004" stop-color="#6e00a9"/><stop offset="0.058" stop-color="#6f00b2"/><stop offset="0.094" stop-color="#6d00bf"/><stop offset="0.129" stop-color="#5e00d3"/><stop offset="0.201" stop-color="#6b00c4"/><stop offset="0.996" stop-color="#6c00c4"/></linearGradient><linearGradient id="ge15"><stop offset="0.004" stop-color="#6e00ab"/><stop offset="0.058" stop-color="#6f00b3"/><stop offset="0.094" stop-color="#6d00bf"/><stop offset="0.112" stop-color="#5c00d4"/><stop offset="0.147" stop-color="#6200cf"/><stop offset="0.272" stop-color="#6b00c5"/><stop offset="0.996" stop-color="#6a00c7"/></linearGradient><linearGradient id="ge16"><stop offset="0.004" stop-color="#6d00a9"/><stop offset="0.058" stop-color="#6f00b0"/><stop offset="0.094" stop-color="#6d00c0"/><stop offset="0.112" stop-color="#5800d8"/><stop offset="0.138" stop-color="#5600d9"/><stop offset="0.174" stop-color="#6a00c7"/><stop offset="0.996" stop-color="#6a00c7"/></linearGradient><linearGradient id="ge17"><stop offset="0.004" stop-color="#6e00a9"/><stop offset="0.058" stop-color="#6f00b2"/><stop offset="0.094" stop-color="#6c00c3"/><stop offset="0.103" stop-color="#5600d8"/><stop offset="0.129" stop-color="#4300dd"/><stop offset="0.183" stop-color="#6900c9"/><stop offset="0.996" stop-color="#6b00c6"/></linearGradient><linearGradient id="ge18"><stop offset="0.004" stop-color="#6e00aa"/><stop offset="0.058" stop-color="#6f00b1"/><stop offset="0.085" stop-color="#7000b7"/><stop offset="0.094" stop-color="#6b00c5"/><stop offset="0.103" stop-color="#4c00db"/><stop offset="0.121" stop-color="#3102e2"/><stop offset="0.138" stop-color="#3b00df"/><stop offset="0.165" stop-color="#5d00d4"/><stop offset="0.281" stop-color="#6900c9"/><stop offset="0.996" stop-color="#6900c9"/></linearGradient><linearGradient id="ge19"><stop offset="0.004" stop-color="#6e00aa"/><stop offset="0.058" stop-color="#6f00b2"/><stop offset="0.085" stop-color="#7000b8"/><stop offset="0.094" stop-color="#6a00c7"/><stop offset="0.103" stop-color="#3e00de"/><stop offset="0.121" stop-color="#2108e8"/><stop offset="0.138" stop-color="#2a05e5"/><stop offset="0.165" stop-color="#5700d8"/><stop offset="0.272" stop-color="#6400ce"/><stop offset="0.996" stop-color="#6200cf"/></linearGradient><linearGradient id="ge20"><stop offset="0.004" stop-color="#6e00ad"/><stop offset="0.058" stop-color="#6f00b3"/><stop offset="0.085" stop-color="#7000b9"/><stop offset="0.094" stop-color="#6800ca"/><stop offset="0.103" stop-color="#2c04e4"/><stop offset="0.121" stop-color="#160ded"/><stop offset="0.138" stop-color="#1c0aea"/><stop offset="0.174" stop-color="#5700d8"/><stop offset="0.996" stop-color="#5c00d4"/></linearGradient><linearGradient id="ge21"><stop offset="0.004" stop-color="#6e00ab"/><stop offset="0.058" stop-color="#6f00b2"/><stop offset="0.085" stop-color="#7000b8"/><stop offset="0.094" stop-color="#6300ce"/><stop offset="0.103" stop-color="#1d0aea"/><stop offset="0.129" stop-color="#0d1cf3"/><stop offset="0.156" stop-color="#2b04e4"/><stop offset="0.183" stop-color="#4c00db"/><stop offset="0.513" stop-color="#5400d9"/><stop offset="0.996" stop-color="#5500d9"/></linearGradient><linearGradient id="ge22"><stop offset="0.004" stop-color="#6e00a9"/><stop offset="0.058" stop-color="#6f00b0"/><stop offset="0.085" stop-color="#7000b6"/><stop offset="0.094" stop-color="#6000d1"/><stop offset="0.103" stop-color="#140eee"/><stop offset="0.121" stop-color="#0830f8"/><stop offset="0.129" stop-color="#0832f8"/><stop offset="0.147" stop-color="#120fef"/><stop offset="0.183" stop-color="#4400dd"/><stop offset="0.996" stop-color="#4900dc"/></linearGradient><linearGradient id="ge23"><stop offset="0.004" stop-color="#6e00aa"/><stop offset="0.058" stop-color="#6f00b2"/><stop offset="0.085" stop-color="#7000b8"/><stop offset="0.094" stop-color="#5a00d6"/><stop offset="0.103" stop-color="#0c21f4"/><stop offset="0.112" stop-color="#083bf8"/><stop offset="0.121" stop-color="#0865f8"/><stop offset="0.129" stop-color="#0868f8"/><stop offset="0.138" stop-color="#083df8"/><stop offset="0.156" stop-color="#130eee"/><stop offset="0.192" stop-color="#3700e0"/><stop offset="0.996" stop-color="#3d00df"/></linearGradient><linearGradient id="ge24"><stop offset="0.004" stop-color="#6e00aa"/><stop offset="0.058" stop-color="#6f00b1"/><stop offset="0.085" stop-color="#7000b7"/><stop offset="0.094" stop-color="#5600d9"/><stop offset="0.103" stop-color="#0839f8"/><stop offset="0.112" stop-color="#0a88f8"/><stop offset="0.121" stop-color="#10b7f8"/><stop offset="0.129" stop-color="#10b9f8"/><stop offset="0.138" stop-color="#0b91f8"/><stop offset="0.147" stop-color="#083df8"/><stop offset="0.165" stop-color="#130eee"/><stop offset="0.210" stop-color="#2905e5"/><stop offset="0.996" stop-color="#2a05e5"/></linearGradient><linearGradient id="ge25"><stop offset="0.004" stop-color="#6e00aa"/><stop offset="0.058" stop-color="#6f00b2"/><stop offset="0.085" stop-color="#7000b7"/><stop offset="0.094" stop-color="#4c00db"/><stop offset="0.103" stop-color="#0986f8"/><stop offset="0.112" stop-color="#10caef"/><stop offset="0.138" stop-color="#10cfed"/><stop offset="0.147" stop-color="#0b8ff8"/><stop offset="0.156" stop-color="#0838f8"/><stop offset="0.174" stop-color="#120fef"/><stop offset="0.281" stop-color="#1b0beb"/><stop offset="0.996" stop-color="#1b0aea"/></linearGradient><linearGradient id="ge26"><stop offset="0.004" stop-color="#6e00aa"/><stop offset="0.058" stop-color="#6f00b2"/><stop offset="0.085" stop-color="#7000b7"/><stop offset="0.094" stop-color="#3b00df"/><stop offset="0.103" stop-color="#10c9f0"/><stop offset="0.129" stop-color="#10d2eb"/><stop offset="0.147" stop-color="#10cfed"/><stop offset="0.165" stop-color="#0837f8"/><stop offset="0.192" stop-color="#1011f0"/><stop offset="0.996" stop-color="#110fef"/></linearGradient><linearGradient id="ge27"><stop offset="0.004" stop-color="#6e00ab"/><stop offset="0.058" stop-color="#6f00b4"/><stop offset="0.085" stop-color="#6f00ba"/><stop offset="0.094" stop-color="#2407e7"/><stop offset="0.103" stop-color="#10d5e9"/><stop offset="0.147" stop-color="#10d5ea"/><stop offset="0.156" stop-color="#10caef"/><stop offset="0.174" stop-color="#0841f8"/><stop offset="0.201" stop-color="#0a29f6"/><stop offset="0.594" stop-color="#0a27f6"/><stop offset="0.996" stop-color="#0b25f5"/></linearGradient><linearGradient id="ge28"><stop offset="0.004" stop-color="#6e00ab"/><stop offset="0.058" stop-color="#6f00b0"/><stop offset="0.085" stop-color="#6f00b5"/><stop offset="0.094" stop-color="#2307e7"/><stop offset="0.103" stop-color="#10d1ec"/><stop offset="0.156" stop-color="#10d3eb"/><stop offset="0.165" stop-color="#10c6f1"/><stop offset="0.183" stop-color="#0867f8"/><stop offset="0.192" stop-color="#084bf8"/><stop offset="0.237" stop-color="#083df8"/><stop offset="0.987" stop-color="#083cf8"/><stop offset="0.996" stop-color="#083bf8"/></linearGradient><linearGradient id="ge29"><stop offset="0.004" stop-color="#6f00b3"/><stop offset="0.085" stop-color="#7000b7"/><stop offset="0.094" stop-color="#3003e3"/><stop offset="0.103" stop-color="#10aef8"/><stop offset="0.112" stop-color="#10d2eb"/><stop offset="0.174" stop-color="#10d0ec"/><stop offset="0.192" stop-color="#10aaf8"/><stop offset="0.219" stop-color="#0d9af8"/><stop offset="0.308" stop-color="#0e9ef8"/><stop offset="0.504" stop-color="#0b8ff8"/><stop offset="0.692" stop-color="#0d9af8"/><stop offset="0.996" stop-color="#0d98f8"/></linearGradient><linearGradient id="ge30"><stop offset="0.004" stop-color="#6f00b4"/><stop offset="0.085" stop-color="#6f00bc"/><stop offset="0.094" stop-color="#4600dd"/><stop offset="0.103" stop-color="#0838f8"/><stop offset="0.112" stop-color="#10d8e8"/><stop offset="0.701" stop-color="#10d4ea"/><stop offset="0.996" stop-color="#10d5e9"/></linearGradient><linearGradient id="ge31"><stop offset="0.004" stop-color="#7000b6"/><stop offset="0.085" stop-color="#7000b9"/><stop offset="0.094" stop-color="#6100d0"/><stop offset="0.103" stop-color="#092bf7"/><stop offset="0.112" stop-color="#25f2b2"/><stop offset="0.344" stop-color="#27f3ac"/><stop offset="0.665" stop-color="#22f1ba"/><stop offset="0.781" stop-color="#24f2b4"/><stop offset="0.996" stop-color="#24f2b3"/></linearGradient><linearGradient id="ge32"><stop offset="0.004" stop-color="#6f00bb"/><stop offset="0.085" stop-color="#7000b6"/><stop offset="0.094" stop-color="#0d1af3"/><stop offset="0.103" stop-color="#45f866"/><stop offset="0.147" stop-color="#4af85c"/><stop offset="0.156" stop-color="#49f85e"/><stop offset="0.165" stop-color="#3ef874"/><stop offset="0.174" stop-color="#3bf879"/><stop offset="0.201" stop-color="#49f85d"/><stop offset="0.603" stop-color="#48f85f"/><stop offset="0.790" stop-color="#4af85b"/><stop offset="0.933" stop-color="#4cf858"/><stop offset="0.996" stop-color="#45f867"/></linearGradient><linearGradient id="ge33"><stop offset="0.004" stop-color="#6f00ba"/><stop offset="0.085" stop-color="#6f00bb"/><stop offset="0.094" stop-color="#190cec"/><stop offset="0.103" stop-color="#4cf858"/><stop offset="0.112" stop-color="#dbfb00"/><stop offset="0.121" stop-color="#f9ed00"/><stop offset="0.129" stop-color="#f2f300"/><stop offset="0.138" stop-color="#c0ff00"/><stop offset="0.147" stop-color="#72fd2e"/><stop offset="0.156" stop-color="#2ff793"/><stop offset="0.165" stop-color="#20f0bf"/><stop offset="0.174" stop-color="#2cf69d"/><stop offset="0.183" stop-color="#44f869"/><stop offset="0.201" stop-color="#6ffc31"/><stop offset="0.219" stop-color="#7eff22"/><stop offset="0.683" stop-color="#7dff23"/><stop offset="0.808" stop-color="#7fff21"/><stop offset="0.978" stop-color="#80ff20"/><stop offset="0.996" stop-color="#7eff22"/></linearGradient><linearGradient id="ge34"><stop offset="0.004" stop-color="#6f00b0"/><stop offset="0.067" stop-color="#7000b6"/><stop offset="0.076" stop-color="#6c00c1"/><stop offset="0.085" stop-color="#5800d8"/><stop offset="0.094" stop-color="#0850f8"/><stop offset="0.103" stop-color="#d8fc00"/><stop offset="0.112" stop-color="#ff9a00"/><stop offset="0.121" stop-color="#ff9e00"/><stop offset="0.129" stop-color="#f3f300"/><stop offset="0.138" stop-color="#8eff16"/><stop offset="0.147" stop-color="#31f88f"/><stop offset="0.156" stop-color="#1ceaca"/><stop offset="0.165" stop-color="#17e2d7"/><stop offset="0.174" stop-color="#1fefc2"/><stop offset="0.192" stop-color="#4af85b"/><stop offset="0.210" stop-color="#a1ff0a"/><stop offset="0.290" stop-color="#a4ff08"/><stop offset="0.388" stop-color="#a3ff09"/><stop offset="0.487" stop-color="#afff01"/><stop offset="0.674" stop-color="#acff02"/><stop offset="0.996" stop-color="#aeff01"/></linearGradient><linearGradient id="ge35"><stop offset="0.004" stop-color="#6d00a6"/><stop offset="0.067" stop-color="#6f00b9"/><stop offset="0.076" stop-color="#3302e2"/><stop offset="0.085" stop-color="#0841f8"/><stop offset="0.094" stop-color="#53f84d"/><stop offset="0.103" stop-color="#ffad00"/><stop offset="0.112" stop-color="#ff9400"/><stop offset="0.121" stop-color="#ffdb00"/><stop offset="0.129" stop-color="#c6ff00"/><stop offset="0.138" stop-color="#4df856"/><stop offset="0.147" stop-color="#25f3b0"/><stop offset="0.165" stop-color="#11d9e7"/><stop offset="0.174" stop-color="#1ce9cb"/><stop offset="0.192" stop-color="#43f86a"/><stop offset="0.201" stop-color="#67fb39"/><stop offset="0.210" stop-color="#9dff0d"/><stop offset="0.219" stop-color="#baff00"/><stop offset="0.996" stop-color="#c0ff00"/></linearGradient><linearGradient id="ge36"><stop offset="0.004" stop-color="#6f00b0"/><stop offset="0.058" stop-color="#7000b8"/><stop offset="0.067" stop-color="#3c00df"/><stop offset="0.076" stop-color="#086df8"/><stop offset="0.085" stop-color="#2bf69e"/><stop offset="0.094" stop-color="#f8f000"/><stop offset="0.103" stop-color="#ff9300"/><stop offset="0.112" stop-color="#ffb000"/><stop offset="0.121" stop-color="#ebf600"/><stop offset="0.129" stop-color="#7cfe24"/><stop offset="0.138" stop-color="#2ff893"/><stop offset="0.147" stop-color="#1feec3"/><stop offset="0.165" stop-color="#19e5d2"/><stop offset="0.174" stop-color="#1ce9cb"/><stop offset="0.192" stop-color="#40f871"/><stop offset="0.210" stop-color="#98ff10"/><stop offset="0.219" stop-color="#c1ff00"/><stop offset="0.603" stop-color="#b7ff00"/><stop offset="0.862" stop-color="#bfff00"/><stop offset="0.996" stop-color="#bcff00"/></linearGradient><linearGradient id="ge37"><stop offset="0.004" stop-color="#6d00a9"/><stop offset="0.049" stop-color="#6e00a9"/><stop offset="0.058" stop-color="#7000b5"/><stop offset="0.067" stop-color="#1b0aea"/><stop offset="0.076" stop-color="#10b5f8"/><stop offset="0.085" stop-color="#79fe27"/><stop offset="0.094" stop-color="#ffae00"/><stop offset="0.103" stop-color="#ffa300"/><stop offset="0.112" stop-color="#fce800"/><stop offset="0.121" stop-color="#b4ff00"/><stop offset="0.129" stop-color="#40f870"/><stop offset="0.138" stop-color="#20f0bf"/><stop offset="0.147" stop-color="#18e4d5"/><stop offset="0.156" stop-color="#17e2d8"/><stop offset="0.165" stop-color="#10d7e9"/><stop offset="0.174" stop-color="#10d1eb"/><stop offset="0.183" stop-color="#1eedc5"/><stop offset="0.201" stop-color="#4ef853"/><stop offset="0.210" stop-color="#7eff22"/><stop offset="0.219" stop-color="#b1ff00"/><stop offset="0.228" stop-color="#c5ff00"/><stop offset="0.585" stop-color="#bcff00"/><stop offset="0.871" stop-color="#c6ff00"/><stop offset="0.996" stop-color="#c0ff00"/></linearGradient><linearGradient id="ge38"><stop offset="0.004" stop-color="#6f00b1"/><stop offset="0.049" stop-color="#6f00b3"/><stop offset="0.058" stop-color="#4e00da"/><stop offset="0.067" stop-color="#084bf8"/><stop offset="0.076" stop-color="#21f1bd"/><stop offset="0.085" stop-color="#edf500"/><stop offset="0.094" stop-color="#ff9a00"/><stop offset="0.103" stop-color="#ffaf00"/><stop offset="0.112" stop-color="#ecf600"/><stop offset="0.121" stop-color="#79fe27"/><stop offset="0.129" stop-color="#2cf69b"/><stop offset="0.138" stop-color="#1be8cd"/><stop offset="0.174" stop-color="#10d9e7"/><stop offset="0.183" stop-color="#1decc7"/><stop offset="0.201" stop-color="#4af85c"/><stop offset="0.219" stop-color="#a5ff07"/><stop offset="0.228" stop-color="#c6ff00"/><stop offset="0.585" stop-color="#c3ff00"/><stop offset="0.710" stop-color="#bdff00"/><stop offset="0.888" stop-color="#c5ff00"/><stop offset="0.996" stop-color="#c2ff00"/></linearGradient><linearGradient id="ge39"><stop offset="0.004" stop-color="#6e00a9"/><stop offset="0.040" stop-color="#6e00a9"/><stop offset="0.049" stop-color="#10aff8"/><stop offset="0.058" stop-color="#2805e5"/><stop offset="0.067" stop-color="#0e9ef8"/><stop offset="0.076" stop-color="#4ef854"/><stop offset="0.085" stop-color="#ffcc00"/><stop offset="0.094" stop-color="#ffa400"/><stop offset="0.103" stop-color="#ffdd00"/><stop offset="0.112" stop-color="#c5ff00"/><stop offset="0.121" stop-color="#4bf85a"/><stop offset="0.129" stop-color="#24f2b3"/><stop offset="0.147" stop-color="#14dede"/><stop offset="0.174" stop-color="#20f0bf"/><stop offset="0.183" stop-color="#27f4aa"/><stop offset="0.201" stop-color="#4df856"/><stop offset="0.219" stop-color="#9fff0b"/><stop offset="0.228" stop-color="#c3ff00"/><stop offset="0.674" stop-color="#b9ff00"/><stop offset="0.835" stop-color="#c1ff00"/><stop offset="0.960" stop-color="#b7ff00"/><stop offset="0.996" stop-color="#b9ff00"/></linearGradient><linearGradient id="ge40"><stop offset="0.004" stop-color="#7000b6"/><stop offset="0.040" stop-color="#7000b6"/><stop offset="0.049" stop-color="#6100d0"/><stop offset="0.058" stop-color="#092cf7"/><stop offset="0.067" stop-color="#12dbe4"/><stop offset="0.076" stop-color="#caff00"/><stop offset="0.085" stop-color="#ff9800"/><stop offset="0.094" stop-color="#ff9800"/><stop offset="0.103" stop-color="#f8f000"/><stop offset="0.112" stop-color="#9dff0c"/><stop offset="0.121" stop-color="#37f882"/><stop offset="0.129" stop-color="#1eeec4"/><stop offset="0.138" stop-color="#18e4d4"/><stop offset="0.147" stop-color="#10caef"/><stop offset="0.174" stop-color="#16e2d8"/><stop offset="0.183" stop-color="#1ae8ce"/><stop offset="0.201" stop-color="#35f886"/><stop offset="0.210" stop-color="#50f850"/><stop offset="0.219" stop-color="#84ff1d"/><stop offset="0.228" stop-color="#b5ff00"/><stop offset="0.246" stop-color="#c2ff00"/><stop offset="0.513" stop-color="#c0ff00"/><stop offset="0.808" stop-color="#c1ff00"/><stop offset="0.933" stop-color="#c7ff00"/><stop offset="0.996" stop-color="#b8ff00"/></linearGradient><linearGradient id="ge41"><stop offset="0.004" stop-color="#6f00bc"/><stop offset="0.031" stop-color="#6e00bd"/><stop offset="0.040" stop-color="#4e00db"/><stop offset="0.049" stop-color="#2b04e4"/><stop offset="0.058" stop-color="#0c92f8"/><stop offset="0.067" stop-color="#3cf878"/><stop offset="0.076" stop-color="#fde400"/><stop offset="0.085" stop-color="#ff8b00"/><stop offset="0.094" stop-color="#ffb200"/><stop offset="0.103" stop-color="#ebf700"/><stop offset="0.112" stop-color="#7dff23"/><stop offset="0.121" stop-color="#30f890"/><stop offset="0.129" stop-color="#20f0c0"/><stop offset="0.138" stop-color="#10d8e7"/><stop offset="0.147" stop-color="#10d2eb"/><stop offset="0.183" stop-color="#18e5d3"/><stop offset="0.201" stop-color="#3cf878"/><stop offset="0.210" stop-color="#5dfa43"/><stop offset="0.219" stop-color="#8fff16"/><stop offset="0.228" stop-color="#b9ff00"/><stop offset="0.246" stop-color="#c7ff00"/><stop offset="0.397" stop-color="#beff00"/><stop offset="0.567" stop-color="#c3ff00"/><stop offset="0.737" stop-color="#baff00"/><stop offset="0.933" stop-color="#bdff00"/><stop offset="0.996" stop-color="#a9ff04"/></linearGradient><linearGradient id="ge42"><stop offset="0.004" stop-color="#7000b8"/><stop offset="0.040" stop-color="#6f00ba"/><stop offset="0.049" stop-color="#190cec"/><stop offset="0.058" stop-color="#10b6f8"/><stop offset="0.067" stop-color="#75fd2b"/><stop offset="0.076" stop-color="#ffb400"/><stop offset="0.085" stop-color="#ff9f00"/><stop offset="0.094" stop-color="#fee300"/><stop offset="0.103" stop-color="#bbff00"/><stop offset="0.112" stop-color="#43f869"/><stop offset="0.121" stop-color="#21f0be"/><stop offset="0.138" stop-color="#10d0ec"/><stop offset="0.174" stop-color="#10c6f1"/><stop offset="0.183" stop-color="#10d4ea"/><stop offset="0.192" stop-color="#24f2b3"/><stop offset="0.210" stop-color="#61fb3f"/><stop offset="0.219" stop-color="#90ff15"/><stop offset="0.228" stop-color="#b8ff00"/><stop offset="0.254" stop-color="#c3ff00"/><stop offset="0.719" stop-color="#caff00"/><stop offset="0.871" stop-color="#b4ff00"/><stop offset="0.996" stop-color="#c4ff00"/></linearGradient><linearGradient id="ge43"><stop offset="0.004" stop-color="#6f00bb"/><stop offset="0.031" stop-color="#6f00ba"/><stop offset="0.040" stop-color="#5b00d5"/><stop offset="0.049" stop-color="#0839f8"/><stop offset="0.058" stop-color="#16e1d9"/><stop offset="0.067" stop-color="#d5fd00"/><stop offset="0.076" stop-color="#ff9500"/><stop offset="0.085" stop-color="#ff9500"/><stop offset="0.094" stop-color="#f7f100"/><stop offset="0.103" stop-color="#9cff0d"/><stop offset="0.112" stop-color="#38f880"/><stop offset="0.121" stop-color="#1fefc1"/><stop offset="0.156" stop-color="#10cded"/><stop offset="0.174" stop-color="#10b9f8"/><stop offset="0.183" stop-color="#10cded"/><stop offset="0.192" stop-color="#23f2b6"/><stop offset="0.201" stop-color="#39f87d"/><stop offset="0.210" stop-color="#5dfa43"/><stop offset="0.219" stop-color="#8cff18"/><stop offset="0.228" stop-color="#b4ff00"/><stop offset="0.406" stop-color="#c1ff00"/><stop offset="0.504" stop-color="#caff00"/><stop offset="0.888" stop-color="#c1ff00"/><stop offset="0.996" stop-color="#b9ff00"/></linearGradient><linearGradient id="ge44"><stop offset="0.004" stop-color="#6f00bb"/><stop offset="0.022" stop-color="#6f00b1"/><stop offset="0.031" stop-color="#6a00c8"/><stop offset="0.040" stop-color="#3e00df"/><stop offset="0.049" stop-color="#0868f8"/><stop offset="0.058" stop-color="#2cf69c"/><stop offset="0.067" stop-color="#f9ee00"/><stop offset="0.076" stop-color="#ff9a00"/><stop offset="0.085" stop-color="#ffbb00"/><stop offset="0.094" stop-color="#e4f900"/><stop offset="0.103" stop-color="#6efc32"/><stop offset="0.112" stop-color="#2cf69c"/><stop offset="0.121" stop-color="#1decc7"/><stop offset="0.147" stop-color="#1be8ce"/><stop offset="0.174" stop-color="#10d5e9"/><stop offset="0.183" stop-color="#18e3d5"/><stop offset="0.192" stop-color="#2bf5a0"/><stop offset="0.201" stop-color="#45f867"/><stop offset="0.210" stop-color="#6ffd31"/><stop offset="0.219" stop-color="#9fff0c"/><stop offset="0.228" stop-color="#c1ff00"/><stop offset="0.335" stop-color="#b9ff00"/><stop offset="0.487" stop-color="#c5ff00"/><stop offset="0.576" stop-color="#c2ff00"/><stop offset="0.665" stop-color="#ccff00"/><stop offset="0.879" stop-color="#c2ff00"/><stop offset="0.996" stop-color="#ceff00"/></linearGradient><linearGradient id="ge45"><stop offset="0.004" stop-color="#6000d1"/><stop offset="0.022" stop-color="#6f00bb"/><stop offset="0.031" stop-color="#10c2f3"/><stop offset="0.040" stop-color="#1d0aea"/><stop offset="0.049" stop-color="#10aef8"/><stop offset="0.058" stop-color="#5dfa43"/><stop offset="0.067" stop-color="#ffc600"/><stop offset="0.076" stop-color="#ffa100"/><stop offset="0.085" stop-color="#ffdf00"/><stop offset="0.094" stop-color="#bfff00"/><stop offset="0.103" stop-color="#44f869"/><stop offset="0.112" stop-color="#1fefc1"/><stop offset="0.121" stop-color="#14dede"/><stop offset="0.138" stop-color="#10d5e9"/><stop offset="0.156" stop-color="#13dde0"/><stop offset="0.174" stop-color="#10d3ea"/><stop offset="0.183" stop-color="#14dedf"/><stop offset="0.201" stop-color="#33f88b"/><stop offset="0.210" stop-color="#58f948"/><stop offset="0.219" stop-color="#94ff13"/><stop offset="0.228" stop-color="#c0ff00"/><stop offset="0.433" stop-color="#c1ff00"/><stop offset="0.585" stop-color="#c0ff00"/><stop offset="0.665" stop-color="#b8ff00"/><stop offset="0.772" stop-color="#bbff00"/><stop offset="0.871" stop-color="#bcff00"/><stop offset="0.996" stop-color="#bbff00"/></linearGradient><linearGradient id="ge46"><stop offset="0.004" stop-color="#6600cb"/><stop offset="0.022" stop-color="#6f00bb"/><stop offset="0.031" stop-color="#6600cb"/><stop offset="0.040" stop-color="#0d1cf3"/><stop offset="0.049" stop-color="#10ccee"/><stop offset="0.058" stop-color="#aaff04"/><stop offset="0.067" stop-color="#ffa200"/><stop offset="0.076" stop-color="#ffa400"/><stop offset="0.085" stop-color="#f6f100"/><stop offset="0.094" stop-color="#93ff13"/><stop offset="0.103" stop-color="#30f891"/><stop offset="0.112" stop-color="#1ae7d0"/><stop offset="0.129" stop-color="#10c7f0"/><stop offset="0.147" stop-color="#13dde0"/><stop offset="0.156" stop-color="#19e6d1"/><stop offset="0.174" stop-color="#17e2d7"/><stop offset="0.183" stop-color="#1fefc2"/><stop offset="0.201" stop-color="#3df876"/><stop offset="0.210" stop-color="#64fb3c"/><stop offset="0.219" stop-color="#a1ff0a"/><stop offset="0.228" stop-color="#c4ff00"/><stop offset="0.397" stop-color="#bdff00"/><stop offset="0.496" stop-color="#c3ff00"/><stop offset="0.594" stop-color="#c3ff00"/><stop offset="0.719" stop-color="#c4ff00"/><stop offset="0.862" stop-color="#c9ff00"/><stop offset="0.960" stop-color="#ccff00"/><stop offset="0.996" stop-color="#c8ff00"/></linearGradient><linearGradient id="ge47"><stop offset="0.004" stop-color="#6f00bc"/><stop offset="0.022" stop-color="#6f00bb"/><stop offset="0.031" stop-color="#4700dc"/><stop offset="0.040" stop-color="#0855f8"/><stop offset="0.049" stop-color="#22f1ba"/><stop offset="0.058" stop-color="#edf600"/><stop offset="0.067" stop-color="#ff9300"/><stop offset="0.076" stop-color="#ffa300"/><stop offset="0.085" stop-color="#f1f400"/><stop offset="0.094" stop-color="#89ff1a"/><stop offset="0.103" stop-color="#30f890"/><stop offset="0.112" stop-color="#1cebc9"/><stop offset="0.129" stop-color="#10d5e9"/><stop offset="0.165" stop-color="#16e1da"/><stop offset="0.174" stop-color="#14dede"/><stop offset="0.183" stop-color="#1debc8"/><stop offset="0.201" stop-color="#3df876"/><stop offset="0.210" stop-color="#60fa40"/><stop offset="0.219" stop-color="#93ff14"/><stop offset="0.228" stop-color="#b5ff00"/><stop offset="0.487" stop-color="#b9ff00"/><stop offset="0.558" stop-color="#afff00"/><stop offset="0.656" stop-color="#c7ff00"/><stop offset="0.888" stop-color="#b6ff00"/><stop offset="0.996" stop-color="#baff00"/></linearGradient><linearGradient id="ge48"><stop offset="0.004" stop-color="#6c00c2"/><stop offset="0.013" stop-color="#6f00bc"/><stop offset="0.022" stop-color="#1e09e9"/><stop offset="0.031" stop-color="#2d04e4"/><stop offset="0.040" stop-color="#0b90f8"/><stop offset="0.049" stop-color="#3ff872"/><stop offset="0.058" stop-color="#ffe000"/><stop offset="0.067" stop-color="#ff9500"/><stop offset="0.076" stop-color="#ffc100"/><stop offset="0.085" stop-color="#e0fa00"/><stop offset="0.094" stop-color="#6bfc35"/><stop offset="0.103" stop-color="#2cf69c"/><stop offset="0.121" stop-color="#12dbe3"/><stop offset="0.156" stop-color="#18e3d5"/><stop offset="0.174" stop-color="#15dfdc"/><stop offset="0.183" stop-color="#28f4a9"/><stop offset="0.192" stop-color="#42f86b"/><stop offset="0.210" stop-color="#8aff19"/><stop offset="0.219" stop-color="#b4ff00"/><stop offset="0.228" stop-color="#c5ff00"/><stop offset="0.549" stop-color="#baff00"/><stop offset="0.754" stop-color="#c4ff00"/><stop offset="0.924" stop-color="#b8ff00"/><stop offset="0.996" stop-color="#c4ff00"/></linearGradient><linearGradient id="ge49"><stop offset="0.004" stop-color="#4500dd"/><stop offset="0.013" stop-color="#6600cb"/><stop offset="0.022" stop-color="#7000b9"/><stop offset="0.031" stop-color="#1a0beb"/><stop offset="0.040" stop-color="#10b5f8"/><stop offset="0.049" stop-color="#72fd2e"/><stop offset="0.058" stop-color="#ffb600"/><stop offset="0.067" stop-color="#ff9f00"/><stop offset="0.076" stop-color="#fee300"/><stop offset="0.085" stop-color="#baff00"/><stop offset="0.094" stop-color="#42f86c"/><stop offset="0.103" stop-color="#20f0bf"/><stop offset="0.121" stop-color="#10cbee"/><stop offset="0.174" stop-color="#10d5ea"/><stop offset="0.183" stop-color="#25f2b1"/><stop offset="0.192" stop-color="#40f871"/><stop offset="0.210" stop-color="#82ff1e"/><stop offset="0.219" stop-color="#aaff04"/><stop offset="0.237" stop-color="#b4ff00"/><stop offset="0.290" stop-color="#b1ff00"/><stop offset="0.379" stop-color="#c3ff00"/><stop offset="0.558" stop-color="#acff03"/><stop offset="0.656" stop-color="#c7ff00"/><stop offset="0.996" stop-color="#b3ff00"/></linearGradient><linearGradient id="ge50"><stop offset="0.004" stop-color="#4400dd"/><stop offset="0.013" stop-color="#6800ca"/><stop offset="0.022" stop-color="#6900c9"/><stop offset="0.031" stop-color="#0d1bf3"/><stop offset="0.040" stop-color="#10d0ec"/><stop offset="0.049" stop-color="#bbff00"/><stop offset="0.058" stop-color="#ff9f00"/><stop offset="0.067" stop-color="#ff9f00"/><stop offset="0.076" stop-color="#f6f100"/><stop offset="0.085" stop-color="#9aff0f"/><stop offset="0.094" stop-color="#35f886"/><stop offset="0.103" stop-color="#1eedc5"/><stop offset="0.121" stop-color="#10d7e8"/><stop offset="0.156" stop-color="#12dbe3"/><stop offset="0.174" stop-color="#1eedc6"/><stop offset="0.192" stop-color="#4df857"/><stop offset="0.210" stop-color="#9aff0f"/><stop offset="0.219" stop-color="#baff00"/><stop offset="0.317" stop-color="#b7ff00"/><stop offset="0.638" stop-color="#bbff00"/><stop offset="0.737" stop-color="#a7ff06"/><stop offset="0.915" stop-color="#c5ff00"/><stop offset="0.996" stop-color="#acff03"/></linearGradient><linearGradient id="ge51"><stop offset="0.004" stop-color="#6700cb"/><stop offset="0.013" stop-color="#6c00c3"/><stop offset="0.022" stop-color="#4200de"/><stop offset="0.031" stop-color="#085df8"/><stop offset="0.040" stop-color="#25f3b1"/><stop offset="0.049" stop-color="#f0f400"/><stop offset="0.058" stop-color="#ff9600"/><stop offset="0.067" stop-color="#ffac00"/><stop offset="0.076" stop-color="#edf600"/><stop offset="0.085" stop-color="#7bfe25"/><stop offset="0.094" stop-color="#2df799"/><stop offset="0.103" stop-color="#1ce9cb"/><stop offset="0.112" stop-color="#18e5d3"/><stop offset="0.121" stop-color="#10d5e9"/><stop offset="0.138" stop-color="#10c0f4"/><stop offset="0.165" stop-color="#10d0ec"/><stop offset="0.174" stop-color="#14dede"/><stop offset="0.183" stop-color="#26f3af"/><stop offset="0.201" stop-color="#51f84f"/><stop offset="0.210" stop-color="#7eff22"/><stop offset="0.219" stop-color="#acff03"/><stop offset="0.281" stop-color="#9fff0c"/><stop offset="0.379" stop-color="#b5ff00"/><stop offset="0.478" stop-color="#b1ff00"/><stop offset="0.603" stop-color="#b5ff00"/><stop offset="0.790" stop-color="#bbff00"/><stop offset="0.906" stop-color="#afff01"/><stop offset="0.996" stop-color="#a7ff06"/></linearGradient><linearGradient id="ge52"><stop offset="0.004" stop-color="#6f00bb"/><stop offset="0.013" stop-color="#140eee"/><stop offset="0.022" stop-color="#2805e5"/><stop offset="0.031" stop-color="#0d9af8"/><stop offset="0.040" stop-color="#44f867"/><stop offset="0.049" stop-color="#ffdb00"/><stop offset="0.058" stop-color="#ff9600"/><stop offset="0.067" stop-color="#ffc500"/><stop offset="0.076" stop-color="#dcfb00"/><stop offset="0.085" stop-color="#63fb3d"/><stop offset="0.094" stop-color="#29f5a4"/><stop offset="0.103" stop-color="#1be8cd"/><stop offset="0.112" stop-color="#1be8ce"/><stop offset="0.129" stop-color="#10d0ec"/><stop offset="0.165" stop-color="#10caef"/><stop offset="0.174" stop-color="#11dae5"/><stop offset="0.183" stop-color="#21f1bc"/><stop offset="0.201" stop-color="#4ef854"/><stop offset="0.210" stop-color="#7eff22"/><stop offset="0.219" stop-color="#aaff04"/><stop offset="0.558" stop-color="#aeff01"/><stop offset="0.656" stop-color="#80ff20"/><stop offset="0.737" stop-color="#83ff1e"/><stop offset="0.826" stop-color="#b6ff00"/><stop offset="0.996" stop-color="#b8ff00"/></linearGradient><linearGradient id="ge53"><stop offset="0.004" stop-color="#6800ca"/><stop offset="0.013" stop-color="#6f00b3"/><stop offset="0.022" stop-color="#2207e7"/><stop offset="0.031" stop-color="#10abf8"/><stop offset="0.040" stop-color="#60fa40"/><stop offset="0.049" stop-color="#ffbf00"/><stop offset="0.058" stop-color="#ffa900"/><stop offset="0.067" stop-color="#fce700"/><stop offset="0.076" stop-color="#b1ff00"/><stop offset="0.085" stop-color="#39f87e"/><stop offset="0.094" stop-color="#1be8cd"/><stop offset="0.103" stop-color="#11dae5"/><stop offset="0.138" stop-color="#14dede"/><stop offset="0.165" stop-color="#10cfed"/><stop offset="0.174" stop-color="#15e0da"/><stop offset="0.183" stop-color="#27f3ac"/><stop offset="0.201" stop-color="#63fb3d"/><stop offset="0.210" stop-color="#92ff14"/><stop offset="0.219" stop-color="#b2ff00"/><stop offset="0.397" stop-color="#97ff11"/><stop offset="0.576" stop-color="#a5ff07"/><stop offset="0.737" stop-color="#9fff0b"/><stop offset="0.862" stop-color="#aeff01"/><stop offset="0.996" stop-color="#a6ff07"/></linearGradient><linearGradient id="ge54"><stop offset="0.004" stop-color="#3102e2"/><stop offset="0.013" stop-color="#6500cc"/><stop offset="0.022" stop-color="#0b25f5"/><stop offset="0.031" stop-color="#10d8e8"/><stop offset="0.040" stop-color="#c1ff00"/><stop offset="0.049" stop-color="#ff9100"/><stop offset="0.058" stop-color="#ff8f00"/><stop offset="0.067" stop-color="#fce700"/><stop offset="0.076" stop-color="#b9ff00"/><stop offset="0.085" stop-color="#4bf859"/><stop offset="0.094" stop-color="#29f4a5"/><stop offset="0.112" stop-color="#1ce9cb"/><stop offset="0.129" stop-color="#20f0bf"/><stop offset="0.147" stop-color="#1decc7"/><stop offset="0.165" stop-color="#10ceed"/><stop offset="0.174" stop-color="#15dfdc"/><stop offset="0.183" stop-color="#26f3ad"/><stop offset="0.201" stop-color="#69fc37"/><stop offset="0.210" stop-color="#9aff0f"/><stop offset="0.219" stop-color="#b4ff00"/><stop offset="0.415" stop-color="#b3ff00"/><stop offset="0.558" stop-color="#b3ff00"/><stop offset="0.647" stop-color="#88ff1a"/><stop offset="0.835" stop-color="#a6ff07"/><stop offset="0.942" stop-color="#8fff16"/><stop offset="0.996" stop-color="#92ff14"/></linearGradient><linearGradient id="ge55"><stop offset="0.004" stop-color="#3401e1"/><stop offset="0.013" stop-color="#3d00df"/><stop offset="0.022" stop-color="#0865f8"/><stop offset="0.031" stop-color="#24f2b4"/><stop offset="0.040" stop-color="#eef500"/><stop offset="0.049" stop-color="#ff8f00"/><stop offset="0.058" stop-color="#ff9e00"/><stop offset="0.067" stop-color="#f2f300"/><stop offset="0.076" stop-color="#8dff17"/><stop offset="0.085" stop-color="#32f88b"/><stop offset="0.094" stop-color="#1eedc5"/><stop offset="0.112" stop-color="#12dbe3"/><stop offset="0.147" stop-color="#1ceaca"/><stop offset="0.165" stop-color="#14dede"/><stop offset="0.174" stop-color="#1fefc2"/><stop offset="0.192" stop-color="#47f861"/><stop offset="0.210" stop-color="#94ff13"/><stop offset="0.219" stop-color="#a5ff08"/><stop offset="0.299" stop-color="#8dff17"/><stop offset="0.558" stop-color="#9fff0c"/><stop offset="0.683" stop-color="#8fff16"/><stop offset="0.915" stop-color="#b1ff00"/><stop offset="0.996" stop-color="#83ff1e"/></linearGradient><linearGradient id="ge56"><stop offset="0.004" stop-color="#5a00d6"/><stop offset="0.013" stop-color="#4400dd"/><stop offset="0.022" stop-color="#085af8"/><stop offset="0.031" stop-color="#2af5a2"/><stop offset="0.040" stop-color="#f8ef00"/><stop offset="0.049" stop-color="#ffa600"/><stop offset="0.058" stop-color="#ffc900"/><stop offset="0.067" stop-color="#d5fd00"/><stop offset="0.076" stop-color="#51f84f"/><stop offset="0.085" stop-color="#22f1ba"/><stop offset="0.094" stop-color="#13dce1"/><stop offset="0.112" stop-color="#10c6f1"/><stop offset="0.138" stop-color="#10ceed"/><stop offset="0.165" stop-color="#1ae7cf"/><stop offset="0.192" stop-color="#4af85c"/><stop offset="0.210" stop-color="#96ff12"/><stop offset="0.237" stop-color="#9bff0e"/><stop offset="0.371" stop-color="#7dff23"/><stop offset="0.460" stop-color="#aaff04"/><stop offset="0.558" stop-color="#80ff20"/><stop offset="0.656" stop-color="#87ff1c"/><stop offset="0.737" stop-color="#b4ff00"/><stop offset="0.897" stop-color="#afff01"/><stop offset="0.996" stop-color="#98ff10"/></linearGradient><linearGradient id="ge57"><stop offset="0.004" stop-color="#0871f8"/><stop offset="0.013" stop-color="#2805e5"/><stop offset="0.022" stop-color="#0fa3f8"/><stop offset="0.031" stop-color="#52f84e"/><stop offset="0.040" stop-color="#ffc900"/><stop offset="0.049" stop-color="#ff9800"/><stop offset="0.058" stop-color="#ffd100"/><stop offset="0.067" stop-color="#d3fd00"/><stop offset="0.076" stop-color="#5efa42"/><stop offset="0.085" stop-color="#2bf69f"/><stop offset="0.094" stop-color="#1fefc1"/><stop offset="0.103" stop-color="#11d9e6"/><stop offset="0.129" stop-color="#10c2f3"/><stop offset="0.147" stop-color="#10d8e8"/><stop offset="0.165" stop-color="#21f0be"/><stop offset="0.192" stop-color="#5bfa45"/><stop offset="0.210" stop-color="#a4ff08"/><stop offset="0.353" stop-color="#81ff1f"/><stop offset="0.513" stop-color="#b3ff00"/><stop offset="0.585" stop-color="#a6ff07"/><stop offset="0.656" stop-color="#8dff17"/><stop offset="0.808" stop-color="#bdff00"/><stop offset="0.888" stop-color="#abff04"/><stop offset="0.996" stop-color="#7bfe25"/></linearGradient><linearGradient id="ge58"><stop offset="0.004" stop-color="#6b00c5"/><stop offset="0.013" stop-color="#150eee"/><stop offset="0.022" stop-color="#10bff4"/><stop offset="0.031" stop-color="#8bff18"/><stop offset="0.040" stop-color="#ffa200"/><stop offset="0.049" stop-color="#ff9b00"/><stop offset="0.058" stop-color="#fde500"/><stop offset="0.067" stop-color="#b9ff00"/><stop offset="0.076" stop-color="#44f869"/><stop offset="0.085" stop-color="#22f1ba"/><stop offset="0.103" stop-color="#10d6e9"/><stop offset="0.138" stop-color="#10c3f3"/><stop offset="0.156" stop-color="#10d3ea"/><stop offset="0.174" stop-color="#29f5a4"/><stop offset="0.192" stop-color="#5af946"/><stop offset="0.201" stop-color="#81ff20"/><stop offset="0.210" stop-color="#9fff0b"/><stop offset="0.281" stop-color="#a0ff0a"/><stop offset="0.371" stop-color="#7dff23"/><stop offset="0.540" stop-color="#98ff10"/><stop offset="0.710" stop-color="#93ff13"/><stop offset="0.853" stop-color="#98ff10"/><stop offset="0.933" stop-color="#86ff1c"/><stop offset="0.996" stop-color="#95ff12"/></linearGradient><linearGradient id="ge59"><stop offset="0.004" stop-color="#6500cd"/><stop offset="0.013" stop-color="#0b24f5"/><stop offset="0.022" stop-color="#10d6e9"/><stop offset="0.031" stop-color="#c4ff00"/><stop offset="0.040" stop-color="#ff9b00"/><stop offset="0.049" stop-color="#ff9b00"/><stop offset="0.058" stop-color="#f7f000"/><stop offset="0.067" stop-color="#9dff0d"/><stop offset="0.076" stop-color="#37f881"/><stop offset="0.085" stop-color="#1feec3"/><stop offset="0.103" stop-color="#10d4ea"/><stop offset="0.156" stop-color="#10ccee"/><stop offset="0.165" stop-color="#17e2d8"/><stop offset="0.174" stop-color="#28f4a9"/><stop offset="0.192" stop-color="#6afc36"/><stop offset="0.201" stop-color="#90ff15"/><stop offset="0.210" stop-color="#a0ff0a"/><stop offset="0.371" stop-color="#76fd2a"/><stop offset="0.469" stop-color="#afff01"/><stop offset="0.701" stop-color="#87ff1b"/><stop offset="0.826" stop-color="#80ff20"/><stop offset="0.915" stop-color="#a0ff0a"/><stop offset="0.996" stop-color="#81ff1f"/></linearGradient><linearGradient id="ge60"><stop offset="0.004" stop-color="#5400d9"/><stop offset="0.013" stop-color="#0846f8"/><stop offset="0.022" stop-color="#1eeec4"/><stop offset="0.031" stop-color="#ebf700"/><stop offset="0.040" stop-color="#ff9900"/><stop offset="0.049" stop-color="#ffaa00"/><stop offset="0.058" stop-color="#eef500"/><stop offset="0.067" stop-color="#82ff1e"/><stop offset="0.076" stop-color="#2ff892"/><stop offset="0.085" stop-color="#1decc6"/><stop offset="0.103" stop-color="#12dbe3"/><stop offset="0.121" stop-color="#17e3d5"/><stop offset="0.156" stop-color="#10d8e8"/><stop offset="0.165" stop-color="#1be9cc"/><stop offset="0.174" stop-color="#2df799"/><stop offset="0.183" stop-color="#51f84f"/><stop offset="0.192" stop-color="#84ff1d"/><stop offset="0.201" stop-color="#abff03"/><stop offset="0.228" stop-color="#a7ff06"/><stop offset="0.353" stop-color="#6efc32"/><stop offset="0.397" stop-color="#81ff1f"/><stop offset="0.460" stop-color="#b1ff00"/><stop offset="0.647" stop-color="#94ff13"/><stop offset="0.728" stop-color="#79fe27"/><stop offset="0.808" stop-color="#b5ff00"/><stop offset="0.888" stop-color="#b2ff00"/><stop offset="0.996" stop-color="#88ff1b"/></linearGradient><linearGradient id="ge61"><stop offset="0.004" stop-color="#3900e0"/><stop offset="0.013" stop-color="#0870f8"/><stop offset="0.022" stop-color="#2ff794"/><stop offset="0.031" stop-color="#faeb00"/><stop offset="0.040" stop-color="#ff9d00"/><stop offset="0.049" stop-color="#ffc200"/><stop offset="0.058" stop-color="#ddfb00"/><stop offset="0.067" stop-color="#61fa3f"/><stop offset="0.076" stop-color="#27f4aa"/><stop offset="0.085" stop-color="#18e4d4"/><stop offset="0.129" stop-color="#14dede"/><stop offset="0.147" stop-color="#10d3ea"/><stop offset="0.156" stop-color="#12dbe3"/><stop offset="0.174" stop-color="#2ff794"/><stop offset="0.183" stop-color="#4df857"/><stop offset="0.192" stop-color="#7cfe24"/><stop offset="0.201" stop-color="#a9ff04"/><stop offset="0.379" stop-color="#96ff11"/><stop offset="0.496" stop-color="#b7ff00"/><stop offset="0.737" stop-color="#a1ff0a"/><stop offset="0.906" stop-color="#a2ff09"/><stop offset="0.996" stop-color="#96ff11"/></linearGradient><linearGradient id="ge62"><stop offset="0.004" stop-color="#2307e7"/><stop offset="0.013" stop-color="#10a9f8"/><stop offset="0.022" stop-color="#55f94b"/><stop offset="0.031" stop-color="#ffca00"/><stop offset="0.040" stop-color="#ff9400"/><stop offset="0.049" stop-color="#ffcc00"/><stop offset="0.058" stop-color="#d7fc00"/><stop offset="0.067" stop-color="#62fb3e"/><stop offset="0.076" stop-color="#2cf69d"/><stop offset="0.085" stop-color="#20f0c0"/><stop offset="0.103" stop-color="#1fefc2"/><stop offset="0.112" stop-color="#20f0bf"/><stop offset="0.129" stop-color="#18e3d5"/><stop offset="0.147" stop-color="#1eedc4"/><stop offset="0.174" stop-color="#4cf858"/><stop offset="0.192" stop-color="#97ff11"/><stop offset="0.201" stop-color="#b6ff00"/><stop offset="0.308" stop-color="#a1ff0a"/><stop offset="0.433" stop-color="#92ff14"/><stop offset="0.585" stop-color="#a6ff07"/><stop offset="0.763" stop-color="#9fff0b"/><stop offset="0.879" stop-color="#99ff0f"/><stop offset="0.951" stop-color="#8fff16"/><stop offset="0.996" stop-color="#95ff12"/></linearGradient><linearGradient id="ge63"><stop offset="0.004" stop-color="#110fef"/><stop offset="0.013" stop-color="#10c0f4"/><stop offset="0.022" stop-color="#84ff1d"/><stop offset="0.031" stop-color="#ffac00"/><stop offset="0.040" stop-color="#ffa000"/><stop offset="0.049" stop-color="#fce700"/><stop offset="0.058" stop-color="#b1ff00"/><stop offset="0.067" stop-color="#37f882"/><stop offset="0.076" stop-color="#19e5d2"/><stop offset="0.085" stop-color="#10d3eb"/><stop offset="0.094" stop-color="#10c2f3"/><stop offset="0.121" stop-color="#10cfec"/><stop offset="0.138" stop-color="#14dede"/><stop offset="0.147" stop-color="#20f0bf"/><stop offset="0.156" stop-color="#35f887"/><stop offset="0.174" stop-color="#53f84d"/><stop offset="0.192" stop-color="#96ff12"/><stop offset="0.201" stop-color="#adff02"/><stop offset="0.290" stop-color="#b2ff00"/><stop offset="0.397" stop-color="#98ff10"/><stop offset="0.558" stop-color="#adff02"/><stop offset="0.665" stop-color="#9bff0e"/><stop offset="0.826" stop-color="#b8ff00"/><stop offset="0.978" stop-color="#97ff11"/><stop offset="0.996" stop-color="#94ff13"/></linearGradient><linearGradient id="ge64"><stop offset="0.004" stop-color="#0d1df3"/><stop offset="0.013" stop-color="#10d0ec"/><stop offset="0.022" stop-color="#b5ff00"/><stop offset="0.031" stop-color="#ff9d00"/><stop offset="0.040" stop-color="#ff9e00"/><stop offset="0.049" stop-color="#f8f000"/><stop offset="0.058" stop-color="#9dff0c"/><stop offset="0.067" stop-color="#34f887"/><stop offset="0.076" stop-color="#1be9cb"/><stop offset="0.094" stop-color="#10c7f0"/><stop offset="0.112" stop-color="#10d6e9"/><stop offset="0.129" stop-color="#1feec4"/><stop offset="0.138" stop-color="#2bf5a0"/><stop offset="0.156" stop-color="#6dfc33"/><stop offset="0.174" stop-color="#8fff16"/><stop offset="0.192" stop-color="#baff00"/><stop offset="0.299" stop-color="#b4ff00"/><stop offset="0.379" stop-color="#c2ff00"/><stop offset="0.469" stop-color="#b4ff00"/><stop offset="0.576" stop-color="#c1ff00"/><stop offset="0.737" stop-color="#aaff04"/><stop offset="0.826" stop-color="#c1ff00"/><stop offset="0.888" stop-color="#a4ff08"/><stop offset="0.924" stop-color="#93ff13"/><stop offset="0.996" stop-color="#a4ff08"/></linearGradient><linearGradient id="ge65"><stop offset="0.004" stop-color="#083af8"/><stop offset="0.013" stop-color="#17e2d7"/><stop offset="0.022" stop-color="#dcfb00"/><stop offset="0.031" stop-color="#ff9d00"/><stop offset="0.040" stop-color="#ffa600"/><stop offset="0.049" stop-color="#eff500"/><stop offset="0.058" stop-color="#80ff20"/><stop offset="0.067" stop-color="#2cf69b"/><stop offset="0.076" stop-color="#18e4d3"/><stop offset="0.085" stop-color="#11dae5"/><stop offset="0.094" stop-color="#10b0f8"/><stop offset="0.112" stop-color="#10c9ef"/><stop offset="0.121" stop-color="#11dae5"/><stop offset="0.129" stop-color="#1decc7"/><stop offset="0.138" stop-color="#2ef795"/><stop offset="0.147" stop-color="#65fb3b"/><stop offset="0.156" stop-color="#95ff12"/><stop offset="0.192" stop-color="#c0ff00"/><stop offset="0.299" stop-color="#b9ff00"/><stop offset="0.379" stop-color="#c6ff00"/><stop offset="0.469" stop-color="#b8ff00"/><stop offset="0.585" stop-color="#c3ff00"/><stop offset="0.746" stop-color="#b3ff00"/><stop offset="0.835" stop-color="#c1ff00"/><stop offset="0.897" stop-color="#a2ff09"/><stop offset="0.924" stop-color="#99ff0f"/><stop offset="0.996" stop-color="#acff03"/></linearGradient><linearGradient id="ge66"><stop offset="0.004" stop-color="#087df8"/><stop offset="0.013" stop-color="#2df69a"/><stop offset="0.022" stop-color="#f7f000"/><stop offset="0.031" stop-color="#ff9600"/><stop offset="0.040" stop-color="#ffb400"/><stop offset="0.049" stop-color="#e8f800"/><stop offset="0.058" stop-color="#6cfc34"/><stop offset="0.067" stop-color="#29f4a6"/><stop offset="0.076" stop-color="#17e2d7"/><stop offset="0.094" stop-color="#10b7f8"/><stop offset="0.112" stop-color="#10c8f0"/><stop offset="0.121" stop-color="#10d7e8"/><stop offset="0.129" stop-color="#1decc6"/><stop offset="0.138" stop-color="#3cf877"/><stop offset="0.147" stop-color="#8dff17"/><stop offset="0.156" stop-color="#bdff00"/><stop offset="0.183" stop-color="#cffe00"/><stop offset="0.263" stop-color="#bfff00"/><stop offset="0.379" stop-color="#a9ff05"/><stop offset="0.576" stop-color="#caff00"/><stop offset="0.817" stop-color="#beff00"/><stop offset="0.942" stop-color="#bcff00"/><stop offset="0.996" stop-color="#b1ff00"/></linearGradient><linearGradient id="ge67"><stop offset="0.004" stop-color="#087df8"/><stop offset="0.013" stop-color="#37f882"/><stop offset="0.022" stop-color="#fde300"/><stop offset="0.031" stop-color="#ff9e00"/><stop offset="0.040" stop-color="#ffc900"/><stop offset="0.049" stop-color="#d8fc00"/><stop offset="0.058" stop-color="#5efa42"/><stop offset="0.067" stop-color="#29f4a6"/><stop offset="0.076" stop-color="#1be9cc"/><stop offset="0.112" stop-color="#11dae5"/><stop offset="0.121" stop-color="#14dedf"/><stop offset="0.129" stop-color="#20f0c0"/><stop offset="0.138" stop-color="#50f850"/><stop offset="0.147" stop-color="#b3ff00"/><stop offset="0.156" stop-color="#d6fc00"/><stop offset="0.183" stop-color="#d3fd00"/><stop offset="0.210" stop-color="#c4ff00"/><stop offset="0.290" stop-color="#c7ff00"/><stop offset="0.469" stop-color="#abff03"/><stop offset="0.656" stop-color="#c0ff00"/><stop offset="0.835" stop-color="#a5ff08"/><stop offset="0.978" stop-color="#b3ff00"/><stop offset="0.996" stop-color="#b4ff00"/></linearGradient><linearGradient id="ge68"><stop offset="0.004" stop-color="#10aff8"/><stop offset="0.013" stop-color="#64fb3c"/><stop offset="0.022" stop-color="#ffbf00"/><stop offset="0.031" stop-color="#ff9400"/><stop offset="0.040" stop-color="#ffd100"/><stop offset="0.049" stop-color="#d3fd00"/><stop offset="0.058" stop-color="#60fa40"/><stop offset="0.067" stop-color="#2cf69c"/><stop offset="0.076" stop-color="#21f1bc"/><stop offset="0.121" stop-color="#1ceac9"/><stop offset="0.129" stop-color="#2af5a3"/><stop offset="0.138" stop-color="#84ff1d"/><stop offset="0.147" stop-color="#dafb00"/><stop offset="0.156" stop-color="#f1f300"/><stop offset="0.183" stop-color="#e8f800"/><stop offset="0.210" stop-color="#cbff00"/><stop offset="0.317" stop-color="#b0ff00"/><stop offset="0.379" stop-color="#b3ff00"/><stop offset="0.460" stop-color="#d4fd00"/><stop offset="0.567" stop-color="#b3ff00"/><stop offset="0.951" stop-color="#c0ff00"/><stop offset="0.996" stop-color="#bbff00"/></linearGradient><linearGradient id="ge69"><stop offset="0.004" stop-color="#10b3f8"/><stop offset="0.013" stop-color="#7bfe25"/><stop offset="0.022" stop-color="#ffa900"/><stop offset="0.031" stop-color="#ff9e00"/><stop offset="0.040" stop-color="#fde500"/><stop offset="0.049" stop-color="#bcff00"/><stop offset="0.058" stop-color="#4af85c"/><stop offset="0.067" stop-color="#27f4aa"/><stop offset="0.076" stop-color="#20efc1"/><stop offset="0.094" stop-color="#25f2b2"/><stop offset="0.121" stop-color="#23f2b7"/><stop offset="0.129" stop-color="#3bf879"/><stop offset="0.138" stop-color="#a2ff09"/><stop offset="0.147" stop-color="#e6f800"/><stop offset="0.156" stop-color="#f6f100"/><stop offset="0.174" stop-color="#f0f400"/><stop offset="0.201" stop-color="#c7ff00"/><stop offset="0.290" stop-color="#b4ff00"/><stop offset="0.469" stop-color="#c5ff00"/><stop offset="0.540" stop-color="#a4ff08"/><stop offset="0.844" stop-color="#c2ff00"/><stop offset="0.996" stop-color="#b7ff00"/></linearGradient><linearGradient id="ge70"><stop offset="0.004" stop-color="#10d2eb"/><stop offset="0.013" stop-color="#baff00"/><stop offset="0.022" stop-color="#ff9c00"/><stop offset="0.031" stop-color="#ff9c00"/><stop offset="0.040" stop-color="#f8f000"/><stop offset="0.049" stop-color="#9fff0b"/><stop offset="0.058" stop-color="#37f882"/><stop offset="0.067" stop-color="#1eecc6"/><stop offset="0.085" stop-color="#12dbe3"/><stop offset="0.103" stop-color="#14dfdd"/><stop offset="0.121" stop-color="#22f1bb"/><stop offset="0.129" stop-color="#40f870"/><stop offset="0.138" stop-color="#a5ff07"/><stop offset="0.147" stop-color="#e5f900"/><stop offset="0.156" stop-color="#f5f100"/><stop offset="0.174" stop-color="#eff400"/><stop offset="0.201" stop-color="#bfff00"/><stop offset="0.317" stop-color="#b8ff00"/><stop offset="0.522" stop-color="#c6ff00"/><stop offset="0.719" stop-color="#b0ff00"/><stop offset="0.862" stop-color="#bcff00"/><stop offset="0.996" stop-color="#b5ff00"/></linearGradient><linearGradient id="ge71"><stop offset="0.004" stop-color="#18e4d4"/><stop offset="0.013" stop-color="#defb00"/><stop offset="0.022" stop-color="#ff9d00"/><stop offset="0.031" stop-color="#ffa700"/><stop offset="0.040" stop-color="#eef500"/><stop offset="0.049" stop-color="#7dfe23"/><stop offset="0.058" stop-color="#2bf5a0"/><stop offset="0.067" stop-color="#16e2d8"/><stop offset="0.076" stop-color="#10d9e7"/><stop offset="0.085" stop-color="#10c0f4"/><stop offset="0.094" stop-color="#10bef5"/><stop offset="0.103" stop-color="#10cbee"/><stop offset="0.121" stop-color="#25f2b2"/><stop offset="0.129" stop-color="#50f850"/><stop offset="0.138" stop-color="#c1ff00"/><stop offset="0.147" stop-color="#f3f200"/><stop offset="0.156" stop-color="#fee200"/><stop offset="0.174" stop-color="#fbe800"/><stop offset="0.210" stop-color="#d1fe00"/><stop offset="0.379" stop-color="#b6ff00"/><stop offset="0.478" stop-color="#caff00"/><stop offset="0.656" stop-color="#acff03"/><stop offset="0.897" stop-color="#cbff00"/><stop offset="0.996" stop-color="#b7ff00"/></linearGradient><linearGradient id="ge72"><stop offset="0.004" stop-color="#2cf69d"/><stop offset="0.013" stop-color="#f7f100"/><stop offset="0.022" stop-color="#ff9200"/><stop offset="0.031" stop-color="#ffaf00"/><stop offset="0.040" stop-color="#ecf600"/><stop offset="0.049" stop-color="#7bfe25"/><stop offset="0.058" stop-color="#2ef795"/><stop offset="0.067" stop-color="#1decc6"/><stop offset="0.085" stop-color="#10d3eb"/><stop offset="0.103" stop-color="#13dde0"/><stop offset="0.112" stop-color="#1ceaca"/><stop offset="0.121" stop-color="#29f5a4"/><stop offset="0.129" stop-color="#69fc37"/><stop offset="0.138" stop-color="#d5fd00"/><stop offset="0.147" stop-color="#fbea00"/><stop offset="0.156" stop-color="#ffd100"/><stop offset="0.165" stop-color="#ffd100"/><stop offset="0.183" stop-color="#f0f400"/><stop offset="0.201" stop-color="#cffe00"/><stop offset="0.522" stop-color="#c6ff00"/><stop offset="0.683" stop-color="#b8ff00"/><stop offset="0.906" stop-color="#c6ff00"/><stop offset="0.996" stop-color="#cdff00"/></linearGradient><linearGradient id="ge73"><stop offset="0.004" stop-color="#4bf85a"/><stop offset="0.013" stop-color="#ffda00"/><stop offset="0.022" stop-color="#ff8f00"/><stop offset="0.031" stop-color="#ffbe00"/><stop offset="0.040" stop-color="#e0fa00"/><stop offset="0.049" stop-color="#64fb3c"/><stop offset="0.058" stop-color="#28f4a9"/><stop offset="0.067" stop-color="#18e4d5"/><stop offset="0.076" stop-color="#10cdee"/><stop offset="0.094" stop-color="#10c6f1"/><stop offset="0.112" stop-color="#11dae5"/><stop offset="0.121" stop-color="#1cebc9"/><stop offset="0.129" stop-color="#55f94b"/><stop offset="0.138" stop-color="#dafc00"/><stop offset="0.147" stop-color="#ffdf00"/><stop offset="0.156" stop-color="#ffbb00"/><stop offset="0.165" stop-color="#ffba00"/><stop offset="0.183" stop-color="#f6f100"/><stop offset="0.201" stop-color="#ccff00"/><stop offset="0.272" stop-color="#bdff00"/><stop offset="0.487" stop-color="#baff00"/><stop offset="0.683" stop-color="#c0ff00"/><stop offset="0.996" stop-color="#c3ff00"/></linearGradient><linearGradient id="ge74"><stop offset="0.004" stop-color="#72fd2e"/><stop offset="0.013" stop-color="#ffbc00"/><stop offset="0.022" stop-color="#ff8c00"/><stop offset="0.031" stop-color="#ffca00"/><stop offset="0.040" stop-color="#d7fc00"/><stop offset="0.049" stop-color="#60fa40"/><stop offset="0.058" stop-color="#2af5a2"/><stop offset="0.076" stop-color="#11d9e7"/><stop offset="0.103" stop-color="#10d3eb"/><stop offset="0.112" stop-color="#12dbe3"/><stop offset="0.121" stop-color="#1ceacb"/><stop offset="0.129" stop-color="#61fa3f"/><stop offset="0.138" stop-color="#e9f700"/><stop offset="0.147" stop-color="#ffc800"/><stop offset="0.156" stop-color="#ff9f00"/><stop offset="0.165" stop-color="#ffa100"/><stop offset="0.183" stop-color="#f8f000"/><stop offset="0.201" stop-color="#c8ff00"/><stop offset="0.246" stop-color="#c5ff00"/><stop offset="0.692" stop-color="#bdff00"/><stop offset="0.853" stop-color="#c8ff00"/><stop offset="0.969" stop-color="#c2ff00"/><stop offset="0.996" stop-color="#c5ff00"/></linearGradient><linearGradient id="ge75"><stop offset="0.004" stop-color="#7afe26"/><stop offset="0.013" stop-color="#ffaf00"/><stop offset="0.022" stop-color="#ff9c00"/><stop offset="0.031" stop-color="#fee200"/><stop offset="0.040" stop-color="#bdff00"/><stop offset="0.049" stop-color="#47f863"/><stop offset="0.058" stop-color="#23f2b7"/><stop offset="0.076" stop-color="#14dedf"/><stop offset="0.103" stop-color="#10d3eb"/><stop offset="0.112" stop-color="#11d9e6"/><stop offset="0.121" stop-color="#1fefc1"/><stop offset="0.129" stop-color="#80ff20"/><stop offset="0.138" stop-color="#f4f200"/><stop offset="0.156" stop-color="#ff7a00"/><stop offset="0.165" stop-color="#ff7c00"/><stop offset="0.183" stop-color="#fce700"/><stop offset="0.201" stop-color="#ccff00"/><stop offset="0.228" stop-color="#beff00"/><stop offset="0.746" stop-color="#c7ff00"/><stop offset="0.853" stop-color="#d0fe00"/><stop offset="0.996" stop-color="#b4ff00"/></linearGradient><linearGradient id="ge76"><stop offset="0.004" stop-color="#94ff12"/><stop offset="0.013" stop-color="#ffa400"/><stop offset="0.022" stop-color="#ffa200"/><stop offset="0.031" stop-color="#f9ed00"/><stop offset="0.040" stop-color="#a9ff04"/><stop offset="0.049" stop-color="#3cf878"/><stop offset="0.058" stop-color="#20f0c0"/><stop offset="0.067" stop-color="#19e5d2"/><stop offset="0.076" stop-color="#1ae6d0"/><stop offset="0.085" stop-color="#10d9e7"/><stop offset="0.103" stop-color="#10cbee"/><stop offset="0.112" stop-color="#11d9e6"/><stop offset="0.121" stop-color="#22f1ba"/><stop offset="0.129" stop-color="#8cff18"/><stop offset="0.138" stop-color="#f9ee00"/><stop offset="0.147" stop-color="#ff9d00"/><stop offset="0.156" stop-color="#ff6c00"/><stop offset="0.165" stop-color="#ff6e00"/><stop offset="0.183" stop-color="#fde400"/><stop offset="0.201" stop-color="#c9ff00"/><stop offset="0.228" stop-color="#bcff00"/><stop offset="0.612" stop-color="#cdff00"/><stop offset="0.933" stop-color="#b5ff00"/><stop offset="0.996" stop-color="#c0ff00"/></linearGradient><linearGradient id="ge77"><stop offset="0.004" stop-color="#c9ff00"/><stop offset="0.013" stop-color="#ff9a00"/><stop offset="0.022" stop-color="#ff9b00"/><stop offset="0.031" stop-color="#f6f100"/><stop offset="0.040" stop-color="#96ff11"/><stop offset="0.049" stop-color="#32f88c"/><stop offset="0.058" stop-color="#1be9cc"/><stop offset="0.067" stop-color="#15dfdc"/><stop offset="0.076" stop-color="#17e2d7"/><stop offset="0.094" stop-color="#10c9f0"/><stop offset="0.103" stop-color="#10caef"/><stop offset="0.112" stop-color="#12dbe4"/><stop offset="0.121" stop-color="#25f2b1"/><stop offset="0.129" stop-color="#97ff11"/><stop offset="0.138" stop-color="#fbe800"/><stop offset="0.147" stop-color="#ff8b00"/><stop offset="0.156" stop-color="#ff6000"/><stop offset="0.165" stop-color="#ff5e00"/><stop offset="0.174" stop-color="#ff8700"/><stop offset="0.183" stop-color="#ffd100"/><stop offset="0.192" stop-color="#f0f400"/><stop offset="0.210" stop-color="#cbff00"/><stop offset="0.308" stop-color="#b8ff00"/><stop offset="0.487" stop-color="#c0ff00"/><stop offset="0.576" stop-color="#cbff00"/><stop offset="0.835" stop-color="#bcff00"/><stop offset="0.942" stop-color="#c5ff00"/><stop offset="0.996" stop-color="#bcff00"/></linearGradient><linearGradient id="ge78"><stop offset="0.004" stop-color="#e9f700"/><stop offset="0.013" stop-color="#ff9200"/><stop offset="0.022" stop-color="#ff9c00"/><stop offset="0.031" stop-color="#f4f200"/><stop offset="0.040" stop-color="#94ff13"/><stop offset="0.049" stop-color="#36f883"/><stop offset="0.058" stop-color="#20f0bf"/><stop offset="0.067" stop-color="#1ceac9"/><stop offset="0.112" stop-color="#1feec3"/><stop offset="0.121" stop-color="#2ef797"/><stop offset="0.129" stop-color="#a3ff08"/><stop offset="0.138" stop-color="#fce800"/><stop offset="0.147" stop-color="#ff9000"/><stop offset="0.156" stop-color="#ff6700"/><stop offset="0.165" stop-color="#ff6800"/><stop offset="0.174" stop-color="#ff9500"/><stop offset="0.183" stop-color="#ffde00"/><stop offset="0.192" stop-color="#ebf700"/><stop offset="0.201" stop-color="#d0fe00"/><stop offset="0.228" stop-color="#c3ff00"/><stop offset="0.388" stop-color="#cffe00"/><stop offset="0.504" stop-color="#c5ff00"/><stop offset="0.790" stop-color="#c6ff00"/><stop offset="0.996" stop-color="#c8ff00"/></linearGradient><linearGradient id="ge79"><stop offset="0.004" stop-color="#f1f300"/><stop offset="0.013" stop-color="#ff9c00"/><stop offset="0.022" stop-color="#ffb600"/><stop offset="0.031" stop-color="#e8f800"/><stop offset="0.040" stop-color="#6efc32"/><stop offset="0.049" stop-color="#2af5a2"/><stop offset="0.058" stop-color="#19e6d1"/><stop offset="0.067" stop-color="#10d9e7"/><stop offset="0.112" stop-color="#1fefc2"/><stop offset="0.121" stop-color="#2cf69c"/><stop offset="0.129" stop-color="#97ff11"/><stop offset="0.138" stop-color="#faec00"/><stop offset="0.147" stop-color="#ff9900"/><stop offset="0.156" stop-color="#ff5d00"/><stop offset="0.165" stop-color="#ff5c00"/><stop offset="0.183" stop-color="#ffd700"/><stop offset="0.192" stop-color="#eff400"/><stop offset="0.210" stop-color="#ceff00"/><stop offset="0.290" stop-color="#bfff00"/><stop offset="0.388" stop-color="#caff00"/><stop offset="0.496" stop-color="#c0ff00"/><stop offset="0.665" stop-color="#c6ff00"/><stop offset="0.763" stop-color="#d2fe00"/><stop offset="0.879" stop-color="#d7fc00"/><stop offset="0.969" stop-color="#d4fd00"/><stop offset="0.996" stop-color="#cffe00"/></linearGradient><linearGradient id="ge80"><stop offset="0.004" stop-color="#faec00"/><stop offset="0.013" stop-color="#ffa500"/><stop offset="0.022" stop-color="#ffcb00"/><stop offset="0.031" stop-color="#d4fd00"/><stop offset="0.040" stop-color="#50f850"/><stop offset="0.049" stop-color="#22f1b9"/><stop offset="0.058" stop-color="#13dde0"/><stop offset="0.067" stop-color="#10c3f2"/><stop offset="0.103" stop-color="#14dddf"/><stop offset="0.112" stop-color="#1ae7d0"/><stop offset="0.121" stop-color="#2af5a3"/><stop offset="0.129" stop-color="#88ff1b"/><stop offset="0.138" stop-color="#f2f300"/><stop offset="0.156" stop-color="#ff8400"/><stop offset="0.165" stop-color="#ff8300"/><stop offset="0.183" stop-color="#fde400"/><stop offset="0.201" stop-color="#d4fd00"/><stop offset="0.246" stop-color="#c2ff00"/><stop offset="0.317" stop-color="#c8ff00"/><stop offset="0.424" stop-color="#d1fe00"/><stop offset="0.558" stop-color="#b7ff00"/><stop offset="0.656" stop-color="#c9ff00"/><stop offset="0.763" stop-color="#c2ff00"/><stop offset="0.933" stop-color="#c4ff00"/><stop offset="0.996" stop-color="#b6ff00"/></linearGradient><linearGradient id="ge81"><stop offset="0.004" stop-color="#ffcb00"/><stop offset="0.013" stop-color="#ff9500"/><stop offset="0.022" stop-color="#ffcc00"/><stop offset="0.031" stop-color="#d5fd00"/><stop offset="0.040" stop-color="#5dfa43"/><stop offset="0.049" stop-color="#29f5a4"/><stop offset="0.067" stop-color="#10d5e9"/><stop offset="0.103" stop-color="#14dede"/><stop offset="0.112" stop-color="#1ceaca"/><stop offset="0.121" stop-color="#32f88d"/><stop offset="0.129" stop-color="#95ff12"/><stop offset="0.138" stop-color="#eef500"/><stop offset="0.147" stop-color="#ffcd00"/><stop offset="0.156" stop-color="#ffab00"/><stop offset="0.165" stop-color="#ffae00"/><stop offset="0.183" stop-color="#f6f100"/><stop offset="0.201" stop-color="#cefe00"/><stop offset="0.531" stop-color="#c7ff00"/><stop offset="0.790" stop-color="#cffe00"/><stop offset="0.996" stop-color="#cdff00"/></linearGradient><linearGradient id="ge82"><stop offset="0.004" stop-color="#ffb200"/><stop offset="0.013" stop-color="#ffa000"/><stop offset="0.022" stop-color="#fde400"/><stop offset="0.031" stop-color="#bdff00"/><stop offset="0.040" stop-color="#48f860"/><stop offset="0.049" stop-color="#25f2b1"/><stop offset="0.067" stop-color="#11d9e6"/><stop offset="0.094" stop-color="#10c8f0"/><stop offset="0.103" stop-color="#10d1eb"/><stop offset="0.112" stop-color="#1ae7cf"/><stop offset="0.121" stop-color="#37f882"/><stop offset="0.129" stop-color="#a1ff0a"/><stop offset="0.138" stop-color="#eef500"/><stop offset="0.147" stop-color="#ffd400"/><stop offset="0.156" stop-color="#ffb800"/><stop offset="0.165" stop-color="#ffb700"/><stop offset="0.183" stop-color="#fbe800"/><stop offset="0.219" stop-color="#e5f900"/><stop offset="0.299" stop-color="#dffa00"/><stop offset="0.415" stop-color="#e4f900"/><stop offset="0.996" stop-color="#e5f900"/></linearGradient><linearGradient id="ge83"><stop offset="0.004" stop-color="#ffa200"/><stop offset="0.013" stop-color="#ffa400"/><stop offset="0.022" stop-color="#f0f400"/><stop offset="0.031" stop-color="#83ff1e"/><stop offset="0.040" stop-color="#2cf69c"/><stop offset="0.049" stop-color="#17e3d5"/><stop offset="0.076" stop-color="#10c7f0"/><stop offset="0.094" stop-color="#10b5f8"/><stop offset="0.112" stop-color="#10ccee"/><stop offset="0.121" stop-color="#27f3ac"/><stop offset="0.129" stop-color="#82ff1e"/><stop offset="0.138" stop-color="#e3f900"/><stop offset="0.147" stop-color="#fce700"/><stop offset="0.156" stop-color="#ffd200"/><stop offset="0.165" stop-color="#ffcd00"/><stop offset="0.201" stop-color="#fbe900"/><stop offset="0.728" stop-color="#fce600"/><stop offset="0.969" stop-color="#f9ed00"/><stop offset="0.996" stop-color="#f8ef00"/></linearGradient><clipPath id="cle"><rect x="55.0" y="539.6" width="223.6" height="168.0"/></clipPath></defs><g shape-rendering="crispEdges"><rect x="55.0" y="539.60" width="223.6" height="2.60" fill="url(#ge0)"/><rect x="55.0" y="541.60" width="223.6" height="2.60" fill="url(#ge1)"/><rect x="55.0" y="543.60" width="223.6" height="2.60" fill="url(#ge2)"/><rect x="55.0" y="545.60" width="223.6" height="2.60" fill="url(#ge3)"/><rect x="55.0" y="547.60" width="223.6" height="2.60" fill="url(#ge4)"/><rect x="55.0" y="549.60" width="223.6" height="2.60" fill="url(#ge5)"/><rect x="55.0" y="551.60" width="223.6" height="2.60" fill="url(#ge6)"/><rect x="55.0" y="553.60" width="223.6" height="2.60" fill="url(#ge7)"/><rect x="55.0" y="555.60" width="223.6" height="2.60" fill="url(#ge8)"/><rect x="55.0" y="557.60" width="223.6" height="2.60" fill="url(#ge9)"/><rect x="55.0" y="559.60" width="223.6" height="2.60" fill="url(#ge10)"/><rect x="55.0" y="561.60" width="223.6" height="2.60" fill="url(#ge11)"/><rect x="55.0" y="563.60" width="223.6" height="2.60" fill="url(#ge12)"/><rect x="55.0" y="565.60" width="223.6" height="2.60" fill="url(#ge13)"/><rect x="55.0" y="567.60" width="223.6" height="2.60" fill="url(#ge14)"/><rect x="55.0" y="569.60" width="223.6" height="2.60" fill="url(#ge15)"/><rect x="55.0" y="571.60" width="223.6" height="2.60" fill="url(#ge16)"/><rect x="55.0" y="573.60" width="223.6" height="2.60" fill="url(#ge17)"/><rect x="55.0" y="575.60" width="223.6" height="2.60" fill="url(#ge18)"/><rect x="55.0" y="577.60" width="223.6" height="2.60" fill="url(#ge19)"/><rect x="55.0" y="579.60" width="223.6" height="2.60" fill="url(#ge20)"/><rect x="55.0" y="581.60" width="223.6" height="2.60" fill="url(#ge21)"/><rect x="55.0" y="583.60" width="223.6" height="2.60" fill="url(#ge22)"/><rect x="55.0" y="585.60" width="223.6" height="2.60" fill="url(#ge23)"/><rect x="55.0" y="587.60" width="223.6" height="2.60" fill="url(#ge24)"/><rect x="55.0" y="589.60" width="223.6" height="2.60" fill="url(#ge25)"/><rect x="55.0" y="591.60" width="223.6" height="2.60" fill="url(#ge26)"/><rect x="55.0" y="593.60" width="223.6" height="2.60" fill="url(#ge27)"/><rect x="55.0" y="595.60" width="223.6" height="2.60" fill="url(#ge28)"/><rect x="55.0" y="597.60" width="223.6" height="2.60" fill="url(#ge29)"/><rect x="55.0" y="599.60" width="223.6" height="2.60" fill="url(#ge30)"/><rect x="55.0" y="601.60" width="223.6" height="2.60" fill="url(#ge31)"/><rect x="55.0" y="603.60" width="223.6" height="2.60" fill="url(#ge32)"/><rect x="55.0" y="605.60" width="223.6" height="2.60" fill="url(#ge33)"/><rect x="55.0" y="607.60" width="223.6" height="2.60" fill="url(#ge34)"/><rect x="55.0" y="609.60" width="223.6" height="2.60" fill="url(#ge35)"/><rect x="55.0" y="611.60" width="223.6" height="2.60" fill="url(#ge36)"/><rect x="55.0" y="613.60" width="223.6" height="2.60" fill="url(#ge37)"/><rect x="55.0" y="615.60" width="223.6" height="2.60" fill="url(#ge38)"/><rect x="55.0" y="617.60" width="223.6" height="2.60" fill="url(#ge39)"/><rect x="55.0" y="619.60" width="223.6" height="2.60" fill="url(#ge40)"/><rect x="55.0" y="621.60" width="223.6" height="2.60" fill="url(#ge41)"/><rect x="55.0" y="623.60" width="223.6" height="2.60" fill="url(#ge42)"/><rect x="55.0" y="625.60" width="223.6" height="2.60" fill="url(#ge43)"/><rect x="55.0" y="627.60" width="223.6" height="2.60" fill="url(#ge44)"/><rect x="55.0" y="629.60" width="223.6" height="2.60" fill="url(#ge45)"/><rect x="55.0" y="631.60" width="223.6" height="2.60" fill="url(#ge46)"/><rect x="55.0" y="633.60" width="223.6" height="2.60" fill="url(#ge47)"/><rect x="55.0" y="635.60" width="223.6" height="2.60" fill="url(#ge48)"/><rect x="55.0" y="637.60" width="223.6" height="2.60" fill="url(#ge49)"/><rect x="55.0" y="639.60" width="223.6" height="2.60" fill="url(#ge50)"/><rect x="55.0" y="641.60" width="223.6" height="2.60" fill="url(#ge51)"/><rect x="55.0" y="643.60" width="223.6" height="2.60" fill="url(#ge52)"/><rect x="55.0" y="645.60" width="223.6" height="2.60" fill="url(#ge53)"/><rect x="55.0" y="647.60" width="223.6" height="2.60" fill="url(#ge54)"/><rect x="55.0" y="649.60" width="223.6" height="2.60" fill="url(#ge55)"/><rect x="55.0" y="651.60" width="223.6" height="2.60" fill="url(#ge56)"/><rect x="55.0" y="653.60" width="223.6" height="2.60" fill="url(#ge57)"/><rect x="55.0" y="655.60" width="223.6" height="2.60" fill="url(#ge58)"/><rect x="55.0" y="657.60" width="223.6" height="2.60" fill="url(#ge59)"/><rect x="55.0" y="659.60" width="223.6" height="2.60" fill="url(#ge60)"/><rect x="55.0" y="661.60" width="223.6" height="2.60" fill="url(#ge61)"/><rect x="55.0" y="663.60" width="223.6" height="2.60" fill="url(#ge62)"/><rect x="55.0" y="665.60" width="223.6" height="2.60" fill="url(#ge63)"/><rect x="55.0" y="667.60" width="223.6" height="2.60" fill="url(#ge64)"/><rect x="55.0" y="669.60" width="223.6" height="2.60" fill="url(#ge65)"/><rect x="55.0" y="671.60" width="223.6" height="2.60" fill="url(#ge66)"/><rect x="55.0" y="673.60" width="223.6" height="2.60" fill="url(#ge67)"/><rect x="55.0" y="675.60" width="223.6" height="2.60" fill="url(#ge68)"/><rect x="55.0" y="677.60" width="223.6" height="2.60" fill="url(#ge69)"/><rect x="55.0" y="679.60" width="223.6" height="2.60" fill="url(#ge70)"/><rect x="55.0" y="681.60" width="223.6" height="2.60" fill="url(#ge71)"/><rect x="55.0" y="683.60" width="223.6" height="2.60" fill="url(#ge72)"/><rect x="55.0" y="685.60" width="223.6" height="2.60" fill="url(#ge73)"/><rect x="55.0" y="687.60" width="223.6" height="2.60" fill="url(#ge74)"/><rect x="55.0" y="689.60" width="223.6" height="2.60" fill="url(#ge75)"/><rect x="55.0" y="691.60" width="223.6" height="2.60" fill="url(#ge76)"/><rect x="55.0" y="693.60" width="223.6" height="2.60" fill="url(#ge77)"/><rect x="55.0" y="695.60" width="223.6" height="2.60" fill="url(#ge78)"/><rect x="55.0" y="697.60" width="223.6" height="2.60" fill="url(#ge79)"/><rect x="55.0" y="699.60" width="223.6" height="2.60" fill="url(#ge80)"/><rect x="55.0" y="701.60" width="223.6" height="2.60" fill="url(#ge81)"/><rect x="55.0" y="703.60" width="223.6" height="2.60" fill="url(#ge82)"/><rect x="55.0" y="705.60" width="223.6" height="2.60" fill="url(#ge83)"/></g><g clip-path="url(#cle)" fill="none"><path d="M55.54,707.87C55.65,707.64 56.00,707.15 56.24,706.51C56.48,705.86 56.72,705.11 56.97,704.02C57.21,702.93 57.47,701.44 57.72,699.94C57.97,698.45 58.23,696.66 58.48,695.04C58.73,693.41 58.99,691.68 59.24,690.18C59.49,688.68 59.74,687.39 59.98,686.03C60.23,684.67 60.48,683.34 60.72,682.01C60.97,680.68 61.22,679.36 61.46,678.06C61.71,676.76 61.95,675.47 62.20,674.21C62.44,672.95 62.69,671.70 62.93,670.49C63.18,669.27 63.42,668.09 63.66,666.92C63.90,665.75 64.15,664.60 64.39,663.46C64.63,662.32 64.87,661.20 65.11,660.10C65.35,659.00 65.59,657.91 65.83,656.85C66.07,655.79 66.31,654.75 66.55,653.73C66.79,652.72 67.02,651.73 67.26,650.76C67.50,649.79 67.73,648.85 67.97,647.93C68.21,647.00 68.44,646.10 68.68,645.22C68.91,644.33 69.15,643.46 69.38,642.61C69.61,641.76 69.85,640.92 70.08,640.10C70.31,639.27 70.55,638.46 70.78,637.66C71.01,636.86 71.25,636.07 71.48,635.28C71.71,634.49 71.95,633.71 72.18,632.93C72.41,632.16 72.64,631.39 72.87,630.64C73.10,629.90 73.33,629.16 73.56,628.46C73.79,627.75 74.02,627.07 74.24,626.42C74.47,625.77 74.69,625.16 74.91,624.56C75.14,623.96 75.36,623.39 75.59,622.81C75.81,622.23 76.04,621.66 76.26,621.10C76.49,620.54 76.71,619.99 76.93,619.46C77.16,618.93 77.38,618.41 77.60,617.91C77.82,617.41 78.04,616.92 78.25,616.46C78.47,616.00 78.68,615.55 78.89,615.13C79.10,614.71 79.29,614.31 79.49,613.93C79.69,613.55 79.88,613.21 80.08,612.87C80.28,612.52 80.48,612.20 80.69,611.87C80.89,611.54 81.10,611.20 81.31,610.88C81.51,610.56 81.72,610.25 81.92,609.96C82.11,609.66 82.31,609.38 82.50,609.12C82.70,608.85 82.89,608.60 83.07,608.38C83.25,608.15 83.43,607.95 83.60,607.77C83.76,607.59 83.92,607.43 84.06,607.30C84.21,607.16 84.33,607.07 84.48,606.96C84.64,606.85 84.80,606.75 84.99,606.64C85.17,606.52 85.39,606.38 85.59,606.26C85.78,606.14 85.97,606.03 86.16,605.92C86.34,605.82 86.52,605.72 86.69,605.64C86.85,605.55 86.99,605.48 87.16,605.41C87.33,605.34 87.62,605.24 87.71,605.21" stroke="#9cf63c" stroke-width="10.0" stroke-linecap="round"/><path d="M55.52,707.91C55.58,707.79 55.79,707.52 55.93,707.23C56.07,706.95 56.21,706.61 56.35,706.22C56.49,705.82 56.63,705.42 56.77,704.86C56.91,704.31 57.05,703.64 57.20,702.90C57.34,702.17 57.48,701.33 57.63,700.47C57.78,699.61 57.92,698.66 58.07,697.73C58.22,696.79 58.36,695.80 58.51,694.84C58.66,693.88 58.80,692.90 58.95,691.98C59.10,691.07 59.24,690.17 59.38,689.33C59.53,688.50 59.67,687.75 59.81,686.96C59.95,686.18 60.10,685.41 60.24,684.63C60.38,683.86 60.52,683.09 60.67,682.32C60.81,681.55 60.95,680.79 61.09,680.03C61.24,679.27 61.38,678.51 61.52,677.76C61.66,677.01 61.80,676.27 61.94,675.53C62.09,674.79 62.23,674.06 62.37,673.34C62.51,672.62 62.65,671.90 62.79,671.19C62.93,670.49 63.07,669.79 63.21,669.10C63.35,668.41 63.49,667.73 63.63,667.05C63.77,666.38 63.91,665.71 64.05,665.04C64.19,664.38 64.33,663.72 64.47,663.07C64.61,662.41 64.75,661.76 64.89,661.12C65.03,660.48 65.17,659.84 65.31,659.21C65.44,658.58 65.58,657.96 65.72,657.34C65.86,656.73 66.00,656.12 66.14,655.52C66.27,654.91 66.41,654.32 66.55,653.73C66.69,653.15 66.82,652.57 66.96,652.00C67.10,651.43 67.23,650.87 67.37,650.32C67.51,649.76 67.64,649.22 67.78,648.68C67.92,648.14 68.05,647.61 68.19,647.08C68.32,646.56 68.46,646.04 68.60,645.52C68.73,645.01 68.87,644.50 69.00,644.00C69.14,643.50 69.27,643.00 69.41,642.51C69.54,642.02 69.68,641.53 69.81,641.05C69.95,640.57 70.08,640.09 70.22,639.62C70.35,639.15 70.48,638.68 70.62,638.22C70.75,637.75 70.89,637.29 71.02,636.83C71.16,636.37 71.29,635.92 71.43,635.46C71.56,635.01 71.70,634.55 71.83,634.10C71.96,633.65 72.10,633.20 72.23,632.75C72.37,632.31 72.50,631.86 72.63,631.42C72.77,630.99 72.90,630.55 73.03,630.13C73.17,629.70 73.30,629.28 73.43,628.87C73.56,628.45 73.69,628.05 73.83,627.65C73.96,627.26 74.09,626.87 74.22,626.49C74.35,626.12 74.47,625.75 74.60,625.40C74.73,625.04 74.86,624.70 74.99,624.36C75.12,624.02 75.25,623.69 75.38,623.35C75.51,623.01 75.71,622.50 75.77,622.33" stroke="#9cf63c" stroke-width="12.0" stroke-linecap="round"/><path d="M55.54,707.87C55.65,707.66 55.98,707.18 56.21,706.59C56.44,706.00 56.67,705.33 56.90,704.32C57.13,703.32 57.37,701.97 57.61,700.58C57.85,699.18 58.10,697.52 58.34,695.96C58.58,694.41 58.83,692.72 59.07,691.25C59.31,689.78 59.54,688.47 59.78,687.15C60.01,685.82 60.25,684.58 60.48,683.30C60.72,682.03 60.96,680.76 61.19,679.51C61.42,678.26 61.66,677.02 61.89,675.80C62.13,674.58 62.36,673.37 62.59,672.19C62.83,671.01 63.06,669.85 63.29,668.71C63.52,667.57 63.75,666.47 63.99,665.36C64.22,664.26 64.45,663.17 64.68,662.10C64.91,661.03 65.14,659.97 65.37,658.94C65.60,657.90 65.82,656.88 66.05,655.88C66.28,654.88 66.51,653.90 66.74,652.94C66.96,651.98 67.19,651.05 67.41,650.14C67.64,649.23 67.87,648.34 68.09,647.46C68.31,646.59 68.54,645.73 68.76,644.89C68.99,644.05 69.21,643.23 69.43,642.41C69.66,641.60 69.88,640.81 70.10,640.02C70.33,639.23 70.55,638.46 70.77,637.70C70.99,636.93 71.21,636.18 71.44,635.43C71.66,634.68 71.88,633.92 72.10,633.18C72.33,632.44 72.55,631.71 72.77,630.99C72.99,630.27 73.21,629.57 73.42,628.88C73.64,628.20 73.86,627.54 74.08,626.91C74.29,626.27 74.50,625.67 74.72,625.09C74.93,624.50 75.14,623.96 75.36,623.40C75.57,622.84 75.79,622.29 76.00,621.75C76.22,621.21 76.43,620.67 76.65,620.15C76.86,619.64 77.07,619.13 77.28,618.63C77.49,618.14 77.70,617.66 77.91,617.20C78.12,616.74 78.33,616.30 78.53,615.87C78.73,615.45 78.93,615.04 79.12,614.65C79.31,614.26 79.50,613.90 79.69,613.56C79.88,613.21 80.06,612.90 80.25,612.58C80.45,612.25 80.64,611.94 80.84,611.62C81.04,611.31 81.24,610.99 81.43,610.69C81.62,610.39 81.82,610.10 82.01,609.82C82.20,609.54 82.38,609.28 82.57,609.03C82.75,608.78 82.93,608.55 83.10,608.34C83.28,608.12 83.45,607.93 83.60,607.76C83.76,607.59 83.91,607.44 84.05,607.31C84.19,607.18 84.30,607.09 84.45,606.98C84.59,606.88 84.74,606.79 84.92,606.68C85.09,606.57 85.30,606.44 85.49,606.32C85.67,606.21 85.85,606.10 86.04,605.99C86.23,605.88 86.52,605.73 86.61,605.67" stroke="#f4f000" stroke-width="7.5" stroke-linecap="round"/><path d="M55.52,707.91C55.58,707.79 55.79,707.52 55.93,707.23C56.07,706.95 56.21,706.61 56.35,706.22C56.49,705.82 56.63,705.42 56.77,704.86C56.91,704.31 57.05,703.64 57.20,702.90C57.34,702.17 57.48,701.33 57.63,700.47C57.78,699.61 57.92,698.66 58.07,697.73C58.22,696.79 58.36,695.80 58.51,694.84C58.66,693.88 58.80,692.90 58.95,691.98C59.10,691.07 59.24,690.17 59.38,689.33C59.53,688.50 59.67,687.75 59.81,686.96C59.95,686.18 60.10,685.41 60.24,684.63C60.38,683.86 60.52,683.09 60.67,682.32C60.81,681.55 60.95,680.79 61.09,680.03C61.24,679.27 61.38,678.51 61.52,677.76C61.66,677.01 61.80,676.27 61.94,675.53C62.09,674.79 62.23,674.06 62.37,673.34C62.51,672.62 62.65,671.90 62.79,671.19C62.93,670.49 63.07,669.79 63.21,669.10C63.35,668.41 63.49,667.73 63.63,667.05C63.77,666.38 63.91,665.71 64.05,665.04C64.19,664.38 64.33,663.72 64.47,663.07C64.61,662.41 64.75,661.76 64.89,661.12C65.03,660.48 65.17,659.84 65.31,659.21C65.44,658.58 65.58,657.96 65.72,657.34C65.86,656.73 66.00,656.12 66.14,655.52C66.27,654.91 66.41,654.32 66.55,653.73C66.69,653.15 66.82,652.57 66.96,652.00C67.10,651.43 67.23,650.87 67.37,650.32C67.51,649.76 67.64,649.22 67.78,648.68C67.92,648.14 68.05,647.61 68.19,647.08C68.32,646.56 68.46,646.04 68.60,645.52C68.73,645.01 68.87,644.50 69.00,644.00C69.14,643.50 69.27,643.00 69.41,642.51C69.54,642.02 69.68,641.53 69.81,641.05C69.95,640.57 70.08,640.09 70.22,639.62C70.35,639.15 70.48,638.68 70.62,638.22C70.75,637.75 70.89,637.29 71.02,636.83C71.16,636.37 71.29,635.92 71.43,635.46C71.56,635.01 71.70,634.55 71.83,634.10C71.96,633.65 72.10,633.20 72.23,632.75C72.37,632.31 72.50,631.86 72.63,631.42C72.77,630.99 72.90,630.55 73.03,630.13C73.17,629.70 73.30,629.28 73.43,628.87C73.56,628.45 73.69,628.05 73.83,627.65C73.96,627.26 74.09,626.87 74.22,626.49C74.35,626.12 74.47,625.75 74.60,625.40C74.73,625.04 74.86,624.70 74.99,624.36C75.12,624.02 75.25,623.69 75.38,623.35C75.51,623.01 75.71,622.50 75.77,622.33" stroke="#f4f000" stroke-width="9.0" stroke-linecap="round"/><path d="M55.53,707.88C55.63,707.69 55.93,707.26 56.14,706.76C56.35,706.26 56.56,705.71 56.77,704.89C56.98,704.06 57.19,702.97 57.40,701.79C57.62,700.61 57.84,699.19 58.06,697.80C58.28,696.42 58.50,694.89 58.72,693.49C58.93,692.10 59.15,690.70 59.37,689.43C59.58,688.17 59.79,687.07 60.01,685.91C60.22,684.74 60.43,683.59 60.64,682.44C60.86,681.30 61.07,680.15 61.28,679.03C61.49,677.90 61.70,676.78 61.92,675.68C62.13,674.58 62.34,673.49 62.55,672.42C62.76,671.35 62.97,670.29 63.18,669.26C63.39,668.23 63.60,667.22 63.81,666.22C64.02,665.22 64.22,664.23 64.43,663.25C64.64,662.27 64.85,661.30 65.06,660.35C65.26,659.40 65.47,658.46 65.68,657.54C65.88,656.62 66.09,655.71 66.30,654.82C66.50,653.93 66.71,653.06 66.91,652.20C67.12,651.35 67.32,650.52 67.52,649.70C67.73,648.88 67.93,648.08 68.13,647.29C68.34,646.50 68.54,645.73 68.74,644.97C68.94,644.21 69.15,643.46 69.35,642.73C69.55,641.99 69.75,641.27 69.95,640.55C70.15,639.84 70.35,639.14 70.55,638.44C70.76,637.74 70.96,637.06 71.16,636.37C71.36,635.69 71.56,635.01 71.76,634.34C71.96,633.66 72.16,632.99 72.36,632.33C72.56,631.66 72.76,631.01 72.96,630.37C73.16,629.73 73.36,629.10 73.55,628.49C73.75,627.88 73.94,627.29 74.14,626.72C74.33,626.15 74.52,625.61 74.72,625.09C74.91,624.56 75.10,624.07 75.30,623.56C75.49,623.06 75.69,622.56 75.88,622.06C76.07,621.57 76.27,621.08 76.46,620.61C76.65,620.13 76.85,619.67 77.04,619.21C77.23,618.76 77.42,618.31 77.61,617.88C77.80,617.45 77.99,617.03 78.17,616.63C78.36,616.23 78.55,615.84 78.73,615.47C78.91,615.09 79.08,614.73 79.25,614.39C79.42,614.05 79.59,613.73 79.76,613.43C79.93,613.12 80.10,612.84 80.27,612.55C80.44,612.26 80.62,611.97 80.80,611.68C80.98,611.40 81.16,611.11 81.34,610.84C81.51,610.56 81.69,610.29 81.86,610.04C82.03,609.78 82.20,609.53 82.37,609.30C82.54,609.07 82.70,608.84 82.87,608.64C83.03,608.43 83.18,608.24 83.33,608.06C83.49,607.88 83.62,607.74 83.77,607.58C83.92,607.43 84.17,607.20 84.25,607.13" stroke="#ff3a10" stroke-width="4.6" stroke-linecap="round"/><path d="M55.51,707.91C55.58,707.80 55.78,707.54 55.91,707.27C56.05,707.00 56.18,706.68 56.32,706.31C56.45,705.94 56.59,705.57 56.72,705.06C56.86,704.55 56.99,703.93 57.13,703.25C57.27,702.58 57.40,701.80 57.54,700.99C57.68,700.18 57.82,699.29 57.96,698.40C58.10,697.52 58.25,696.57 58.39,695.65C58.53,694.73 58.67,693.78 58.81,692.88C58.95,691.98 59.09,691.08 59.23,690.25C59.37,689.42 59.50,688.66 59.64,687.90C59.78,687.13 59.91,686.40 60.05,685.66C60.19,684.91 60.32,684.17 60.46,683.43C60.60,682.69 60.74,681.95 60.87,681.22C61.01,680.48 61.14,679.75 61.28,679.03C61.42,678.30 61.55,677.58 61.69,676.87C61.83,676.15 61.96,675.44 62.10,674.74C62.23,674.03 62.37,673.34 62.50,672.65C62.64,671.96 62.77,671.27 62.91,670.60C63.04,669.93 63.18,669.26 63.31,668.60C63.45,667.94 63.58,667.30 63.72,666.65C63.85,666.00 63.99,665.36 64.12,664.73C64.25,664.09 64.39,663.46 64.52,662.83C64.66,662.20 64.79,661.58 64.92,660.97C65.06,660.35 65.19,659.74 65.32,659.14C65.46,658.53 65.59,657.93 65.72,657.34C65.85,656.75 65.99,656.17 66.12,655.59C66.25,655.01 66.38,654.44 66.52,653.87C66.65,653.31 66.78,652.75 66.91,652.20C67.04,651.66 67.17,651.11 67.31,650.58C67.44,650.05 67.57,649.52 67.70,649.00C67.83,648.48 67.96,647.97 68.09,647.46C68.22,646.95 68.35,646.45 68.48,645.96C68.61,645.46 68.74,644.97 68.87,644.48C69.00,644.00 69.13,643.52 69.26,643.04C69.39,642.57 69.52,642.10 69.65,641.63C69.78,641.17 69.91,640.71 70.04,640.25C70.17,639.79 70.30,639.34 70.43,638.89C70.55,638.44 70.68,637.99 70.81,637.55C70.94,637.11 71.07,636.67 71.20,636.23C71.33,635.79 71.46,635.35 71.59,634.92C71.72,634.48 71.85,634.05 71.97,633.61C72.10,633.18 72.23,632.75 72.36,632.32C72.49,631.90 72.62,631.48 72.75,631.06C72.87,630.64 73.00,630.23 73.13,629.82C73.26,629.41 73.38,629.01 73.51,628.62C73.64,628.23 73.76,627.84 73.89,627.46C74.01,627.09 74.14,626.72 74.26,626.36C74.39,626.00 74.51,625.66 74.63,625.31C74.76,624.97 74.95,624.48 75.01,624.31" stroke="#ff3a10" stroke-width="6.2" stroke-linecap="round"/><circle cx="57.6" cy="703.9" r="4.9" fill="#ff2a30"/><circle cx="59.3" cy="693.1" r="4.8" fill="#ff2a30"/><circle cx="61.6" cy="679.8" r="4.6" fill="#ff2a30"/><circle cx="64.3" cy="665.7" r="4.3" fill="#ff2a30"/><circle cx="67.2" cy="652.0" r="4.1" fill="#ff2a30"/><circle cx="70.4" cy="639.7" r="3.9" fill="#ff2a30"/><circle cx="73.1" cy="630.4" r="3.8" fill="#ff2a30"/><path d="M55.52,707.90C55.60,707.77 55.83,707.45 55.99,707.11C56.14,706.78 56.31,706.40 56.46,705.90C56.62,705.41 56.78,704.86 56.94,704.15C57.10,703.44 57.26,702.57 57.43,701.66C57.59,700.74 57.76,699.70 57.92,698.67C58.09,697.63 58.26,696.50 58.42,695.42C58.59,694.34 58.76,693.21 58.92,692.17C59.09,691.13 59.25,690.11 59.41,689.17C59.58,688.22 59.74,687.38 59.90,686.50C60.06,685.61 60.22,684.74 60.38,683.86C60.54,682.98 60.70,682.11 60.87,681.25C61.03,680.38 61.19,679.52 61.35,678.66C61.51,677.81 61.67,676.96 61.83,676.12C61.99,675.28 62.15,674.45 62.31,673.63C62.47,672.81 62.63,671.99 62.79,671.19C62.95,670.39 63.11,669.60 63.27,668.82C63.43,668.04 63.59,667.28 63.74,666.51C63.90,665.75 64.06,665.00 64.22,664.25C64.38,663.50 64.54,662.76 64.69,662.02C64.85,661.29 65.01,660.56 65.17,659.84C65.32,659.13 65.48,658.41 65.64,657.71C65.80,657.01 65.95,656.32 66.11,655.64C66.26,654.95 66.42,654.28 66.58,653.62C66.73,652.95 66.89,652.30 67.04,651.66C67.20,651.02 67.35,650.39 67.51,649.76C67.66,649.14 67.82,648.53 67.97,647.93C68.12,647.33 68.28,646.73 68.43,646.14C68.59,645.56 68.74,644.98 68.89,644.40C69.05,643.83 69.20,643.27 69.35,642.71C69.51,642.15 69.66,641.60 69.81,641.05C69.96,640.51 70.12,639.97 70.27,639.43C70.42,638.90 70.57,638.37 70.73,637.84C70.88,637.32 71.03,636.80 71.18,636.28C71.34,635.77 71.49,635.25 71.64,634.74C71.79,634.22 71.95,633.71 72.10,633.20C72.25,632.69 72.40,632.19 72.55,631.69C72.70,631.19 72.86,630.70 73.01,630.21C73.16,629.73 73.31,629.25 73.46,628.78C73.61,628.32 73.76,627.86 73.90,627.42C74.05,626.97 74.20,626.54 74.35,626.12C74.49,625.70 74.64,625.30 74.78,624.91C74.93,624.51 75.07,624.14 75.22,623.75C75.37,623.37 75.52,622.99 75.67,622.61C75.81,622.23 75.96,621.85 76.11,621.49C76.26,621.12 76.40,620.75 76.55,620.39C76.69,620.03 76.84,619.68 76.99,619.33C77.13,618.99 77.28,618.65 77.42,618.31C77.57,617.98 77.71,617.66 77.85,617.34C78.00,617.01 78.22,616.54 78.29,616.38" stroke="#ffb8e4" stroke-width="2.6" stroke-linecap="round"/><circle cx="57.6" cy="703.9" r="3.8" fill="#ffd2f0"/><circle cx="59.3" cy="693.1" r="3.7" fill="#ffd2f0"/><circle cx="61.6" cy="679.8" r="3.5" fill="#ffd2f0"/><circle cx="64.3" cy="665.7" r="3.2" fill="#ffd2f0"/><circle cx="67.2" cy="652.0" r="3.0" fill="#ffd2f0"/><circle cx="70.4" cy="639.7" r="2.8" fill="#ffd2f0"/><circle cx="73.1" cy="630.4" r="2.7" fill="#ffd2f0"/><path d="M55.00,707.60C55.31,706.37 56.26,703.73 56.89,700.23C57.52,696.72 58.14,690.77 58.77,686.56C59.40,682.35 60.03,678.67 60.66,674.97C61.29,671.26 61.92,667.72 62.55,664.34C63.17,660.96 63.80,657.72 64.43,654.68C65.06,651.65 65.69,648.82 66.32,646.13C66.95,643.44 67.58,640.98 68.20,638.55C68.83,636.13 69.46,633.80 70.09,631.57C70.72,629.34 71.35,627.13 71.98,625.19C72.61,623.25 73.24,621.57 73.86,619.92C74.49,618.26 75.12,616.66 75.75,615.26C76.38,613.86 77.01,612.62 77.64,611.50C78.27,610.37 78.89,609.41 79.52,608.50C80.15,607.58 80.78,606.69 81.41,606.01C82.04,605.32 82.67,604.85 83.30,604.39C83.92,603.94 84.55,603.58 85.18,603.26C85.81,602.94 86.44,602.63 87.07,602.49C87.70,602.34 88.33,602.29 88.95,602.37C89.58,602.45 90.21,602.69 90.84,602.96C91.47,603.24 92.10,603.59 92.73,604.02C93.36,604.45 93.99,604.83 94.61,605.56C95.24,606.30 95.87,607.37 96.50,608.44C97.13,609.51 97.76,610.77 98.39,611.99C99.02,613.22 99.64,614.42 100.27,615.80C100.90,617.17 101.53,618.70 102.16,620.25C102.79,621.80 103.42,623.37 104.05,625.10C104.67,626.83 105.30,628.71 105.93,630.62C106.56,632.52 107.19,634.66 107.82,636.54C108.45,638.42 109.08,640.13 109.71,641.88C110.33,643.63 110.96,645.46 111.59,647.05C112.22,648.65 112.85,650.28 113.48,651.45C114.11,652.62 114.74,653.30 115.36,654.05C115.99,654.81 116.62,655.48 117.25,655.99C117.88,656.50 118.51,656.94 119.14,657.11C119.77,657.27 120.39,657.17 121.02,656.98C121.65,656.78 122.28,656.37 122.91,655.94C123.54,655.51 124.17,655.08 124.80,654.41C125.43,653.74 126.05,652.98 126.68,651.92C127.31,650.86 127.94,649.34 128.57,648.07C129.20,646.79 129.83,645.50 130.46,644.27C131.08,643.03 131.71,641.87 132.34,640.66C132.97,639.46 133.60,638.16 134.23,637.02C134.86,635.88 135.49,634.74 136.11,633.81C136.74,632.87 137.37,632.15 138.00,631.42C138.63,630.68 139.26,630.02 139.89,629.41C140.52,628.79 141.14,628.20 141.77,627.71C142.40,627.23 143.03,626.82 143.66,626.49C144.29,626.17 144.92,625.98 145.55,625.76C146.18,625.53 146.80,625.32 147.43,625.16C148.06,625.00 148.69,624.85 149.32,624.79C149.95,624.72 150.58,624.68 151.21,624.79C151.83,624.89 152.46,625.13 153.09,625.41C153.72,625.69 154.35,626.09 154.98,626.49C155.61,626.89 156.24,627.36 156.86,627.80C157.49,628.24 158.12,628.62 158.75,629.12C159.38,629.63 160.01,630.20 160.64,630.82C161.27,631.44 161.90,632.17 162.52,632.86C163.15,633.55 163.78,634.30 164.41,634.95C165.04,635.60 165.67,636.24 166.30,636.79C166.93,637.33 167.55,637.74 168.18,638.21C168.81,638.67 169.44,639.15 170.07,639.58C170.70,640.01 171.33,640.44 171.96,640.78C172.58,641.12 173.21,641.43 173.84,641.63C174.47,641.83 175.10,641.90 175.73,641.99C176.36,642.09 176.99,642.15 177.62,642.19C178.24,642.24 178.87,642.28 179.50,642.27C180.13,642.25 180.76,642.20 181.39,642.10C182.02,642.00 182.65,641.84 183.27,641.67C183.90,641.50 184.53,641.29 185.16,641.08C185.79,640.87 186.42,640.63 187.05,640.41C187.68,640.18 188.30,639.97 188.93,639.74C189.56,639.52 190.19,639.30 190.82,639.05C191.45,638.79 192.08,638.50 192.71,638.21C193.34,637.92 193.96,637.61 194.59,637.31C195.22,637.02 195.85,636.72 196.48,636.46C197.11,636.19 197.74,635.95 198.37,635.73C198.99,635.52 199.62,635.35 200.25,635.16C200.88,634.97 201.51,634.76 202.14,634.58C202.77,634.39 203.40,634.20 204.02,634.04C204.65,633.88 205.28,633.73 205.91,633.62C206.54,633.50 207.17,633.40 207.80,633.36C208.43,633.31 209.05,633.30 209.68,633.32C210.31,633.34 210.94,633.41 211.57,633.49C212.20,633.57 212.83,633.68 213.46,633.80C214.09,633.92 214.71,634.06 215.34,634.21C215.97,634.35 216.60,634.51 217.23,634.67C217.86,634.82 218.49,634.99 219.12,635.14C219.74,635.28 220.37,635.42 221.00,635.56C221.63,635.71 222.26,635.86 222.89,636.03C223.52,636.20 224.15,636.39 224.77,636.59C225.40,636.78 226.03,636.99 226.66,637.19C227.29,637.40 227.92,637.61 228.55,637.80C229.18,637.99 229.81,638.19 230.43,638.36C231.06,638.53 231.69,638.69 232.32,638.82C232.95,638.95 233.58,639.07 234.21,639.14C234.84,639.22 235.46,639.26 236.09,639.28C236.72,639.30 237.35,639.27 237.98,639.25C238.61,639.23 239.24,639.20 239.87,639.16C240.49,639.13 241.12,639.08 241.75,639.03C242.38,638.97 243.01,638.91 243.64,638.85C244.27,638.79 244.90,638.72 245.53,638.66C246.15,638.59 246.78,638.52 247.41,638.45C248.04,638.38 248.67,638.32 249.30,638.25C249.93,638.18 250.56,638.13 251.18,638.05C251.81,637.98 252.44,637.90 253.07,637.81C253.70,637.72 254.33,637.62 254.96,637.53C255.59,637.43 256.21,637.33 256.84,637.23C257.47,637.13 258.10,637.03 258.73,636.94C259.36,636.85 259.99,636.76 260.62,636.68C261.24,636.60 261.87,636.52 262.50,636.46C263.13,636.40 263.76,636.35 264.39,636.32C265.02,636.28 265.65,636.26 266.28,636.23C266.90,636.21 267.53,636.18 268.16,636.16C268.79,636.14 269.42,636.11 270.05,636.09C270.68,636.07 271.31,636.05 271.93,636.04C272.56,636.02 273.19,636.00 273.82,635.99C274.45,635.97 275.08,635.96 275.71,635.95C276.34,635.94 276.96,635.93 277.59,635.93C278.22,635.92 279.17,635.92 279.48,635.92" stroke="#fff" stroke-width="1.5"/><path d="M80.13,706.59C82.45,706.59 89.89,706.61 94.04,706.59C98.19,706.57 102.58,706.56 105.02,706.48C107.46,706.40 107.58,706.42 108.68,706.11C109.78,705.80 110.75,705.28 111.61,704.61C112.46,703.95 113.07,703.29 113.80,702.11C114.54,700.93 115.31,699.34 116.00,697.52C116.69,695.70 117.34,693.64 117.95,691.21C118.56,688.78 119.09,685.75 119.66,682.96C120.23,680.17 120.88,677.19 121.37,674.45C121.86,671.71 122.18,669.03 122.59,666.53C122.99,664.03 123.40,661.31 123.81,659.44C124.21,657.57 124.66,656.17 125.03,655.33C125.39,654.49 125.68,654.40 126.00,654.40C126.33,654.40 126.61,654.49 126.98,655.33C127.35,656.17 127.71,657.51 128.20,659.44C128.69,661.37 129.34,664.41 129.91,666.91C130.48,669.41 131.01,671.77 131.62,674.45C132.23,677.12 132.88,680.45 133.57,682.96C134.26,685.47 135.03,687.60 135.76,689.53C136.50,691.46 137.15,693.14 137.96,694.53C138.77,695.93 139.63,696.90 140.64,697.89C141.66,698.89 142.92,699.85 144.06,700.51C145.20,701.16 146.34,701.53 147.48,701.81C148.61,702.09 149.79,702.19 150.89,702.19C151.99,702.19 152.97,702.12 154.06,701.81C155.16,701.50 156.34,700.97 157.48,700.32C158.62,699.67 159.68,698.86 160.90,697.89C162.12,696.93 163.54,695.72 164.80,694.53C166.06,693.35 167.24,692.11 168.46,690.80C169.68,689.49 170.98,687.69 172.12,686.69C173.26,685.70 174.07,684.95 175.29,684.83C176.51,684.70 177.77,685.20 179.44,685.95C181.11,686.69 183.26,688.44 185.30,689.31C187.33,690.18 188.96,690.61 191.64,691.17C194.32,691.73 197.98,692.11 201.40,692.67C204.82,693.23 208.48,694.47 212.14,694.53C215.80,694.60 219.74,693.66 223.36,693.04C226.98,692.42 230.19,691.17 233.85,690.80C237.51,690.43 241.38,690.61 245.32,690.80C249.26,690.99 253.45,691.67 257.52,691.92C261.59,692.17 266.22,692.17 269.72,692.29C273.22,692.42 277.04,692.60 278.50,692.67" stroke="#000" stroke-width="3" stroke-dasharray="8.5 3 2.6 3"/></g><rect x="55.0" y="539.6" width="223.6" height="168.0" fill="none" stroke="#262626" stroke-width="0.9"/><path d="M55.0,707.6v2.6M55.0,539.6v-2.6M103.8,707.6v2.6M103.8,539.6v-2.6M152.6,707.6v2.6M152.6,539.6v-2.6M201.4,707.6v2.6M201.4,539.6v-2.6M250.2,707.6v2.6M250.2,539.6v-2.6M55.0,707.6h-3.4M278.6,707.6h2.6M55.0,670.3h-3.4M278.6,670.3h2.6M55.0,632.9h-3.4M278.6,632.9h2.6M55.0,595.6h-3.4M278.6,595.6h2.6M55.0,558.3h-3.4M278.6,558.3h2.6" stroke="#262626" stroke-width="1" fill="none"/><text x="46.1" y="715.6" text-anchor="end" font-size="17.8" fill="#262626">0</text><text x="46.1" y="678.3" text-anchor="end" font-size="17.8" fill="#262626">10</text><text x="46.1" y="640.9" text-anchor="end" font-size="17.8" fill="#262626">20</text><text x="46.1" y="603.6" text-anchor="end" font-size="17.8" fill="#262626">30</text><text x="46.1" y="566.3" text-anchor="end" font-size="17.8" fill="#262626">40</text><text x="55.0" y="733.3" text-anchor="middle" font-size="17.8" fill="#262626">0</text><text x="103.8" y="733.3" text-anchor="middle" font-size="17.8" fill="#262626">2</text><text x="152.6" y="733.3" text-anchor="middle" font-size="17.8" fill="#262626">4</text><text x="201.4" y="733.3" text-anchor="middle" font-size="17.8" fill="#262626">6</text><text x="250.2" y="733.3" text-anchor="middle" font-size="17.8" fill="#262626">8</text><text x="166.3" y="762.8" text-anchor="middle" font-size="19.6" fill="#262626" textLength="63" lengthAdjust="spacing">Q (&#197;<tspan font-size="14" dy="-9.5">-1</tspan><tspan dy="9.5">)</tspan></text><text transform="translate(18.8,624.4) rotate(-90)" text-anchor="middle" font-size="18.8" fill="#262626" textLength="72.5" lengthAdjust="spacing">E (meV)</text><rect x="284.7" y="540.1" width="13.2" height="167.5" fill="url(#cbar)" stroke="#8a8a8a" stroke-width="0.8"/><path d="M297.9,665.7h-1.6M297.9,623.9h-1.6M297.9,582.0h-1.6" stroke="#262626" stroke-width="0.9"/><text x="302.1" y="713.2" font-size="15.5" fill="#262626">0</text><text x="302.1" y="671.3" font-size="15.5" fill="#262626">1</text><text x="302.1" y="629.5" font-size="15.5" fill="#262626">2</text><text x="302.1" y="587.6" font-size="15.5" fill="#262626">3</text><text x="302.1" y="545.7" font-size="15.5" fill="#262626">4</text><text transform="translate(329.0,623.9) rotate(-90)" text-anchor="middle" font-size="16.4" fill="#262626">B(Q,E) (arb. u.)</text><text x="92.3" y="561.9" font-size="22" fill="#fff" textLength="160.2" lengthAdjust="spacingAndGlyphs">volumetric strain</text><defs><linearGradient id="gf1"><stop offset="0.004" stop-color="#69008f"/><stop offset="0.987" stop-color="#68008d"/><stop offset="0.996" stop-color="#68008c"/></linearGradient><linearGradient id="gf2"><stop offset="0.004" stop-color="#68008c"/><stop offset="0.129" stop-color="#6a0095"/><stop offset="0.165" stop-color="#6a0095"/><stop offset="0.996" stop-color="#69008f"/></linearGradient><linearGradient id="gf3"><stop offset="0.004" stop-color="#68008c"/><stop offset="0.121" stop-color="#6a0094"/><stop offset="0.147" stop-color="#6e00ab"/><stop offset="0.183" stop-color="#69008f"/><stop offset="0.996" stop-color="#690090"/></linearGradient><linearGradient id="gf4"><stop offset="0.004" stop-color="#68008c"/><stop offset="0.112" stop-color="#690090"/><stop offset="0.147" stop-color="#7000b8"/><stop offset="0.183" stop-color="#690093"/><stop offset="0.996" stop-color="#6a0096"/></linearGradient><linearGradient id="gf5"><stop offset="0.004" stop-color="#68008e"/><stop offset="0.112" stop-color="#690092"/><stop offset="0.147" stop-color="#7000b9"/><stop offset="0.183" stop-color="#6a0096"/><stop offset="0.888" stop-color="#690092"/><stop offset="0.996" stop-color="#6a0094"/></linearGradient><linearGradient id="gf6"><stop offset="0.004" stop-color="#68008d"/><stop offset="0.112" stop-color="#690093"/><stop offset="0.147" stop-color="#7000b8"/><stop offset="0.183" stop-color="#690091"/><stop offset="0.996" stop-color="#690092"/></linearGradient><linearGradient id="gf7"><stop offset="0.004" stop-color="#68008e"/><stop offset="0.112" stop-color="#690092"/><stop offset="0.147" stop-color="#7000b8"/><stop offset="0.183" stop-color="#690091"/><stop offset="0.996" stop-color="#690091"/></linearGradient><linearGradient id="gf8"><stop offset="0.004" stop-color="#68008c"/><stop offset="0.112" stop-color="#690093"/><stop offset="0.147" stop-color="#7000b9"/><stop offset="0.183" stop-color="#6a0095"/><stop offset="0.996" stop-color="#6a0095"/></linearGradient><linearGradient id="gf9"><stop offset="0.004" stop-color="#68008c"/><stop offset="0.112" stop-color="#6a0095"/><stop offset="0.147" stop-color="#7000b9"/><stop offset="0.183" stop-color="#6a0094"/><stop offset="0.987" stop-color="#6a0094"/><stop offset="0.996" stop-color="#6a0094"/></linearGradient><linearGradient id="gf10"><stop offset="0.004" stop-color="#68008c"/><stop offset="0.112" stop-color="#6a0095"/><stop offset="0.147" stop-color="#7000b9"/><stop offset="0.183" stop-color="#6b0099"/><stop offset="0.710" stop-color="#6a0095"/><stop offset="0.996" stop-color="#690092"/></linearGradient><linearGradient id="gf11"><stop offset="0.004" stop-color="#68008c"/><stop offset="0.112" stop-color="#690091"/><stop offset="0.147" stop-color="#7000b7"/><stop offset="0.183" stop-color="#6b0099"/><stop offset="0.996" stop-color="#6a0095"/></linearGradient><linearGradient id="gf12"><stop offset="0.004" stop-color="#68008c"/><stop offset="0.112" stop-color="#6a0096"/><stop offset="0.147" stop-color="#6f00ba"/><stop offset="0.192" stop-color="#6b0099"/><stop offset="0.451" stop-color="#6a0095"/><stop offset="0.996" stop-color="#690093"/></linearGradient><linearGradient id="gf13"><stop offset="0.004" stop-color="#68008c"/><stop offset="0.112" stop-color="#6a0095"/><stop offset="0.147" stop-color="#6f00bb"/><stop offset="0.192" stop-color="#6c009e"/><stop offset="0.424" stop-color="#6a0098"/><stop offset="0.754" stop-color="#6b009a"/><stop offset="0.996" stop-color="#6a0097"/></linearGradient><linearGradient id="gf14"><stop offset="0.004" stop-color="#68008c"/><stop offset="0.112" stop-color="#6b0099"/><stop offset="0.147" stop-color="#6e00be"/><stop offset="0.192" stop-color="#6d00a5"/><stop offset="0.424" stop-color="#6b009c"/><stop offset="0.996" stop-color="#6c009f"/></linearGradient><linearGradient id="gf15"><stop offset="0.004" stop-color="#68008c"/><stop offset="0.112" stop-color="#6b0099"/><stop offset="0.147" stop-color="#6e00be"/><stop offset="0.192" stop-color="#6d00a4"/><stop offset="0.442" stop-color="#6c00a2"/><stop offset="0.996" stop-color="#6b009b"/></linearGradient><linearGradient id="gf16"><stop offset="0.004" stop-color="#68008c"/><stop offset="0.112" stop-color="#6b009b"/><stop offset="0.147" stop-color="#6e00be"/><stop offset="0.192" stop-color="#6d00a4"/><stop offset="0.424" stop-color="#6d00a7"/><stop offset="0.531" stop-color="#6d00a6"/><stop offset="0.996" stop-color="#6c00a0"/></linearGradient><linearGradient id="gf17"><stop offset="0.004" stop-color="#68008c"/><stop offset="0.112" stop-color="#6b009b"/><stop offset="0.147" stop-color="#6d00c1"/><stop offset="0.201" stop-color="#6e00ab"/><stop offset="0.406" stop-color="#6d00a6"/><stop offset="0.496" stop-color="#6f00b2"/><stop offset="0.808" stop-color="#6d00a5"/><stop offset="0.996" stop-color="#6c00a2"/></linearGradient><linearGradient id="gf18"><stop offset="0.004" stop-color="#68008e"/><stop offset="0.112" stop-color="#6b009c"/><stop offset="0.147" stop-color="#6c00c2"/><stop offset="0.192" stop-color="#6e00ac"/><stop offset="0.424" stop-color="#6f00b0"/><stop offset="0.540" stop-color="#6e00af"/><stop offset="0.996" stop-color="#6e00aa"/></linearGradient><linearGradient id="gf19"><stop offset="0.004" stop-color="#68008d"/><stop offset="0.103" stop-color="#690091"/><stop offset="0.147" stop-color="#6c00c3"/><stop offset="0.219" stop-color="#6f00b1"/><stop offset="0.415" stop-color="#6e00ae"/><stop offset="0.513" stop-color="#6f00b5"/><stop offset="0.996" stop-color="#6e00aa"/></linearGradient><linearGradient id="gf20"><stop offset="0.004" stop-color="#68008d"/><stop offset="0.103" stop-color="#6b009c"/><stop offset="0.147" stop-color="#6b00c6"/><stop offset="0.228" stop-color="#6f00b5"/><stop offset="0.406" stop-color="#6f00b1"/><stop offset="0.504" stop-color="#6f00ba"/><stop offset="0.710" stop-color="#6f00b1"/><stop offset="0.996" stop-color="#6e00af"/></linearGradient><linearGradient id="gf21"><stop offset="0.004" stop-color="#68008d"/><stop offset="0.094" stop-color="#690091"/><stop offset="0.147" stop-color="#6900c9"/><stop offset="0.353" stop-color="#6f00b2"/><stop offset="0.522" stop-color="#6f00bc"/><stop offset="0.996" stop-color="#6f00b4"/></linearGradient><linearGradient id="gf22"><stop offset="0.004" stop-color="#68008d"/><stop offset="0.094" stop-color="#6b0099"/><stop offset="0.138" stop-color="#6a00c8"/><stop offset="0.388" stop-color="#6f00b5"/><stop offset="0.496" stop-color="#6c00c2"/><stop offset="0.996" stop-color="#7000b7"/></linearGradient><linearGradient id="gf23"><stop offset="0.004" stop-color="#68008e"/><stop offset="0.094" stop-color="#6b009c"/><stop offset="0.138" stop-color="#6800ca"/><stop offset="0.406" stop-color="#6e00be"/><stop offset="0.513" stop-color="#6b00c4"/><stop offset="0.996" stop-color="#6f00ba"/></linearGradient><linearGradient id="gf24"><stop offset="0.004" stop-color="#68008c"/><stop offset="0.085" stop-color="#6a0094"/><stop offset="0.129" stop-color="#6b00c5"/><stop offset="0.174" stop-color="#6400cd"/><stop offset="0.397" stop-color="#6d00c0"/><stop offset="0.504" stop-color="#6a00c8"/><stop offset="0.969" stop-color="#6d00c0"/><stop offset="0.996" stop-color="#6d00c1"/></linearGradient><linearGradient id="gf25"><stop offset="0.004" stop-color="#68008c"/><stop offset="0.085" stop-color="#6b0099"/><stop offset="0.129" stop-color="#6a00c8"/><stop offset="0.174" stop-color="#6200cf"/><stop offset="0.406" stop-color="#6b00c4"/><stop offset="0.540" stop-color="#6a00c8"/><stop offset="0.996" stop-color="#6c00c3"/></linearGradient><linearGradient id="gf26"><stop offset="0.004" stop-color="#68008c"/><stop offset="0.085" stop-color="#6b009d"/><stop offset="0.129" stop-color="#6700cb"/><stop offset="0.174" stop-color="#5c00d5"/><stop offset="0.397" stop-color="#6b00c6"/><stop offset="0.522" stop-color="#6400cd"/><stop offset="0.996" stop-color="#6a00c7"/></linearGradient><linearGradient id="gf27"><stop offset="0.004" stop-color="#68008c"/><stop offset="0.076" stop-color="#6b009a"/><stop offset="0.121" stop-color="#6800c9"/><stop offset="0.165" stop-color="#4b00db"/><stop offset="0.254" stop-color="#6100d0"/><stop offset="0.406" stop-color="#6700cb"/><stop offset="0.504" stop-color="#5d00d4"/><stop offset="0.754" stop-color="#6700ca"/><stop offset="0.996" stop-color="#6800ca"/></linearGradient><linearGradient id="gf28"><stop offset="0.004" stop-color="#68008c"/><stop offset="0.076" stop-color="#6c009e"/><stop offset="0.112" stop-color="#6b00c5"/><stop offset="0.156" stop-color="#3e00df"/><stop offset="0.237" stop-color="#5e00d3"/><stop offset="0.406" stop-color="#6400ce"/><stop offset="0.487" stop-color="#5500d9"/><stop offset="0.692" stop-color="#6000d1"/><stop offset="0.996" stop-color="#6200cf"/></linearGradient><linearGradient id="gf29"><stop offset="0.004" stop-color="#68008e"/><stop offset="0.076" stop-color="#6c009f"/><stop offset="0.112" stop-color="#6a00c7"/><stop offset="0.156" stop-color="#3700e0"/><stop offset="0.237" stop-color="#5a00d6"/><stop offset="0.406" stop-color="#5e00d3"/><stop offset="0.478" stop-color="#4d00db"/><stop offset="0.674" stop-color="#6000d1"/><stop offset="0.996" stop-color="#5d00d4"/></linearGradient><linearGradient id="gf30"><stop offset="0.004" stop-color="#690092"/><stop offset="0.067" stop-color="#690093"/><stop offset="0.112" stop-color="#6b00c6"/><stop offset="0.147" stop-color="#3700e0"/><stop offset="0.192" stop-color="#4400dd"/><stop offset="0.263" stop-color="#5700d8"/><stop offset="0.406" stop-color="#5800d8"/><stop offset="0.478" stop-color="#4700dc"/><stop offset="0.621" stop-color="#5c00d5"/><stop offset="0.996" stop-color="#5b00d5"/></linearGradient><linearGradient id="gf31"><stop offset="0.004" stop-color="#690091"/><stop offset="0.067" stop-color="#6c009e"/><stop offset="0.103" stop-color="#6b00c4"/><stop offset="0.121" stop-color="#5600d9"/><stop offset="0.138" stop-color="#3302e2"/><stop offset="0.174" stop-color="#3302e2"/><stop offset="0.246" stop-color="#5600d8"/><stop offset="0.415" stop-color="#5000da"/><stop offset="0.496" stop-color="#4900dc"/><stop offset="0.683" stop-color="#5b00d5"/><stop offset="0.996" stop-color="#5a00d7"/></linearGradient><linearGradient id="gf32"><stop offset="0.004" stop-color="#690091"/><stop offset="0.067" stop-color="#6a0098"/><stop offset="0.103" stop-color="#6c00c3"/><stop offset="0.138" stop-color="#3202e2"/><stop offset="0.174" stop-color="#2e03e3"/><stop offset="0.254" stop-color="#5700d8"/><stop offset="0.415" stop-color="#4b00db"/><stop offset="0.504" stop-color="#4700dc"/><stop offset="0.799" stop-color="#5800d8"/><stop offset="0.996" stop-color="#5400d9"/></linearGradient><linearGradient id="gf33"><stop offset="0.004" stop-color="#68008c"/><stop offset="0.058" stop-color="#6b009d"/><stop offset="0.094" stop-color="#6b00c4"/><stop offset="0.112" stop-color="#5700d8"/><stop offset="0.129" stop-color="#3003e3"/><stop offset="0.165" stop-color="#2706e6"/><stop offset="0.246" stop-color="#4e00da"/><stop offset="0.388" stop-color="#5800d8"/><stop offset="0.487" stop-color="#3c00df"/><stop offset="0.674" stop-color="#5100da"/><stop offset="0.996" stop-color="#5800d8"/></linearGradient><linearGradient id="gf34"><stop offset="0.004" stop-color="#68008e"/><stop offset="0.058" stop-color="#6b0099"/><stop offset="0.094" stop-color="#6d00c1"/><stop offset="0.112" stop-color="#5500d9"/><stop offset="0.121" stop-color="#3a00e0"/><stop offset="0.156" stop-color="#2008e8"/><stop offset="0.281" stop-color="#5000da"/><stop offset="0.397" stop-color="#4900dc"/><stop offset="0.469" stop-color="#3401e1"/><stop offset="0.603" stop-color="#4d00db"/><stop offset="0.942" stop-color="#5000da"/><stop offset="0.996" stop-color="#5000da"/></linearGradient><linearGradient id="gf35"><stop offset="0.004" stop-color="#68008c"/><stop offset="0.049" stop-color="#690093"/><stop offset="0.094" stop-color="#6a00c8"/><stop offset="0.129" stop-color="#2706e6"/><stop offset="0.174" stop-color="#1d09e9"/><stop offset="0.281" stop-color="#4400dd"/><stop offset="0.406" stop-color="#3d00df"/><stop offset="0.504" stop-color="#3202e2"/><stop offset="0.754" stop-color="#4e00db"/><stop offset="0.844" stop-color="#5b00d5"/><stop offset="0.996" stop-color="#4200de"/></linearGradient><linearGradient id="gf36"><stop offset="0.004" stop-color="#6c009e"/><stop offset="0.058" stop-color="#6d00a8"/><stop offset="0.094" stop-color="#6400cd"/><stop offset="0.103" stop-color="#5500d9"/><stop offset="0.112" stop-color="#3800e0"/><stop offset="0.138" stop-color="#1c0aea"/><stop offset="0.192" stop-color="#2108e8"/><stop offset="0.290" stop-color="#4300dd"/><stop offset="0.415" stop-color="#3601e1"/><stop offset="0.504" stop-color="#3102e2"/><stop offset="0.656" stop-color="#3b00df"/><stop offset="0.772" stop-color="#3c00df"/><stop offset="0.951" stop-color="#4400dd"/><stop offset="0.996" stop-color="#3f00de"/></linearGradient><linearGradient id="gf37"><stop offset="0.004" stop-color="#6a0094"/><stop offset="0.049" stop-color="#6b009d"/><stop offset="0.085" stop-color="#6c00c3"/><stop offset="0.103" stop-color="#5200d9"/><stop offset="0.121" stop-color="#2d04e4"/><stop offset="0.156" stop-color="#180cec"/><stop offset="0.335" stop-color="#3e00df"/><stop offset="0.496" stop-color="#2b04e4"/><stop offset="0.701" stop-color="#3e00de"/><stop offset="0.879" stop-color="#3b00df"/><stop offset="0.996" stop-color="#3800e0"/></linearGradient><linearGradient id="gf38"><stop offset="0.004" stop-color="#68008c"/><stop offset="0.040" stop-color="#690093"/><stop offset="0.085" stop-color="#6900c9"/><stop offset="0.121" stop-color="#2905e5"/><stop offset="0.165" stop-color="#170cec"/><stop offset="0.308" stop-color="#3e00de"/><stop offset="0.406" stop-color="#3e00de"/><stop offset="0.513" stop-color="#2d04e4"/><stop offset="0.647" stop-color="#4200dd"/><stop offset="0.737" stop-color="#2606e6"/><stop offset="0.826" stop-color="#5200da"/><stop offset="0.996" stop-color="#3601e1"/></linearGradient><linearGradient id="gf39"><stop offset="0.004" stop-color="#68008c"/><stop offset="0.049" stop-color="#6b009b"/><stop offset="0.085" stop-color="#6b00c6"/><stop offset="0.121" stop-color="#2d04e4"/><stop offset="0.165" stop-color="#140eee"/><stop offset="0.281" stop-color="#2805e5"/><stop offset="0.531" stop-color="#2008e8"/><stop offset="0.754" stop-color="#2a05e5"/><stop offset="0.844" stop-color="#2207e7"/><stop offset="0.996" stop-color="#3501e1"/></linearGradient><linearGradient id="gf40"><stop offset="0.004" stop-color="#68008c"/><stop offset="0.040" stop-color="#6a0098"/><stop offset="0.076" stop-color="#6c00c4"/><stop offset="0.112" stop-color="#2d04e4"/><stop offset="0.156" stop-color="#0d1cf3"/><stop offset="0.254" stop-color="#2108e8"/><stop offset="0.415" stop-color="#1c0aea"/><stop offset="0.496" stop-color="#180cec"/><stop offset="0.656" stop-color="#2c04e4"/><stop offset="0.996" stop-color="#2805e5"/></linearGradient><linearGradient id="gf41"><stop offset="0.004" stop-color="#68008c"/><stop offset="0.040" stop-color="#6a0098"/><stop offset="0.076" stop-color="#6a00c8"/><stop offset="0.112" stop-color="#2606e6"/><stop offset="0.138" stop-color="#0d1bf3"/><stop offset="0.156" stop-color="#0831f8"/><stop offset="0.210" stop-color="#160ded"/><stop offset="0.308" stop-color="#2506e6"/><stop offset="0.487" stop-color="#150ded"/><stop offset="0.665" stop-color="#2f03e3"/><stop offset="0.996" stop-color="#1c0aea"/></linearGradient><linearGradient id="gf42"><stop offset="0.004" stop-color="#68008c"/><stop offset="0.040" stop-color="#690090"/><stop offset="0.076" stop-color="#6d00c0"/><stop offset="0.103" stop-color="#4700dc"/><stop offset="0.138" stop-color="#1012f0"/><stop offset="0.156" stop-color="#0b26f5"/><stop offset="0.228" stop-color="#1a0beb"/><stop offset="0.397" stop-color="#1e09e9"/><stop offset="0.549" stop-color="#0e18f2"/><stop offset="0.656" stop-color="#1e09e9"/><stop offset="0.754" stop-color="#120fef"/><stop offset="0.960" stop-color="#2c04e4"/><stop offset="0.996" stop-color="#3601e1"/></linearGradient><linearGradient id="gf43"><stop offset="0.004" stop-color="#6b009a"/><stop offset="0.058" stop-color="#6d00c0"/><stop offset="0.076" stop-color="#5c00d5"/><stop offset="0.112" stop-color="#1e09e9"/><stop offset="0.129" stop-color="#0c1ff4"/><stop offset="0.147" stop-color="#0835f8"/><stop offset="0.174" stop-color="#0a28f6"/><stop offset="0.210" stop-color="#110fef"/><stop offset="0.397" stop-color="#1a0beb"/><stop offset="0.478" stop-color="#0f14f1"/><stop offset="0.656" stop-color="#2008e8"/><stop offset="0.754" stop-color="#170ded"/><stop offset="0.862" stop-color="#2506e6"/><stop offset="0.996" stop-color="#1c0aea"/></linearGradient><linearGradient id="gf44"><stop offset="0.004" stop-color="#6e00ae"/><stop offset="0.058" stop-color="#6e00bf"/><stop offset="0.094" stop-color="#5100da"/><stop offset="0.129" stop-color="#0e17f2"/><stop offset="0.156" stop-color="#0832f8"/><stop offset="0.219" stop-color="#120fef"/><stop offset="0.496" stop-color="#140eee"/><stop offset="0.567" stop-color="#0f14f1"/><stop offset="0.808" stop-color="#2108e8"/><stop offset="0.996" stop-color="#110fef"/></linearGradient><linearGradient id="gf45"><stop offset="0.004" stop-color="#68008c"/><stop offset="0.049" stop-color="#6e00ae"/><stop offset="0.085" stop-color="#5c00d4"/><stop offset="0.112" stop-color="#2207e7"/><stop offset="0.121" stop-color="#1110f0"/><stop offset="0.138" stop-color="#083df8"/><stop offset="0.156" stop-color="#084cf8"/><stop offset="0.219" stop-color="#0f14f1"/><stop offset="0.656" stop-color="#170cec"/><stop offset="0.799" stop-color="#0d1cf3"/><stop offset="0.951" stop-color="#190cec"/><stop offset="0.996" stop-color="#140eee"/></linearGradient><linearGradient id="gf46"><stop offset="0.004" stop-color="#6b009d"/><stop offset="0.058" stop-color="#6c00c4"/><stop offset="0.085" stop-color="#4e00da"/><stop offset="0.112" stop-color="#1110f0"/><stop offset="0.129" stop-color="#0874f8"/><stop offset="0.138" stop-color="#0d98f8"/><stop offset="0.147" stop-color="#10a7f8"/><stop offset="0.156" stop-color="#0fa1f8"/><stop offset="0.165" stop-color="#0a8bf8"/><stop offset="0.183" stop-color="#0845f8"/><stop offset="0.210" stop-color="#0d1df3"/><stop offset="0.478" stop-color="#180cec"/><stop offset="0.772" stop-color="#1d0aea"/><stop offset="0.862" stop-color="#2207e7"/><stop offset="0.996" stop-color="#1f09e9"/></linearGradient><linearGradient id="gf47"><stop offset="0.004" stop-color="#6b009c"/><stop offset="0.049" stop-color="#6c00c2"/><stop offset="0.085" stop-color="#4200de"/><stop offset="0.103" stop-color="#1e09e9"/><stop offset="0.112" stop-color="#0a27f6"/><stop offset="0.129" stop-color="#10acf8"/><stop offset="0.138" stop-color="#10c3f2"/><stop offset="0.147" stop-color="#10cbef"/><stop offset="0.165" stop-color="#10aaf8"/><stop offset="0.174" stop-color="#0874f8"/><stop offset="0.183" stop-color="#0877f8"/><stop offset="0.192" stop-color="#0a8cf8"/><stop offset="0.210" stop-color="#0986f8"/><stop offset="0.228" stop-color="#083bf8"/><stop offset="0.246" stop-color="#0e17f2"/><stop offset="0.281" stop-color="#2108e8"/><stop offset="0.540" stop-color="#150ded"/><stop offset="0.781" stop-color="#1010f0"/><stop offset="0.835" stop-color="#0d1bf3"/><stop offset="0.951" stop-color="#140eee"/><stop offset="0.996" stop-color="#130fef"/></linearGradient><linearGradient id="gf48"><stop offset="0.004" stop-color="#6f00bb"/><stop offset="0.058" stop-color="#5e00d3"/><stop offset="0.103" stop-color="#2f03e3"/><stop offset="0.121" stop-color="#0e18f2"/><stop offset="0.129" stop-color="#0844f8"/><stop offset="0.138" stop-color="#10b5f8"/><stop offset="0.147" stop-color="#10d2eb"/><stop offset="0.156" stop-color="#1ae6d0"/><stop offset="0.165" stop-color="#10a9f8"/><stop offset="0.201" stop-color="#10bcf6"/><stop offset="0.210" stop-color="#10bbf7"/><stop offset="0.219" stop-color="#10a9f8"/><stop offset="0.237" stop-color="#0849f8"/><stop offset="0.290" stop-color="#083bf8"/><stop offset="0.308" stop-color="#130eee"/><stop offset="0.442" stop-color="#1a0beb"/><stop offset="0.612" stop-color="#0e18f2"/><stop offset="0.647" stop-color="#0c20f4"/><stop offset="0.746" stop-color="#140eee"/><stop offset="0.879" stop-color="#0d1bf3"/><stop offset="0.996" stop-color="#0b23f5"/></linearGradient><linearGradient id="gf49"><stop offset="0.004" stop-color="#6d00c1"/><stop offset="0.103" stop-color="#6300ce"/><stop offset="0.121" stop-color="#4e00db"/><stop offset="0.129" stop-color="#083df8"/><stop offset="0.138" stop-color="#10b6f8"/><stop offset="0.147" stop-color="#2cf69d"/><stop offset="0.156" stop-color="#0fa2f8"/><stop offset="0.174" stop-color="#10c2f3"/><stop offset="0.210" stop-color="#10d4ea"/><stop offset="0.228" stop-color="#10a9f8"/><stop offset="0.237" stop-color="#0a89f8"/><stop offset="0.272" stop-color="#0fa1f8"/><stop offset="0.308" stop-color="#0877f8"/><stop offset="0.335" stop-color="#083df8"/><stop offset="0.353" stop-color="#120fef"/><stop offset="0.415" stop-color="#1b0beb"/><stop offset="0.433" stop-color="#0d1ef3"/><stop offset="0.469" stop-color="#0c1ff4"/><stop offset="0.638" stop-color="#0877f8"/><stop offset="0.728" stop-color="#0844f8"/><stop offset="0.844" stop-color="#083df8"/><stop offset="0.933" stop-color="#0a26f6"/><stop offset="0.996" stop-color="#092bf7"/></linearGradient><linearGradient id="gf50"><stop offset="0.004" stop-color="#7000b9"/><stop offset="0.112" stop-color="#5e00d3"/><stop offset="0.121" stop-color="#0849f8"/><stop offset="0.129" stop-color="#10c7f0"/><stop offset="0.138" stop-color="#80ff20"/><stop offset="0.147" stop-color="#10c9f0"/><stop offset="0.165" stop-color="#21f0be"/><stop offset="0.183" stop-color="#29f5a5"/><stop offset="0.210" stop-color="#27f3ac"/><stop offset="0.219" stop-color="#1ae7cf"/><stop offset="0.228" stop-color="#10ccee"/><stop offset="0.237" stop-color="#10b7f8"/><stop offset="0.290" stop-color="#0fa5f8"/><stop offset="0.344" stop-color="#0847f8"/><stop offset="0.371" stop-color="#0833f8"/><stop offset="0.549" stop-color="#086ff8"/><stop offset="0.621" stop-color="#0836f8"/><stop offset="0.647" stop-color="#092df7"/><stop offset="0.772" stop-color="#0842f8"/><stop offset="0.996" stop-color="#083af8"/></linearGradient><linearGradient id="gf51"><stop offset="0.004" stop-color="#6c00c4"/><stop offset="0.103" stop-color="#6800ca"/><stop offset="0.112" stop-color="#1011f0"/><stop offset="0.121" stop-color="#0e9cf8"/><stop offset="0.129" stop-color="#20f0bf"/><stop offset="0.138" stop-color="#10aaf8"/><stop offset="0.156" stop-color="#10d9e7"/><stop offset="0.174" stop-color="#19e6d1"/><stop offset="0.210" stop-color="#1ae7cf"/><stop offset="0.228" stop-color="#10b9f7"/><stop offset="0.237" stop-color="#10a6f8"/><stop offset="0.299" stop-color="#0fa1f8"/><stop offset="0.424" stop-color="#0867f8"/><stop offset="0.478" stop-color="#0867f8"/><stop offset="0.558" stop-color="#087df8"/><stop offset="0.674" stop-color="#0867f8"/><stop offset="0.924" stop-color="#0869f8"/><stop offset="0.996" stop-color="#084ff8"/></linearGradient><linearGradient id="gf52"><stop offset="0.004" stop-color="#7000b9"/><stop offset="0.094" stop-color="#6200cf"/><stop offset="0.103" stop-color="#2008e8"/><stop offset="0.112" stop-color="#087ff8"/><stop offset="0.121" stop-color="#13dce1"/><stop offset="0.129" stop-color="#10aef8"/><stop offset="0.138" stop-color="#10d7e8"/><stop offset="0.156" stop-color="#28f4a9"/><stop offset="0.183" stop-color="#37f882"/><stop offset="0.210" stop-color="#34f888"/><stop offset="0.228" stop-color="#15e0db"/><stop offset="0.237" stop-color="#10cded"/><stop offset="0.317" stop-color="#10bcf6"/><stop offset="0.397" stop-color="#10aff8"/><stop offset="0.478" stop-color="#10b4f8"/><stop offset="0.576" stop-color="#0e9ef8"/><stop offset="0.746" stop-color="#10a8f8"/><stop offset="0.835" stop-color="#087af8"/><stop offset="0.996" stop-color="#086ef8"/></linearGradient><linearGradient id="gf53"><stop offset="0.004" stop-color="#6a00c8"/><stop offset="0.085" stop-color="#6500cd"/><stop offset="0.094" stop-color="#5a00d6"/><stop offset="0.103" stop-color="#083cf8"/><stop offset="0.112" stop-color="#10c0f4"/><stop offset="0.121" stop-color="#6dfc33"/><stop offset="0.129" stop-color="#10c7f0"/><stop offset="0.138" stop-color="#1ae7d0"/><stop offset="0.165" stop-color="#39f87f"/><stop offset="0.210" stop-color="#45f865"/><stop offset="0.228" stop-color="#23f2b6"/><stop offset="0.237" stop-color="#1ae8ce"/><stop offset="0.272" stop-color="#21f1bd"/><stop offset="0.344" stop-color="#10ccee"/><stop offset="0.460" stop-color="#10aaf8"/><stop offset="0.585" stop-color="#10b1f8"/><stop offset="0.826" stop-color="#0fa3f8"/><stop offset="0.924" stop-color="#10c4f2"/><stop offset="0.996" stop-color="#10c0f4"/></linearGradient><linearGradient id="gf54"><stop offset="0.004" stop-color="#6000d1"/><stop offset="0.085" stop-color="#6200cf"/><stop offset="0.094" stop-color="#150ded"/><stop offset="0.103" stop-color="#0b91f8"/><stop offset="0.112" stop-color="#14dddf"/><stop offset="0.121" stop-color="#10b9f8"/><stop offset="0.129" stop-color="#19e6d0"/><stop offset="0.147" stop-color="#39f87d"/><stop offset="0.156" stop-color="#49f85d"/><stop offset="0.174" stop-color="#5bfa45"/><stop offset="0.210" stop-color="#52f84e"/><stop offset="0.228" stop-color="#27f3ac"/><stop offset="0.237" stop-color="#1ceaca"/><stop offset="0.308" stop-color="#15e0db"/><stop offset="0.379" stop-color="#10cbee"/><stop offset="0.540" stop-color="#10d1eb"/><stop offset="0.772" stop-color="#10ceed"/><stop offset="0.844" stop-color="#10d0ec"/><stop offset="0.942" stop-color="#10bff4"/><stop offset="0.996" stop-color="#10c2f3"/></linearGradient><linearGradient id="gf55"><stop offset="0.004" stop-color="#6600cc"/><stop offset="0.076" stop-color="#6e00be"/><stop offset="0.085" stop-color="#6b00c5"/><stop offset="0.094" stop-color="#1110f0"/><stop offset="0.103" stop-color="#10a8f8"/><stop offset="0.121" stop-color="#10c6f1"/><stop offset="0.129" stop-color="#1eedc5"/><stop offset="0.147" stop-color="#43f869"/><stop offset="0.156" stop-color="#55f94b"/><stop offset="0.174" stop-color="#6bfc35"/><stop offset="0.210" stop-color="#6dfc33"/><stop offset="0.219" stop-color="#4ef853"/><stop offset="0.228" stop-color="#36f884"/><stop offset="0.237" stop-color="#2bf69e"/><stop offset="0.272" stop-color="#2ff794"/><stop offset="0.469" stop-color="#13dce2"/><stop offset="0.558" stop-color="#10c9ef"/><stop offset="0.665" stop-color="#1be8cd"/><stop offset="0.826" stop-color="#1eecc6"/><stop offset="0.888" stop-color="#10cfed"/><stop offset="0.924" stop-color="#10c6f1"/><stop offset="0.996" stop-color="#16e0da"/></linearGradient><linearGradient id="gf56"><stop offset="0.004" stop-color="#6700cb"/><stop offset="0.076" stop-color="#6800ca"/><stop offset="0.085" stop-color="#2506e6"/><stop offset="0.094" stop-color="#0865f8"/><stop offset="0.103" stop-color="#10d0ec"/><stop offset="0.112" stop-color="#10b5f8"/><stop offset="0.121" stop-color="#22f1b9"/><stop offset="0.129" stop-color="#40f870"/><stop offset="0.138" stop-color="#66fb3a"/><stop offset="0.147" stop-color="#85ff1d"/><stop offset="0.165" stop-color="#a6ff07"/><stop offset="0.210" stop-color="#a9ff05"/><stop offset="0.228" stop-color="#6dfc33"/><stop offset="0.237" stop-color="#5af946"/><stop offset="0.272" stop-color="#60fa40"/><stop offset="0.299" stop-color="#4bf85a"/><stop offset="0.353" stop-color="#27f4aa"/><stop offset="0.397" stop-color="#24f2b3"/><stop offset="0.549" stop-color="#37f883"/><stop offset="0.656" stop-color="#23f2b7"/><stop offset="0.835" stop-color="#1feec3"/><stop offset="0.924" stop-color="#27f3ab"/><stop offset="0.996" stop-color="#23f1b8"/></linearGradient><linearGradient id="gf57"><stop offset="0.004" stop-color="#6600cc"/><stop offset="0.076" stop-color="#5300d9"/><stop offset="0.085" stop-color="#084af8"/><stop offset="0.094" stop-color="#10caef"/><stop offset="0.103" stop-color="#d1fe00"/><stop offset="0.112" stop-color="#1eecc6"/><stop offset="0.121" stop-color="#48f861"/><stop offset="0.129" stop-color="#7cfe24"/><stop offset="0.138" stop-color="#a0ff0a"/><stop offset="0.156" stop-color="#b9ff00"/><stop offset="0.201" stop-color="#baff00"/><stop offset="0.210" stop-color="#bdff00"/><stop offset="0.219" stop-color="#b1ff00"/><stop offset="0.237" stop-color="#8bff19"/><stop offset="0.272" stop-color="#a6ff07"/><stop offset="0.335" stop-color="#75fd2b"/><stop offset="0.406" stop-color="#3ff872"/><stop offset="0.460" stop-color="#2ff893"/><stop offset="0.558" stop-color="#37f882"/><stop offset="0.647" stop-color="#2bf5a0"/><stop offset="0.737" stop-color="#3df875"/><stop offset="0.853" stop-color="#2cf69b"/><stop offset="0.951" stop-color="#2df69a"/><stop offset="0.996" stop-color="#30f891"/></linearGradient><linearGradient id="gf58"><stop offset="0.004" stop-color="#5f00d2"/><stop offset="0.067" stop-color="#6b00c6"/><stop offset="0.076" stop-color="#4100de"/><stop offset="0.085" stop-color="#0833f8"/><stop offset="0.094" stop-color="#10b8f8"/><stop offset="0.103" stop-color="#0b8ff8"/><stop offset="0.112" stop-color="#1eedc6"/><stop offset="0.121" stop-color="#48f860"/><stop offset="0.129" stop-color="#7fff21"/><stop offset="0.138" stop-color="#a4ff08"/><stop offset="0.156" stop-color="#bdff00"/><stop offset="0.210" stop-color="#c2ff00"/><stop offset="0.237" stop-color="#95ff12"/><stop offset="0.272" stop-color="#a1ff0a"/><stop offset="0.442" stop-color="#53f84d"/><stop offset="0.612" stop-color="#60fa40"/><stop offset="0.799" stop-color="#69fc37"/><stop offset="0.942" stop-color="#52f84e"/><stop offset="0.996" stop-color="#44f868"/></linearGradient><linearGradient id="gf59"><stop offset="0.004" stop-color="#5100da"/><stop offset="0.067" stop-color="#6400cd"/><stop offset="0.076" stop-color="#1110f0"/><stop offset="0.085" stop-color="#0d98f8"/><stop offset="0.094" stop-color="#4ef854"/><stop offset="0.103" stop-color="#10d0ec"/><stop offset="0.112" stop-color="#3bf87a"/><stop offset="0.121" stop-color="#88ff1b"/><stop offset="0.129" stop-color="#b8ff00"/><stop offset="0.147" stop-color="#d4fd00"/><stop offset="0.210" stop-color="#ddfb00"/><stop offset="0.237" stop-color="#d1fe00"/><stop offset="0.272" stop-color="#dafb00"/><stop offset="0.335" stop-color="#a5ff08"/><stop offset="0.371" stop-color="#87ff1b"/><stop offset="0.469" stop-color="#9dff0d"/><stop offset="0.567" stop-color="#82ff1f"/><stop offset="0.656" stop-color="#83ff1e"/><stop offset="0.737" stop-color="#71fd2f"/><stop offset="0.826" stop-color="#a1ff0a"/><stop offset="0.933" stop-color="#89ff1a"/><stop offset="0.996" stop-color="#92ff14"/></linearGradient><linearGradient id="gf60"><stop offset="0.004" stop-color="#6400cd"/><stop offset="0.058" stop-color="#5e00d2"/><stop offset="0.067" stop-color="#3a00e0"/><stop offset="0.076" stop-color="#0848f8"/><stop offset="0.085" stop-color="#10c9ef"/><stop offset="0.094" stop-color="#10abf8"/><stop offset="0.103" stop-color="#2af5a2"/><stop offset="0.112" stop-color="#7eff22"/><stop offset="0.121" stop-color="#c4ff00"/><stop offset="0.138" stop-color="#e8f800"/><stop offset="0.281" stop-color="#f7f100"/><stop offset="0.326" stop-color="#d7fc00"/><stop offset="0.371" stop-color="#adff02"/><stop offset="0.540" stop-color="#baff00"/><stop offset="0.683" stop-color="#adff02"/><stop offset="0.746" stop-color="#a0ff0b"/><stop offset="0.844" stop-color="#a8ff05"/><stop offset="0.924" stop-color="#9fff0b"/><stop offset="0.996" stop-color="#b4ff00"/></linearGradient><linearGradient id="gf61"><stop offset="0.004" stop-color="#1d09e9"/><stop offset="0.013" stop-color="#120fef"/><stop offset="0.022" stop-color="#150ded"/><stop offset="0.049" stop-color="#4b00db"/><stop offset="0.058" stop-color="#5000da"/><stop offset="0.067" stop-color="#0e17f2"/><stop offset="0.076" stop-color="#10a6f8"/><stop offset="0.085" stop-color="#3cf878"/><stop offset="0.094" stop-color="#12dbe3"/><stop offset="0.103" stop-color="#4ef854"/><stop offset="0.112" stop-color="#b8ff00"/><stop offset="0.121" stop-color="#e2f900"/><stop offset="0.147" stop-color="#f4f200"/><stop offset="0.228" stop-color="#fbea00"/><stop offset="0.272" stop-color="#ffe100"/><stop offset="0.362" stop-color="#defb00"/><stop offset="0.629" stop-color="#d4fd00"/><stop offset="0.996" stop-color="#e3f900"/></linearGradient><linearGradient id="gf62"><stop offset="0.004" stop-color="#1b0beb"/><stop offset="0.013" stop-color="#0c1ef4"/><stop offset="0.022" stop-color="#0f15f1"/><stop offset="0.049" stop-color="#5000da"/><stop offset="0.058" stop-color="#4d00db"/><stop offset="0.067" stop-color="#0839f8"/><stop offset="0.076" stop-color="#10c0f4"/><stop offset="0.085" stop-color="#58f948"/><stop offset="0.094" stop-color="#fbea00"/><stop offset="0.103" stop-color="#87ff1b"/><stop offset="0.112" stop-color="#d8fc00"/><stop offset="0.121" stop-color="#f1f400"/><stop offset="0.192" stop-color="#ffda00"/><stop offset="0.228" stop-color="#ffc100"/><stop offset="0.246" stop-color="#ffae00"/><stop offset="0.281" stop-color="#ffb300"/><stop offset="0.353" stop-color="#f9ed00"/><stop offset="0.478" stop-color="#eef500"/><stop offset="0.665" stop-color="#f9ef00"/><stop offset="0.888" stop-color="#ebf600"/><stop offset="0.996" stop-color="#eaf700"/></linearGradient><linearGradient id="gf63"><stop offset="0.004" stop-color="#2f03e3"/><stop offset="0.049" stop-color="#3700e0"/><stop offset="0.058" stop-color="#1012f0"/><stop offset="0.067" stop-color="#0ea0f8"/><stop offset="0.076" stop-color="#24f2b4"/><stop offset="0.085" stop-color="#ffd4f1"/><stop offset="0.094" stop-color="#ffd4f1"/><stop offset="0.103" stop-color="#e5f900"/><stop offset="0.112" stop-color="#fde400"/><stop offset="0.129" stop-color="#f9ee00"/><stop offset="0.174" stop-color="#f9ed00"/><stop offset="0.228" stop-color="#ffb000"/><stop offset="0.237" stop-color="#ff9d00"/><stop offset="0.281" stop-color="#ffa000"/><stop offset="0.371" stop-color="#ffdd00"/><stop offset="0.621" stop-color="#fde500"/><stop offset="0.781" stop-color="#ffe100"/><stop offset="0.871" stop-color="#ffdd00"/><stop offset="0.996" stop-color="#fde400"/></linearGradient><linearGradient id="gf64"><stop offset="0.004" stop-color="#3401e1"/><stop offset="0.049" stop-color="#4300dd"/><stop offset="0.058" stop-color="#092bf7"/><stop offset="0.067" stop-color="#10b8f8"/><stop offset="0.076" stop-color="#10a9f8"/><stop offset="0.085" stop-color="#ffb9ea"/><stop offset="0.094" stop-color="#ffb9ea"/><stop offset="0.103" stop-color="#ffe000"/><stop offset="0.112" stop-color="#ffc000"/><stop offset="0.121" stop-color="#fde400"/><stop offset="0.165" stop-color="#f9ed00"/><stop offset="0.183" stop-color="#ffd200"/><stop offset="0.210" stop-color="#ff9000"/><stop offset="0.228" stop-color="#ff7600"/><stop offset="0.237" stop-color="#ff5800"/><stop offset="0.272" stop-color="#ff5400"/><stop offset="0.362" stop-color="#ffbd00"/><stop offset="0.594" stop-color="#ffc400"/><stop offset="0.853" stop-color="#ffcb00"/><stop offset="0.969" stop-color="#ffd100"/><stop offset="0.996" stop-color="#ffcf00"/></linearGradient><linearGradient id="gf65"><stop offset="0.004" stop-color="#0e1af2"/><stop offset="0.013" stop-color="#0841f8"/><stop offset="0.022" stop-color="#0836f8"/><stop offset="0.031" stop-color="#150ded"/><stop offset="0.040" stop-color="#2b04e4"/><stop offset="0.049" stop-color="#2008e8"/><stop offset="0.058" stop-color="#0865f8"/><stop offset="0.067" stop-color="#10cded"/><stop offset="0.076" stop-color="#ffb1e8"/><stop offset="0.094" stop-color="#ffafe8"/><stop offset="0.103" stop-color="#ffb400"/><stop offset="0.112" stop-color="#ffa500"/><stop offset="0.121" stop-color="#ffbd00"/><stop offset="0.156" stop-color="#ffdd00"/><stop offset="0.174" stop-color="#ffc800"/><stop offset="0.201" stop-color="#ff6600"/><stop offset="0.210" stop-color="#ff5000"/><stop offset="0.228" stop-color="#ff4500"/><stop offset="0.237" stop-color="#ff2f01"/><stop offset="0.281" stop-color="#ff3400"/><stop offset="0.317" stop-color="#ff5800"/><stop offset="0.362" stop-color="#ff9300"/><stop offset="0.433" stop-color="#ff9400"/><stop offset="0.603" stop-color="#ff9d00"/><stop offset="0.835" stop-color="#ffa200"/><stop offset="0.942" stop-color="#ffaf00"/><stop offset="0.996" stop-color="#ffaa00"/></linearGradient><linearGradient id="gf66"><stop offset="0.004" stop-color="#0840f8"/><stop offset="0.013" stop-color="#0ea0f8"/><stop offset="0.022" stop-color="#0b8ef8"/><stop offset="0.031" stop-color="#0b26f5"/><stop offset="0.040" stop-color="#2606e6"/><stop offset="0.049" stop-color="#0c20f4"/><stop offset="0.058" stop-color="#10acf8"/><stop offset="0.067" stop-color="#bdff00"/><stop offset="0.076" stop-color="#ffbdeb"/><stop offset="0.094" stop-color="#ffbeeb"/><stop offset="0.103" stop-color="#ff9900"/><stop offset="0.112" stop-color="#ff9e00"/><stop offset="0.121" stop-color="#ffb800"/><stop offset="0.156" stop-color="#ffd800"/><stop offset="0.174" stop-color="#ffc400"/><stop offset="0.183" stop-color="#ffa900"/><stop offset="0.201" stop-color="#ff4c00"/><stop offset="0.210" stop-color="#ff3000"/><stop offset="0.228" stop-color="#ff2b03"/><stop offset="0.246" stop-color="#ff130e"/><stop offset="0.281" stop-color="#ff121d"/><stop offset="0.317" stop-color="#ff1a0b"/><stop offset="0.397" stop-color="#ff4900"/><stop offset="0.746" stop-color="#ff5b00"/><stop offset="0.826" stop-color="#ff7900"/><stop offset="0.933" stop-color="#ff6000"/><stop offset="0.996" stop-color="#ff6800"/></linearGradient><linearGradient id="gf67"><stop offset="0.004" stop-color="#0867f8"/><stop offset="0.013" stop-color="#10abf8"/><stop offset="0.022" stop-color="#0e9cf8"/><stop offset="0.031" stop-color="#0840f8"/><stop offset="0.040" stop-color="#130fef"/><stop offset="0.049" stop-color="#0987f8"/><stop offset="0.058" stop-color="#12dbe3"/><stop offset="0.067" stop-color="#ffd8f3"/><stop offset="0.094" stop-color="#ffd5f2"/><stop offset="0.103" stop-color="#ff7d00"/><stop offset="0.112" stop-color="#ffa600"/><stop offset="0.121" stop-color="#ffbd00"/><stop offset="0.156" stop-color="#ffd600"/><stop offset="0.174" stop-color="#ffbe00"/><stop offset="0.192" stop-color="#ff7600"/><stop offset="0.201" stop-color="#ff4a00"/><stop offset="0.210" stop-color="#ff2f01"/><stop offset="0.228" stop-color="#ff1b0b"/><stop offset="0.237" stop-color="#ff121c"/><stop offset="0.290" stop-color="#ff121f"/><stop offset="0.344" stop-color="#ff1a0b"/><stop offset="0.433" stop-color="#ff4200"/><stop offset="0.665" stop-color="#ff3d00"/><stop offset="0.746" stop-color="#ff4700"/><stop offset="0.835" stop-color="#ff3400"/><stop offset="0.933" stop-color="#ff3d00"/><stop offset="0.996" stop-color="#ff2f00"/></linearGradient><linearGradient id="gf68"><stop offset="0.004" stop-color="#150eee"/><stop offset="0.031" stop-color="#190beb"/><stop offset="0.040" stop-color="#082ff8"/><stop offset="0.049" stop-color="#10b1f8"/><stop offset="0.058" stop-color="#48f861"/><stop offset="0.067" stop-color="#ffc9ee"/><stop offset="0.094" stop-color="#ffc7ee"/><stop offset="0.103" stop-color="#ff7300"/><stop offset="0.112" stop-color="#ffba00"/><stop offset="0.147" stop-color="#fee300"/><stop offset="0.165" stop-color="#ffe100"/><stop offset="0.183" stop-color="#ffbc00"/><stop offset="0.210" stop-color="#ff6d00"/><stop offset="0.219" stop-color="#ff4500"/><stop offset="0.228" stop-color="#ff121c"/><stop offset="0.237" stop-color="#ff3a7f"/><stop offset="0.263" stop-color="#ff4893"/><stop offset="0.281" stop-color="#ff3c82"/><stop offset="0.317" stop-color="#ff131f"/><stop offset="0.362" stop-color="#ff190c"/><stop offset="0.442" stop-color="#ff121f"/><stop offset="0.469" stop-color="#ff121c"/><stop offset="0.522" stop-color="#ff2008"/><stop offset="0.558" stop-color="#ff2804"/><stop offset="0.638" stop-color="#ff1118"/><stop offset="0.737" stop-color="#ff1324"/><stop offset="0.808" stop-color="#ff1a0b"/><stop offset="0.969" stop-color="#ff130e"/><stop offset="0.996" stop-color="#ff1011"/></linearGradient><linearGradient id="gf69"><stop offset="0.004" stop-color="#2a05e5"/><stop offset="0.031" stop-color="#2606e6"/><stop offset="0.040" stop-color="#0853f8"/><stop offset="0.049" stop-color="#10d1ec"/><stop offset="0.058" stop-color="#ffac00"/><stop offset="0.067" stop-color="#ffc9ee"/><stop offset="0.094" stop-color="#ffceef"/><stop offset="0.103" stop-color="#ff4b00"/><stop offset="0.112" stop-color="#ffa400"/><stop offset="0.156" stop-color="#ffd500"/><stop offset="0.174" stop-color="#ffc900"/><stop offset="0.210" stop-color="#ff9200"/><stop offset="0.219" stop-color="#ff5000"/><stop offset="0.228" stop-color="#ff1f4f"/><stop offset="0.237" stop-color="#ff83cf"/><stop offset="0.263" stop-color="#ff86d1"/><stop offset="0.299" stop-color="#ff61b1"/><stop offset="0.344" stop-color="#ff1a44"/><stop offset="0.371" stop-color="#ff1114"/><stop offset="0.496" stop-color="#ff1115"/><stop offset="0.612" stop-color="#ff1117"/><stop offset="0.888" stop-color="#ff1a0b"/><stop offset="0.996" stop-color="#ff1110"/></linearGradient><linearGradient id="gf70"><stop offset="0.004" stop-color="#120fef"/><stop offset="0.013" stop-color="#0b24f5"/><stop offset="0.022" stop-color="#0d1bf3"/><stop offset="0.031" stop-color="#0b25f5"/><stop offset="0.040" stop-color="#0b91f8"/><stop offset="0.049" stop-color="#15e0db"/><stop offset="0.058" stop-color="#ffbdeb"/><stop offset="0.094" stop-color="#ffb7ea"/><stop offset="0.103" stop-color="#ff6d00"/><stop offset="0.112" stop-color="#ffc400"/><stop offset="0.156" stop-color="#faea00"/><stop offset="0.183" stop-color="#ffdd00"/><stop offset="0.210" stop-color="#ffbc00"/><stop offset="0.219" stop-color="#ff6e00"/><stop offset="0.228" stop-color="#ff2356"/><stop offset="0.237" stop-color="#ff9fe0"/><stop offset="0.290" stop-color="#ffa9e4"/><stop offset="0.335" stop-color="#ff6cbc"/><stop offset="0.397" stop-color="#ff2861"/><stop offset="0.460" stop-color="#ff1634"/><stop offset="0.558" stop-color="#ff2962"/><stop offset="0.647" stop-color="#ff2355"/><stop offset="0.737" stop-color="#ff3273"/><stop offset="0.942" stop-color="#ff2151"/><stop offset="0.996" stop-color="#ff2356"/></linearGradient><linearGradient id="gf71"><stop offset="0.004" stop-color="#0850f8"/><stop offset="0.013" stop-color="#10aaf8"/><stop offset="0.022" stop-color="#0d99f8"/><stop offset="0.031" stop-color="#10abf8"/><stop offset="0.040" stop-color="#10ceed"/><stop offset="0.049" stop-color="#10c5f1"/><stop offset="0.058" stop-color="#ffc8ee"/><stop offset="0.094" stop-color="#ffc9ee"/><stop offset="0.103" stop-color="#ff5c00"/><stop offset="0.112" stop-color="#ffc700"/><stop offset="0.156" stop-color="#fee300"/><stop offset="0.183" stop-color="#ffc800"/><stop offset="0.210" stop-color="#ffa800"/><stop offset="0.219" stop-color="#ff4f00"/><stop offset="0.228" stop-color="#ff3d83"/><stop offset="0.237" stop-color="#ffb3e9"/><stop offset="0.299" stop-color="#ffade7"/><stop offset="0.335" stop-color="#ff9dde"/><stop offset="0.371" stop-color="#ff75c4"/><stop offset="0.460" stop-color="#ff8ed7"/><stop offset="0.558" stop-color="#ff5dad"/><stop offset="0.656" stop-color="#ff71c1"/><stop offset="0.737" stop-color="#ff8ed6"/><stop offset="0.826" stop-color="#ff62b2"/><stop offset="0.951" stop-color="#ff78c6"/><stop offset="0.996" stop-color="#ff77c5"/></linearGradient><linearGradient id="gf72"><stop offset="0.004" stop-color="#0845f8"/><stop offset="0.013" stop-color="#0983f8"/><stop offset="0.022" stop-color="#0881f8"/><stop offset="0.031" stop-color="#10c2f3"/><stop offset="0.040" stop-color="#1ceacb"/><stop offset="0.049" stop-color="#ffccef"/><stop offset="0.094" stop-color="#ffc9ee"/><stop offset="0.103" stop-color="#ff4400"/><stop offset="0.112" stop-color="#ffc200"/><stop offset="0.156" stop-color="#fde400"/><stop offset="0.183" stop-color="#ffcb00"/><stop offset="0.210" stop-color="#ffae00"/><stop offset="0.219" stop-color="#ff4f00"/><stop offset="0.228" stop-color="#ff458f"/><stop offset="0.237" stop-color="#ffbbeb"/><stop offset="0.353" stop-color="#ffc0ec"/><stop offset="0.478" stop-color="#ffade7"/><stop offset="0.594" stop-color="#ffb2e9"/><stop offset="0.710" stop-color="#ffb6ea"/><stop offset="0.987" stop-color="#ffaae5"/><stop offset="0.996" stop-color="#ffaae5"/></linearGradient><linearGradient id="gf73"><stop offset="0.004" stop-color="#1f09e9"/><stop offset="0.013" stop-color="#1e09e9"/><stop offset="0.022" stop-color="#0834f8"/><stop offset="0.031" stop-color="#10b6f8"/><stop offset="0.040" stop-color="#75fd2b"/><stop offset="0.049" stop-color="#ffbdeb"/><stop offset="0.094" stop-color="#ffb5e9"/><stop offset="0.103" stop-color="#ff4100"/><stop offset="0.112" stop-color="#ffbc00"/><stop offset="0.156" stop-color="#fde500"/><stop offset="0.183" stop-color="#ffd200"/><stop offset="0.210" stop-color="#ffba00"/><stop offset="0.219" stop-color="#ff5600"/><stop offset="0.228" stop-color="#ff4996"/><stop offset="0.237" stop-color="#ffc5ed"/><stop offset="0.362" stop-color="#ffc8ee"/><stop offset="0.478" stop-color="#ff9ddf"/><stop offset="0.567" stop-color="#ffa2e1"/><stop offset="0.656" stop-color="#ffb7ea"/><stop offset="0.763" stop-color="#ffb2e8"/><stop offset="0.996" stop-color="#ffb7ea"/></linearGradient><linearGradient id="gf74"><stop offset="0.004" stop-color="#4b00db"/><stop offset="0.013" stop-color="#4800dc"/><stop offset="0.022" stop-color="#0b24f5"/><stop offset="0.031" stop-color="#10b5f8"/><stop offset="0.040" stop-color="#ff91d9"/><stop offset="0.049" stop-color="#ffb7ea"/><stop offset="0.085" stop-color="#ffbfec"/><stop offset="0.094" stop-color="#ff9cde"/><stop offset="0.103" stop-color="#ff3f00"/><stop offset="0.112" stop-color="#ffb000"/><stop offset="0.156" stop-color="#fee300"/><stop offset="0.210" stop-color="#ffc800"/><stop offset="0.219" stop-color="#ff7600"/><stop offset="0.228" stop-color="#ff2152"/><stop offset="0.237" stop-color="#ff98dc"/><stop offset="0.281" stop-color="#ff91d8"/><stop offset="0.379" stop-color="#ffccef"/><stop offset="0.576" stop-color="#ffc8ee"/><stop offset="0.665" stop-color="#ffbbeb"/><stop offset="0.772" stop-color="#ffbaea"/><stop offset="0.853" stop-color="#ffb7ea"/><stop offset="0.951" stop-color="#ffbdeb"/><stop offset="0.996" stop-color="#ffb8ea"/></linearGradient><linearGradient id="gf75"><stop offset="0.004" stop-color="#3202e2"/><stop offset="0.013" stop-color="#150ded"/><stop offset="0.022" stop-color="#0b91f8"/><stop offset="0.031" stop-color="#2cf69d"/><stop offset="0.040" stop-color="#ffc9ee"/><stop offset="0.085" stop-color="#ffd0f0"/><stop offset="0.094" stop-color="#ff90d8"/><stop offset="0.103" stop-color="#ff2c02"/><stop offset="0.112" stop-color="#ff8e00"/><stop offset="0.156" stop-color="#ffbb00"/><stop offset="0.183" stop-color="#ffa200"/><stop offset="0.210" stop-color="#ff7700"/><stop offset="0.219" stop-color="#ff2b02"/><stop offset="0.228" stop-color="#ff4895"/><stop offset="0.237" stop-color="#ffa7e3"/><stop offset="0.272" stop-color="#ffa1e1"/><stop offset="0.353" stop-color="#ffbbeb"/><stop offset="0.567" stop-color="#ffbceb"/><stop offset="0.647" stop-color="#ffccef"/><stop offset="0.737" stop-color="#ff9cde"/><stop offset="0.951" stop-color="#ffb0e8"/><stop offset="0.996" stop-color="#ffaae5"/></linearGradient><linearGradient id="gf76"><stop offset="0.004" stop-color="#3501e1"/><stop offset="0.013" stop-color="#082ef8"/><stop offset="0.022" stop-color="#10bcf6"/><stop offset="0.031" stop-color="#f2f300"/><stop offset="0.040" stop-color="#ffbaeb"/><stop offset="0.085" stop-color="#ffc3ed"/><stop offset="0.094" stop-color="#ff64b4"/><stop offset="0.103" stop-color="#ff3000"/><stop offset="0.112" stop-color="#ff8b00"/><stop offset="0.156" stop-color="#ffb300"/><stop offset="0.174" stop-color="#ff9d00"/><stop offset="0.201" stop-color="#ff4300"/><stop offset="0.210" stop-color="#ff3000"/><stop offset="0.219" stop-color="#ff152e"/><stop offset="0.228" stop-color="#ff428b"/><stop offset="0.237" stop-color="#ff76c5"/><stop offset="0.263" stop-color="#ff6aba"/><stop offset="0.344" stop-color="#ffa2e1"/><stop offset="0.638" stop-color="#ffbeeb"/><stop offset="0.737" stop-color="#ffa4e2"/><stop offset="0.826" stop-color="#ffc1ec"/><stop offset="0.960" stop-color="#ffa0e0"/><stop offset="0.996" stop-color="#ff9cde"/></linearGradient><linearGradient id="gf77"><stop offset="0.004" stop-color="#170ded"/><stop offset="0.013" stop-color="#0a8bf8"/><stop offset="0.022" stop-color="#1decc7"/><stop offset="0.031" stop-color="#ffbbeb"/><stop offset="0.085" stop-color="#ffbfec"/><stop offset="0.094" stop-color="#ff306f"/><stop offset="0.103" stop-color="#ff3c00"/><stop offset="0.112" stop-color="#ffaa00"/><stop offset="0.156" stop-color="#ffda00"/><stop offset="0.174" stop-color="#ffc700"/><stop offset="0.183" stop-color="#ffaf00"/><stop offset="0.201" stop-color="#ff5a00"/><stop offset="0.219" stop-color="#ff1c0a"/><stop offset="0.228" stop-color="#ff152d"/><stop offset="0.237" stop-color="#ff2356"/><stop offset="0.263" stop-color="#ff1d4a"/><stop offset="0.299" stop-color="#ff3070"/><stop offset="0.326" stop-color="#ff62b2"/><stop offset="0.379" stop-color="#ff8dd6"/><stop offset="0.487" stop-color="#ffa1e0"/><stop offset="0.585" stop-color="#ffaae5"/><stop offset="0.647" stop-color="#ffb4e9"/><stop offset="0.737" stop-color="#ff91d8"/><stop offset="0.924" stop-color="#ffb3e9"/><stop offset="0.996" stop-color="#ff9edf"/></linearGradient><linearGradient id="gf78"><stop offset="0.004" stop-color="#0854f8"/><stop offset="0.013" stop-color="#10cfec"/><stop offset="0.022" stop-color="#87ff1c"/><stop offset="0.031" stop-color="#ffd3f1"/><stop offset="0.085" stop-color="#ffceef"/><stop offset="0.094" stop-color="#ff5f00"/><stop offset="0.103" stop-color="#ff5800"/><stop offset="0.112" stop-color="#ff9900"/><stop offset="0.156" stop-color="#ffd000"/><stop offset="0.174" stop-color="#ffbe00"/><stop offset="0.183" stop-color="#ffa300"/><stop offset="0.201" stop-color="#ff4c00"/><stop offset="0.219" stop-color="#ff2406"/><stop offset="0.237" stop-color="#ff1219"/><stop offset="0.272" stop-color="#ff1116"/><stop offset="0.299" stop-color="#ff121f"/><stop offset="0.362" stop-color="#ff3b80"/><stop offset="0.397" stop-color="#ff61b1"/><stop offset="0.460" stop-color="#ff7bc8"/><stop offset="0.549" stop-color="#ff51a1"/><stop offset="0.647" stop-color="#ff78c6"/><stop offset="0.933" stop-color="#ff63b3"/><stop offset="0.996" stop-color="#ff6fbf"/></linearGradient><linearGradient id="gf79"><stop offset="0.004" stop-color="#0d98f8"/><stop offset="0.013" stop-color="#22f1b9"/><stop offset="0.022" stop-color="#ffcbef"/><stop offset="0.067" stop-color="#ffc1ec"/><stop offset="0.076" stop-color="#ff121f"/><stop offset="0.085" stop-color="#ff4f00"/><stop offset="0.094" stop-color="#ff7e00"/><stop offset="0.121" stop-color="#ff8600"/><stop offset="0.156" stop-color="#ffa900"/><stop offset="0.174" stop-color="#ff9100"/><stop offset="0.201" stop-color="#ff2c02"/><stop offset="0.210" stop-color="#ff180c"/><stop offset="0.219" stop-color="#ff1e09"/><stop offset="0.237" stop-color="#ff3d00"/><stop offset="0.272" stop-color="#ff4700"/><stop offset="0.335" stop-color="#ff130e"/><stop offset="0.397" stop-color="#ff1d4b"/><stop offset="0.469" stop-color="#ff2153"/><stop offset="0.576" stop-color="#ff1637"/><stop offset="0.674" stop-color="#ff1840"/><stop offset="0.835" stop-color="#ff2962"/><stop offset="0.933" stop-color="#ff2151"/><stop offset="0.996" stop-color="#ff265d"/></linearGradient><linearGradient id="gf80"><stop offset="0.004" stop-color="#10c4f2"/><stop offset="0.013" stop-color="#fce700"/><stop offset="0.022" stop-color="#ffbceb"/><stop offset="0.049" stop-color="#ffbaeb"/><stop offset="0.058" stop-color="#ff3e85"/><stop offset="0.067" stop-color="#ff3e00"/><stop offset="0.076" stop-color="#ff8d00"/><stop offset="0.121" stop-color="#ff8b00"/><stop offset="0.156" stop-color="#ffa600"/><stop offset="0.174" stop-color="#ff8e00"/><stop offset="0.201" stop-color="#ff4000"/><stop offset="0.210" stop-color="#ff3300"/><stop offset="0.219" stop-color="#ff4200"/><stop offset="0.237" stop-color="#ff9a00"/><stop offset="0.263" stop-color="#ffb000"/><stop offset="0.290" stop-color="#ff9900"/><stop offset="0.326" stop-color="#ff5700"/><stop offset="0.397" stop-color="#ff1b0b"/><stop offset="0.433" stop-color="#ff121d"/><stop offset="0.460" stop-color="#ff152c"/><stop offset="0.531" stop-color="#ff180c"/><stop offset="0.763" stop-color="#ff1116"/><stop offset="0.826" stop-color="#ff1426"/><stop offset="0.915" stop-color="#ff1b0b"/><stop offset="0.996" stop-color="#ff1010"/></linearGradient><linearGradient id="gf81"><stop offset="0.004" stop-color="#1debc8"/><stop offset="0.013" stop-color="#ffaae5"/><stop offset="0.040" stop-color="#ffa9e5"/><stop offset="0.049" stop-color="#ff9b00"/><stop offset="0.067" stop-color="#ffc400"/><stop offset="0.129" stop-color="#ffd200"/><stop offset="0.156" stop-color="#ffe000"/><stop offset="0.192" stop-color="#ffac00"/><stop offset="0.210" stop-color="#ff9300"/><stop offset="0.219" stop-color="#ff9e00"/><stop offset="0.237" stop-color="#ffcb00"/><stop offset="0.281" stop-color="#ffd000"/><stop offset="0.317" stop-color="#ffb800"/><stop offset="0.362" stop-color="#ff5200"/><stop offset="0.424" stop-color="#ff4200"/><stop offset="0.710" stop-color="#ff3f00"/><stop offset="0.853" stop-color="#ff4600"/><stop offset="0.933" stop-color="#ff3f00"/><stop offset="0.996" stop-color="#ff4e00"/></linearGradient><linearGradient id="gf82"><stop offset="0.004" stop-color="#10b5f8"/><stop offset="0.013" stop-color="#edf600"/><stop offset="0.022" stop-color="#edf500"/><stop offset="0.031" stop-color="#ff8200"/><stop offset="0.040" stop-color="#ff6300"/><stop offset="0.049" stop-color="#ff5800"/><stop offset="0.058" stop-color="#ffa700"/><stop offset="0.112" stop-color="#ffbc00"/><stop offset="0.147" stop-color="#fce800"/><stop offset="0.174" stop-color="#fbe800"/><stop offset="0.219" stop-color="#ffc300"/><stop offset="0.254" stop-color="#ffc700"/><stop offset="0.344" stop-color="#ffb500"/><stop offset="0.424" stop-color="#ff8a00"/><stop offset="0.496" stop-color="#ff8f00"/><stop offset="0.567" stop-color="#ff9800"/><stop offset="0.647" stop-color="#ff8d00"/><stop offset="0.754" stop-color="#ffa700"/><stop offset="0.996" stop-color="#ff9800"/></linearGradient><linearGradient id="gf83"><stop offset="0.004" stop-color="#6400ce"/><stop offset="0.022" stop-color="#6300cf"/><stop offset="0.031" stop-color="#76fe2a"/><stop offset="0.040" stop-color="#ff3200"/><stop offset="0.049" stop-color="#ff9d00"/><stop offset="0.094" stop-color="#ff9e00"/><stop offset="0.147" stop-color="#fbea00"/><stop offset="0.183" stop-color="#f8f000"/><stop offset="0.290" stop-color="#ffcf00"/><stop offset="0.478" stop-color="#ffbb00"/><stop offset="0.701" stop-color="#ffc000"/><stop offset="0.996" stop-color="#ffd100"/></linearGradient><clipPath id="clf"><rect x="406.6" y="539.6" width="223.6" height="168.0"/></clipPath></defs><g shape-rendering="crispEdges"><rect x="406.6" y="539.60" width="223.6" height="2.60" fill="#69008f"/><rect x="406.6" y="541.60" width="223.6" height="2.60" fill="url(#gf1)"/><rect x="406.6" y="543.60" width="223.6" height="2.60" fill="url(#gf2)"/><rect x="406.6" y="545.60" width="223.6" height="2.60" fill="url(#gf3)"/><rect x="406.6" y="547.60" width="223.6" height="2.60" fill="url(#gf4)"/><rect x="406.6" y="549.60" width="223.6" height="2.60" fill="url(#gf5)"/><rect x="406.6" y="551.60" width="223.6" height="2.60" fill="url(#gf6)"/><rect x="406.6" y="553.60" width="223.6" height="2.60" fill="url(#gf7)"/><rect x="406.6" y="555.60" width="223.6" height="2.60" fill="url(#gf8)"/><rect x="406.6" y="557.60" width="223.6" height="2.60" fill="url(#gf9)"/><rect x="406.6" y="559.60" width="223.6" height="2.60" fill="url(#gf10)"/><rect x="406.6" y="561.60" width="223.6" height="2.60" fill="url(#gf11)"/><rect x="406.6" y="563.60" width="223.6" height="2.60" fill="url(#gf12)"/><rect x="406.6" y="565.60" width="223.6" height="2.60" fill="url(#gf13)"/><rect x="406.6" y="567.60" width="223.6" height="2.60" fill="url(#gf14)"/><rect x="406.6" y="569.60" width="223.6" height="2.60" fill="url(#gf15)"/><rect x="406.6" y="571.60" width="223.6" height="2.60" fill="url(#gf16)"/><rect x="406.6" y="573.60" width="223.6" height="2.60" fill="url(#gf17)"/><rect x="406.6" y="575.60" width="223.6" height="2.60" fill="url(#gf18)"/><rect x="406.6" y="577.60" width="223.6" height="2.60" fill="url(#gf19)"/><rect x="406.6" y="579.60" width="223.6" height="2.60" fill="url(#gf20)"/><rect x="406.6" y="581.60" width="223.6" height="2.60" fill="url(#gf21)"/><rect x="406.6" y="583.60" width="223.6" height="2.60" fill="url(#gf22)"/><rect x="406.6" y="585.60" width="223.6" height="2.60" fill="url(#gf23)"/><rect x="406.6" y="587.60" width="223.6" height="2.60" fill="url(#gf24)"/><rect x="406.6" y="589.60" width="223.6" height="2.60" fill="url(#gf25)"/><rect x="406.6" y="591.60" width="223.6" height="2.60" fill="url(#gf26)"/><rect x="406.6" y="593.60" width="223.6" height="2.60" fill="url(#gf27)"/><rect x="406.6" y="595.60" width="223.6" height="2.60" fill="url(#gf28)"/><rect x="406.6" y="597.60" width="223.6" height="2.60" fill="url(#gf29)"/><rect x="406.6" y="599.60" width="223.6" height="2.60" fill="url(#gf30)"/><rect x="406.6" y="601.60" width="223.6" height="2.60" fill="url(#gf31)"/><rect x="406.6" y="603.60" width="223.6" height="2.60" fill="url(#gf32)"/><rect x="406.6" y="605.60" width="223.6" height="2.60" fill="url(#gf33)"/><rect x="406.6" y="607.60" width="223.6" height="2.60" fill="url(#gf34)"/><rect x="406.6" y="609.60" width="223.6" height="2.60" fill="url(#gf35)"/><rect x="406.6" y="611.60" width="223.6" height="2.60" fill="url(#gf36)"/><rect x="406.6" y="613.60" width="223.6" height="2.60" fill="url(#gf37)"/><rect x="406.6" y="615.60" width="223.6" height="2.60" fill="url(#gf38)"/><rect x="406.6" y="617.60" width="223.6" height="2.60" fill="url(#gf39)"/><rect x="406.6" y="619.60" width="223.6" height="2.60" fill="url(#gf40)"/><rect x="406.6" y="621.60" width="223.6" height="2.60" fill="url(#gf41)"/><rect x="406.6" y="623.60" width="223.6" height="2.60" fill="url(#gf42)"/><rect x="406.6" y="625.60" width="223.6" height="2.60" fill="url(#gf43)"/><rect x="406.6" y="627.60" width="223.6" height="2.60" fill="url(#gf44)"/><rect x="406.6" y="629.60" width="223.6" height="2.60" fill="url(#gf45)"/><rect x="406.6" y="631.60" width="223.6" height="2.60" fill="url(#gf46)"/><rect x="406.6" y="633.60" width="223.6" height="2.60" fill="url(#gf47)"/><rect x="406.6" y="635.60" width="223.6" height="2.60" fill="url(#gf48)"/><rect x="406.6" y="637.60" width="223.6" height="2.60" fill="url(#gf49)"/><rect x="406.6" y="639.60" width="223.6" height="2.60" fill="url(#gf50)"/><rect x="406.6" y="641.60" width="223.6" height="2.60" fill="url(#gf51)"/><rect x="406.6" y="643.60" width="223.6" height="2.60" fill="url(#gf52)"/><rect x="406.6" y="645.60" width="223.6" height="2.60" fill="url(#gf53)"/><rect x="406.6" y="647.60" width="223.6" height="2.60" fill="url(#gf54)"/><rect x="406.6" y="649.60" width="223.6" height="2.60" fill="url(#gf55)"/><rect x="406.6" y="651.60" width="223.6" height="2.60" fill="url(#gf56)"/><rect x="406.6" y="653.60" width="223.6" height="2.60" fill="url(#gf57)"/><rect x="406.6" y="655.60" width="223.6" height="2.60" fill="url(#gf58)"/><rect x="406.6" y="657.60" width="223.6" height="2.60" fill="url(#gf59)"/><rect x="406.6" y="659.60" width="223.6" height="2.60" fill="url(#gf60)"/><rect x="406.6" y="661.60" width="223.6" height="2.60" fill="url(#gf61)"/><rect x="406.6" y="663.60" width="223.6" height="2.60" fill="url(#gf62)"/><rect x="406.6" y="665.60" width="223.6" height="2.60" fill="url(#gf63)"/><rect x="406.6" y="667.60" width="223.6" height="2.60" fill="url(#gf64)"/><rect x="406.6" y="669.60" width="223.6" height="2.60" fill="url(#gf65)"/><rect x="406.6" y="671.60" width="223.6" height="2.60" fill="url(#gf66)"/><rect x="406.6" y="673.60" width="223.6" height="2.60" fill="url(#gf67)"/><rect x="406.6" y="675.60" width="223.6" height="2.60" fill="url(#gf68)"/><rect x="406.6" y="677.60" width="223.6" height="2.60" fill="url(#gf69)"/><rect x="406.6" y="679.60" width="223.6" height="2.60" fill="url(#gf70)"/><rect x="406.6" y="681.60" width="223.6" height="2.60" fill="url(#gf71)"/><rect x="406.6" y="683.60" width="223.6" height="2.60" fill="url(#gf72)"/><rect x="406.6" y="685.60" width="223.6" height="2.60" fill="url(#gf73)"/><rect x="406.6" y="687.60" width="223.6" height="2.60" fill="url(#gf74)"/><rect x="406.6" y="689.60" width="223.6" height="2.60" fill="url(#gf75)"/><rect x="406.6" y="691.60" width="223.6" height="2.60" fill="url(#gf76)"/><rect x="406.6" y="693.60" width="223.6" height="2.60" fill="url(#gf77)"/><rect x="406.6" y="695.60" width="223.6" height="2.60" fill="url(#gf78)"/><rect x="406.6" y="697.60" width="223.6" height="2.60" fill="url(#gf79)"/><rect x="406.6" y="699.60" width="223.6" height="2.60" fill="url(#gf80)"/><rect x="406.6" y="701.60" width="223.6" height="2.60" fill="url(#gf81)"/><rect x="406.6" y="703.60" width="223.6" height="2.60" fill="url(#gf82)"/><rect x="406.6" y="705.60" width="223.6" height="2.60" fill="url(#gf83)"/></g><g clip-path="url(#clf)" fill="none"><path d="M406.60,706.48C406.91,705.79 407.86,703.63 408.49,702.32C409.12,701.01 409.74,699.86 410.37,698.63C411.00,697.40 411.63,696.24 412.26,694.95C412.89,693.65 413.52,692.27 414.15,690.85C414.77,689.43 415.40,687.92 416.03,686.43C416.66,684.94 417.29,683.41 417.92,681.91C418.55,680.41 419.18,678.92 419.80,677.41C420.43,675.91 421.06,674.37 421.69,672.88C422.32,671.39 422.95,669.90 423.58,668.45C424.21,666.99 424.84,665.56 425.46,664.14C426.09,662.72 426.72,661.32 427.35,659.93C427.98,658.55 428.61,657.22 429.24,655.83C429.87,654.45 430.49,652.99 431.12,651.65C431.75,650.30 432.38,648.93 433.01,647.76C433.64,646.60 434.27,645.62 434.90,644.67C435.52,643.72 436.15,642.88 436.78,642.09C437.41,641.29 438.04,640.58 438.67,639.91C439.30,639.24 439.93,638.64 440.55,638.06C441.18,637.47 441.81,636.86 442.44,636.39C443.07,635.93 443.70,635.55 444.33,635.25C444.96,634.96 445.59,634.81 446.21,634.62C446.84,634.43 447.47,634.25 448.10,634.11C448.73,633.97 449.36,633.85 449.99,633.78C450.62,633.70 451.24,633.69 451.87,633.68C452.50,633.67 453.13,633.71 453.76,633.73C454.39,633.76 455.02,633.80 455.65,633.84C456.27,633.88 456.90,633.93 457.53,633.98C458.16,634.02 458.79,634.07 459.42,634.12C460.05,634.18 460.68,634.24 461.31,634.32C461.93,634.39 462.56,634.47 463.19,634.55C463.82,634.64 464.45,634.73 465.08,634.83C465.71,634.92 466.34,635.01 466.96,635.12C467.59,635.22 468.22,635.33 468.85,635.45C469.48,635.57 470.11,635.70 470.74,635.84C471.37,635.97 471.99,636.12 472.62,636.26C473.25,636.41 473.88,636.55 474.51,636.70C475.14,636.84 475.77,636.97 476.40,637.11C477.03,637.25 477.65,637.40 478.28,637.54C478.91,637.69 479.54,637.84 480.17,637.99C480.80,638.13 481.43,638.28 482.06,638.41C482.68,638.54 483.31,638.66 483.94,638.77C484.57,638.88 485.20,638.96 485.83,639.05C486.46,639.15 487.09,639.24 487.71,639.33C488.34,639.42 488.97,639.51 489.60,639.59C490.23,639.67 490.86,639.75 491.49,639.81C492.12,639.88 492.74,639.93 493.37,639.97C494.00,640.00 494.63,640.05 495.26,640.03C495.89,640.00 496.52,639.93 497.15,639.80C497.78,639.66 498.40,639.43 499.03,639.20C499.66,638.98 500.29,638.69 500.92,638.45C501.55,638.21 502.18,637.94 502.81,637.75C503.43,637.56 504.06,637.44 504.69,637.30C505.32,637.16 505.95,637.04 506.58,636.92C507.21,636.80 507.84,636.68 508.46,636.57C509.09,636.45 509.72,636.35 510.35,636.26C510.98,636.17 511.61,636.09 512.24,636.03C512.87,635.98 513.50,635.94 514.12,635.93C514.75,635.91 515.38,635.92 516.01,635.92C516.64,635.92 517.27,635.92 517.90,635.92C518.53,635.92 519.15,635.92 519.78,635.92C520.41,635.92 521.04,635.92 521.67,635.92C522.30,635.92 522.93,635.92 523.56,635.92C524.18,635.92 524.81,635.92 525.44,635.92C526.07,635.92 526.70,635.92 527.33,635.94C527.96,635.95 528.59,635.98 529.22,636.01C529.84,636.05 530.47,636.09 531.10,636.13C531.73,636.17 532.36,636.22 532.99,636.27C533.62,636.31 534.25,636.36 534.87,636.41C535.50,636.45 536.13,636.50 536.76,636.53C537.39,636.57 538.02,636.60 538.65,636.62C539.28,636.65 539.90,636.66 540.53,636.67C541.16,636.67 541.79,636.67 542.42,636.67C543.05,636.67 543.68,636.67 544.31,636.67C544.94,636.67 545.56,636.67 546.19,636.67C546.82,636.67 547.45,636.67 548.08,636.67C548.71,636.67 549.34,636.67 549.97,636.67C550.59,636.67 551.22,636.67 551.85,636.67C552.48,636.67 553.11,636.67 553.74,636.67C554.37,636.67 555.00,636.67 555.62,636.67C556.25,636.67 556.88,636.67 557.51,636.67C558.14,636.67 558.77,636.67 559.40,636.67C560.03,636.67 560.65,636.67 561.28,636.67C561.91,636.67 562.54,636.67 563.17,636.67C563.80,636.67 564.43,636.67 565.06,636.67C565.69,636.67 566.31,636.67 566.94,636.67C567.57,636.67 568.20,636.67 568.83,636.67C569.46,636.67 570.09,636.67 570.72,636.67C571.34,636.67 571.97,636.67 572.60,636.67C573.23,636.67 573.86,636.67 574.49,636.67C575.12,636.67 575.75,636.67 576.37,636.67C577.00,636.67 577.63,636.67 578.26,636.67C578.89,636.67 579.52,636.67 580.15,636.67C580.78,636.67 581.41,636.67 582.03,636.67C582.66,636.67 583.29,636.67 583.92,636.67C584.55,636.67 585.18,636.67 585.81,636.67C586.44,636.67 587.06,636.67 587.69,636.67C588.32,636.67 588.95,636.67 589.58,636.67C590.21,636.67 590.84,636.67 591.47,636.67C592.09,636.67 592.72,636.67 593.35,636.67C593.98,636.67 594.61,636.67 595.24,636.67C595.87,636.67 596.50,636.67 597.13,636.67C597.75,636.67 598.38,636.67 599.01,636.67C599.64,636.67 600.27,636.67 600.90,636.67C601.53,636.67 602.16,636.67 602.78,636.67C603.41,636.67 604.04,636.67 604.67,636.67C605.30,636.67 605.93,636.67 606.56,636.67C607.19,636.67 607.81,636.67 608.44,636.67C609.07,636.67 609.70,636.67 610.33,636.67C610.96,636.67 611.59,636.67 612.22,636.67C612.84,636.67 613.47,636.67 614.10,636.67C614.73,636.67 615.36,636.67 615.99,636.67C616.62,636.67 617.25,636.67 617.88,636.67C618.50,636.67 619.13,636.67 619.76,636.67C620.39,636.67 621.02,636.67 621.65,636.67C622.28,636.67 622.91,636.67 623.53,636.67C624.16,636.67 624.79,636.67 625.42,636.67C626.05,636.67 626.68,636.67 627.31,636.67C627.94,636.67 628.56,636.67 629.19,636.67C629.82,636.67 630.77,636.67 631.08,636.67" stroke="#fff" stroke-width="1.5"/><path d="M431.73,706.59C434.05,706.59 441.49,706.61 445.64,706.59C449.79,706.57 454.18,706.56 456.62,706.48C459.06,706.40 459.18,706.42 460.28,706.11C461.38,705.80 462.35,705.28 463.21,704.61C464.06,703.95 464.67,703.29 465.40,702.11C466.14,700.93 466.91,699.34 467.60,697.52C468.29,695.70 468.94,693.64 469.55,691.21C470.16,688.78 470.69,685.75 471.26,682.96C471.83,680.17 472.48,677.19 472.97,674.45C473.46,671.71 473.78,669.03 474.19,666.53C474.59,664.03 475.00,661.31 475.41,659.44C475.81,657.57 476.26,656.17 476.63,655.33C476.99,654.49 477.28,654.40 477.60,654.40C477.93,654.40 478.21,654.49 478.58,655.33C478.95,656.17 479.31,657.51 479.80,659.44C480.29,661.37 480.94,664.41 481.51,666.91C482.08,669.41 482.61,671.77 483.22,674.45C483.83,677.12 484.48,680.45 485.17,682.96C485.86,685.47 486.63,687.60 487.36,689.53C488.10,691.46 488.75,693.14 489.56,694.53C490.37,695.93 491.23,696.90 492.24,697.89C493.26,698.89 494.52,699.85 495.66,700.51C496.80,701.16 497.94,701.53 499.08,701.81C500.21,702.09 501.39,702.19 502.49,702.19C503.59,702.19 504.57,702.12 505.66,701.81C506.76,701.50 507.94,700.97 509.08,700.32C510.22,699.67 511.28,698.86 512.50,697.89C513.72,696.93 515.14,695.72 516.40,694.53C517.66,693.35 518.84,692.11 520.06,690.80C521.28,689.49 522.58,687.69 523.72,686.69C524.86,685.70 525.67,684.95 526.89,684.83C528.11,684.70 529.37,685.20 531.04,685.95C532.71,686.69 534.86,688.44 536.90,689.31C538.93,690.18 540.56,690.61 543.24,691.17C545.92,691.73 549.58,692.11 553.00,692.67C556.42,693.23 560.08,694.47 563.74,694.53C567.40,694.60 571.34,693.66 574.96,693.04C578.58,692.42 581.79,691.17 585.45,690.80C589.11,690.43 592.98,690.61 596.92,690.80C600.86,690.99 605.05,691.67 609.12,691.92C613.19,692.17 617.82,692.17 621.32,692.29C624.82,692.42 628.64,692.60 630.10,692.67" stroke="#000" stroke-width="3" stroke-dasharray="8.5 3 2.6 3"/></g><rect x="406.6" y="539.6" width="223.6" height="168.0" fill="none" stroke="#262626" stroke-width="0.9"/><path d="M406.6,707.6v2.6M406.6,539.6v-2.6M455.4,707.6v2.6M455.4,539.6v-2.6M504.2,707.6v2.6M504.2,539.6v-2.6M553.0,707.6v2.6M553.0,539.6v-2.6M601.8,707.6v2.6M601.8,539.6v-2.6M406.6,707.6h-3.4M630.2,707.6h2.6M406.6,670.3h-3.4M630.2,670.3h2.6M406.6,632.9h-3.4M630.2,632.9h2.6M406.6,595.6h-3.4M630.2,595.6h2.6M406.6,558.3h-3.4M630.2,558.3h2.6" stroke="#262626" stroke-width="1" fill="none"/><text x="397.7" y="715.6" text-anchor="end" font-size="17.8" fill="#262626">0</text><text x="397.7" y="678.3" text-anchor="end" font-size="17.8" fill="#262626">10</text><text x="397.7" y="640.9" text-anchor="end" font-size="17.8" fill="#262626">20</text><text x="397.7" y="603.6" text-anchor="end" font-size="17.8" fill="#262626">30</text><text x="397.7" y="566.3" text-anchor="end" font-size="17.8" fill="#262626">40</text><text x="406.6" y="733.3" text-anchor="middle" font-size="17.8" fill="#262626">0</text><text x="455.4" y="733.3" text-anchor="middle" font-size="17.8" fill="#262626">2</text><text x="504.2" y="733.3" text-anchor="middle" font-size="17.8" fill="#262626">4</text><text x="553.0" y="733.3" text-anchor="middle" font-size="17.8" fill="#262626">6</text><text x="601.8" y="733.3" text-anchor="middle" font-size="17.8" fill="#262626">8</text><text x="517.9" y="762.8" text-anchor="middle" font-size="19.6" fill="#262626" textLength="63" lengthAdjust="spacing">Q (&#197;<tspan font-size="14" dy="-9.5">-1</tspan><tspan dy="9.5">)</tspan></text><text transform="translate(370.4,624.4) rotate(-90)" text-anchor="middle" font-size="18.8" fill="#262626" textLength="72.5" lengthAdjust="spacing">E (meV)</text><rect x="636.3" y="540.1" width="13.2" height="167.5" fill="url(#cbar)" stroke="#8a8a8a" stroke-width="0.8"/><path d="M649.5,665.7h-1.6M649.5,623.9h-1.6M649.5,582.0h-1.6" stroke="#262626" stroke-width="0.9"/><text x="653.7" y="713.2" font-size="15.5" fill="#262626">0</text><text x="653.7" y="671.3" font-size="15.5" fill="#262626">1</text><text x="653.7" y="629.5" font-size="15.5" fill="#262626">2</text><text x="653.7" y="587.6" font-size="15.5" fill="#262626">3</text><text x="653.7" y="545.7" font-size="15.5" fill="#262626">4</text><text transform="translate(680.6,623.9) rotate(-90)" text-anchor="middle" font-size="16.4" fill="#262626">B(Q,E) (arb. u.)</text><text x="499.2" y="561.9" font-size="22" fill="#fff" textLength="110.4" lengthAdjust="spacingAndGlyphs">shear strain</text><text transform="translate(0.9,20.6) scale(0.87,1)" font-size="27">a</text><text x="350.9" y="20.6" font-size="27">b</text><text x="0.6" y="277.0" font-size="27">c</text><text x="350.3" y="277.0" font-size="27">d</text><text x="0.0" y="535.0" font-size="27">e</text><text x="351.3" y="535.0" font-size="27">f</text></svg></body></html>
